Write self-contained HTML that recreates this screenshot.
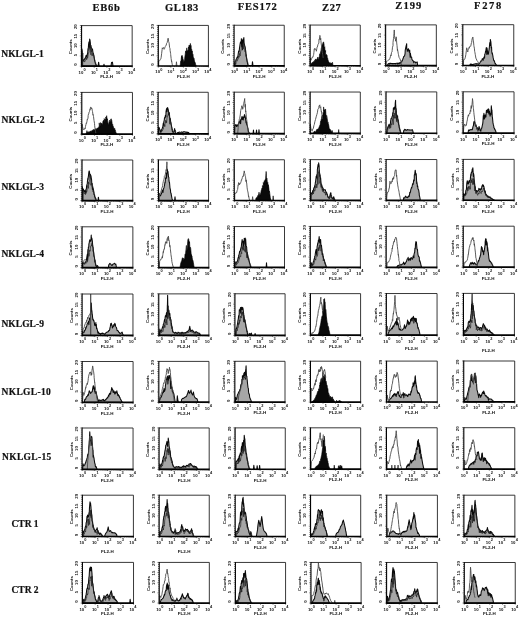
<!DOCTYPE html>
<html><head><meta charset="utf-8"><style>
html,body{margin:0;padding:0;background:#fff;}
svg{display:block;will-change:transform;}
.hd{font-family:"Liberation Serif",serif;font-weight:bold;font-size:10.5px;fill:#111;stroke:#111;stroke-width:0.2;}
.rl{font-family:"Liberation Serif",serif;font-weight:bold;font-size:9.5px;fill:#111;stroke:#111;stroke-width:0.2;}
.tk{font-family:"Liberation Sans",sans-serif;font-weight:bold;font-size:4.3px;fill:#111;}
.sp{font-family:"Liberation Sans",sans-serif;font-weight:bold;font-size:3.9px;fill:#111;}
.hg{fill:#a6a6a6;stroke:#0a0a0a;stroke-width:1.05;stroke-linejoin:round;}
.hk{fill:#0a0a0a;stroke:#000;stroke-width:0.6;stroke-linejoin:round;}
.hi{fill:none;stroke:#222;stroke-width:0.7;stroke-linejoin:round;}
.ho{fill:none;stroke:#4a4a4a;stroke-width:0.9;stroke-linejoin:round;}
</style></head><body>
<svg width="520" height="621" viewBox="0 0 520 621" xmlns="http://www.w3.org/2000/svg">
<rect width="520" height="621" fill="#fff"/>

<text class="hd" x="92.6" y="10.8" textLength="27.3" lengthAdjust="spacing">EB6b</text>
<text class="hd" x="165.1" y="10.5" textLength="33.2" lengthAdjust="spacing">GL183</text>
<text class="hd" x="237.8" y="10.1" textLength="38.9" lengthAdjust="spacing">FES172</text>
<text class="hd" x="322" y="10.8" textLength="18.8" lengthAdjust="spacing">Z27</text>
<text class="hd" x="395.3" y="8.6" textLength="26" lengthAdjust="spacing">Z199</text>
<text class="hd" x="474.1" y="8.6" textLength="27.2" lengthAdjust="spacing">F278</text>
<text class="rl" x="1.2" y="56.6" textLength="42.6" lengthAdjust="spacing">NKLGL-1</text>
<text class="rl" x="1.4" y="122.6" textLength="43" lengthAdjust="spacing">NKLGL-2</text>
<text class="rl" x="1.4" y="189.9" textLength="42.6" lengthAdjust="spacing">NKLGL-3</text>
<text class="rl" x="1.4" y="257.2" textLength="42.6" lengthAdjust="spacing">NKLGL-4</text>
<text class="rl" x="1.4" y="327.2" textLength="42.6" lengthAdjust="spacing">NKLGL-9</text>
<text class="rl" x="1.6" y="394.9" textLength="49.1" lengthAdjust="spacing">NKLGL-10</text>
<text class="rl" x="2" y="459.6" textLength="49.3" lengthAdjust="spacing">NKLGL-15</text>
<text class="rl" x="11.5" y="526.6" textLength="27.1" lengthAdjust="spacing">CTR 1</text>
<text class="rl" x="11.5" y="593" textLength="27.1" lengthAdjust="spacing">CTR 2</text>
<path class="hg" d="M82,66.1L82,49.01L82,66.1L82,49.68L82.25,51.17L82.37,59.64L82.5,60.28L83,59.45L83.5,60.48L83.85,60.28L84,60.19L84.5,59.13L85,58.3L85.08,57.97L85.5,58.1L86,55.55L86.06,56.18L86.5,56.96L86.92,54.88L87,57.07L87.5,53.39L87.54,54.44L88,48.51L88.15,50.5L88.5,45.33L88.77,43.13L89,41.8L89.5,47.6L89.63,39.14L90,40.01L90.37,43.01L90.5,47.88L91,45.54L91.23,47.52L91.5,47.78L92,49.47L92.22,49.84L92.5,49.08L93,52.74L93.08,52.77L93.5,53.92L93.94,56.1L94,56.36L94.5,60.26L94.92,61.07L95,61.88L95.5,63.96L95.91,64.47L96,64.63L96.5,65.63L96.77,66.1L96.77,66.1Z"/><path class="hg" d="M98,66.1L98,66.1L98,66.1L98.5,63L98.62,62.19L99,64.71L99.23,66.1L99.23,66.1Z"/><path class="hg" d="M103.54,66.1L103.54,66.1L103.54,66.1L104.03,64.17L104.04,64.62L104.52,66.1L104.52,66.1Z"/><path class="hg" d="M110.92,66.1L110.92,66.1L110.92,66.1L111.42,63.25L111.54,62.42L111.92,62.34L112.4,62.12L112.42,62.19L112.92,65.26L113.14,66.1L113.14,66.1Z"/><path class="hi" d="M82.6,52.77L82.6,52.77L82.6,66.1L82.6,53.98L82.85,53.03L82.97,61.65L83.1,61.24L83.6,61.25L84.1,61.46L84.45,61.44L84.6,62.08L85.1,60.9L85.6,60.18L85.68,60.02L86.1,59.02L86.6,58.17L86.66,59.61L87.1,57.23L87.52,57.56L87.6,58.16L88.1,55.24L88.14,53.82L88.6,53.48L88.75,52.27L89.1,52.31L89.37,47.86L89.6,48.57L90.1,49.45L90.23,44.74L90.6,52.18L90.97,54.93L91.1,49.11L91.6,51.88L91.83,49.78L92.1,56.05L92.6,53.64L92.82,53.52L93.1,53.22L93.6,55.42L93.68,55.14L94.1,56.84L94.54,59.06L94.6,59.06L95.1,61.71L95.52,62.22L95.6,62.38L96.1,64.38L96.51,64.82L96.6,65.3L97.1,65.77L97.37,66.1"/><path d="M81.57,25.6H132.17V66.1" fill="none" stroke="#222" stroke-width="0.9"/><path d="M81.57,25.2V66.1" fill="none" stroke="#000" stroke-width="1.1"/><path d="M81.07,66.1H132.67" fill="none" stroke="#000" stroke-width="1.7"/><path d="M79.87,66.1H81.57M80.37,64.07H81.57M80.37,62.05H81.57M80.37,60.02H81.57M80.37,58H81.57M79.87,55.97H81.57M80.37,53.95H81.57M80.37,51.92H81.57M80.37,49.9H81.57M80.37,47.88H81.57M79.87,45.85H81.57M80.37,43.82H81.57M80.37,41.8H81.57M80.37,39.77H81.57M80.37,37.75H81.57M79.87,35.73H81.57M80.37,33.7H81.57M80.37,31.67H81.57M80.37,29.65H81.57M80.37,27.62H81.57M79.87,25.6H81.57M81.57,66.1V67.7M85.38,66.1V67M87.61,66.1V67M89.19,66.1V67M90.42,66.1V67M91.42,66.1V67M92.26,66.1V67M93,66.1V67M93.65,66.1V67M94.22,66.1V67.7M98.03,66.1V67M100.26,66.1V67M101.84,66.1V67M103.07,66.1V67M104.07,66.1V67M104.91,66.1V67M105.65,66.1V67M106.3,66.1V67M106.87,66.1V67.7M110.68,66.1V67M112.91,66.1V67M114.49,66.1V67M115.72,66.1V67M116.72,66.1V67M117.56,66.1V67M118.3,66.1V67M118.95,66.1V67M119.52,66.1V67.7M123.33,66.1V67M125.56,66.1V67M127.14,66.1V67M128.37,66.1V67M129.37,66.1V67M130.21,66.1V67M130.95,66.1V67M131.6,66.1V67M132.17,66.1V67.7" stroke="#111" stroke-width="0.6" fill="none"/><text class="tk" transform="translate(77.17,64.65) rotate(-90)" text-anchor="middle" font-size="4.8">0</text><text class="tk" transform="translate(77.17,55.16) rotate(-90)" text-anchor="middle" font-size="4.8">5</text><text class="tk" transform="translate(77.17,45.67) rotate(-90)" text-anchor="middle" font-size="4.8">10</text><text class="tk" transform="translate(77.17,36.19) rotate(-90)" text-anchor="middle" font-size="4.8">15</text><text class="tk" transform="translate(77.17,26.7) rotate(-90)" text-anchor="middle" font-size="4.8">20</text><text class="tk" transform="translate(71.97,46.75) rotate(-90)" font-size="5" textLength="14.8" lengthAdjust="spacingAndGlyphs" x="-7.4">Counts</text><text class="tk" x="80.97" y="73.6" text-anchor="middle" font-size="5.3">10</text><text class="sp" x="83.47" y="70.8">0</text><text class="tk" x="93.34" y="73.6" text-anchor="middle" font-size="5.3">10</text><text class="sp" x="95.84" y="70.8">1</text><text class="tk" x="105.71" y="73.6" text-anchor="middle" font-size="5.3">10</text><text class="sp" x="108.21" y="70.8">2</text><text class="tk" x="118.08" y="73.6" text-anchor="middle" font-size="5.3">10</text><text class="sp" x="120.58" y="70.8">3</text><text class="tk" x="130.45" y="73.6" text-anchor="middle" font-size="5.3">10</text><text class="sp" x="132.95" y="70.8">4</text><text class="tk" x="100.17" y="78.4" font-size="4.6" textLength="12.8" lengthAdjust="spacingAndGlyphs">FL2-H</text>
<path class="hk" d="M180.15,65.98L180.15,65.98L180.15,65.98L180.65,61.48L180.77,62.2L181.15,59.47L181.63,55.74L181.65,58.65L182.15,55.36L182.25,57.11L182.65,56.95L182.98,58.88L183.15,59.15L183.65,60.81L183.85,62.77L184.15,60.92L184.65,59.25L184.71,57.9L185.15,54.87L185.65,50.93L185.69,52.47L186.15,51.3L186.65,49.22L186.68,47.9L187.15,50.43L187.54,50.53L187.65,51.82L188.15,50.05L188.4,46.94L188.65,48.34L189.15,45.11L189.38,46.7L189.65,45.28L190.15,45.39L190.37,43.4L190.65,44.95L191.15,45.42L191.23,48.73L191.65,48.97L192.09,52.34L192.15,50.93L192.65,54.03L193.08,54.51L193.15,56.19L193.65,58.39L194.06,58.08L194.15,58.99L194.65,62.04L194.92,61.86L195.15,62.44L195.65,64.25L195.78,65L196.15,65.68L196.28,65.98L196.28,65.98Z"/><path class="ho" d="M158.62,60.96L158.62,60.96L158.62,65.98L158.62,61.57L159.12,60.86L159.62,60.72L159.85,60.37L160.12,59.8L160.62,59.04L161.08,58.17L161.12,57.7L161.62,53.71L162.12,49.52L162.31,47.79L162.62,48.68L163.12,47.98L163.54,47.5L163.62,47.94L164.12,49.32L164.52,48.62L164.62,48.44L165.12,46.67L165.38,46.43L165.62,46.19L166.12,45.21L166.25,45.04L166.62,43.32L167.12,42.68L167.23,42.41L167.62,40.23L168.12,38.16L168.22,38.44L168.62,41.53L169.08,42.81L169.12,43.11L169.62,47.63L169.94,48.5L170.12,50.5L170.62,53.54L170.68,54.48L171.12,58.44L171.54,61.47L171.62,60.83L172.12,63.86L172.15,64.17L172.62,65.51L172.77,65.98"/><path class="ho" d="M176.09,65.98L176.09,65.98L176.09,65.98L176.46,61.78L176.59,63.08L176.95,65.98"/><path d="M158.31,25.42H208.41V65.98" fill="none" stroke="#222" stroke-width="0.9"/><path d="M158.31,25.02V65.98" fill="none" stroke="#000" stroke-width="1.1"/><path d="M157.81,65.98H208.91" fill="none" stroke="#000" stroke-width="1.7"/><path d="M156.61,65.98H158.31M157.11,63.95H158.31M157.11,61.92H158.31M157.11,59.9H158.31M157.11,57.87H158.31M156.61,55.84H158.31M157.11,53.81H158.31M157.11,51.78H158.31M157.11,49.76H158.31M157.11,47.73H158.31M156.61,45.7H158.31M157.11,43.67H158.31M157.11,41.64H158.31M157.11,39.62H158.31M157.11,37.59H158.31M156.61,35.56H158.31M157.11,33.53H158.31M157.11,31.5H158.31M157.11,29.48H158.31M157.11,27.45H158.31M156.61,25.42H158.31M158.31,65.98V67.58M162.08,65.98V66.88M164.28,65.98V66.88M165.85,65.98V66.88M167.06,65.98V66.88M168.05,65.98V66.88M168.89,65.98V66.88M169.62,65.98V66.88M170.26,65.98V66.88M170.83,65.98V67.58M174.6,65.98V66.88M176.81,65.98V66.88M178.37,65.98V66.88M179.59,65.98V66.88M180.58,65.98V66.88M181.42,65.98V66.88M182.14,65.98V66.88M182.78,65.98V66.88M183.36,65.98V67.58M187.13,65.98V66.88M189.33,65.98V66.88M190.9,65.98V66.88M192.11,65.98V66.88M193.1,65.98V66.88M193.94,65.98V66.88M194.67,65.98V66.88M195.31,65.98V66.88M195.88,65.98V67.58M199.65,65.98V66.88M201.86,65.98V66.88M203.42,65.98V66.88M204.64,65.98V66.88M205.63,65.98V66.88M206.47,65.98V66.88M207.19,65.98V66.88M207.83,65.98V66.88M208.41,65.98V67.58" stroke="#111" stroke-width="0.6" fill="none"/><text class="tk" transform="translate(153.91,64.53) rotate(-90)" text-anchor="middle" font-size="4.8">0</text><text class="tk" transform="translate(153.91,55.03) rotate(-90)" text-anchor="middle" font-size="4.8">5</text><text class="tk" transform="translate(153.91,45.52) rotate(-90)" text-anchor="middle" font-size="4.8">10</text><text class="tk" transform="translate(153.91,36.02) rotate(-90)" text-anchor="middle" font-size="4.8">15</text><text class="tk" transform="translate(153.91,26.52) rotate(-90)" text-anchor="middle" font-size="4.8">20</text><text class="tk" transform="translate(148.71,46.6) rotate(-90)" font-size="5" textLength="14.8" lengthAdjust="spacingAndGlyphs" x="-7.4">Counts</text><text class="tk" x="157.71" y="73.48" text-anchor="middle" font-size="5.3">10</text><text class="sp" x="160.21" y="70.68">0</text><text class="tk" x="169.95" y="73.48" text-anchor="middle" font-size="5.3">10</text><text class="sp" x="172.45" y="70.68">1</text><text class="tk" x="182.2" y="73.48" text-anchor="middle" font-size="5.3">10</text><text class="sp" x="184.7" y="70.68">2</text><text class="tk" x="194.44" y="73.48" text-anchor="middle" font-size="5.3">10</text><text class="sp" x="196.94" y="70.68">3</text><text class="tk" x="206.69" y="73.48" text-anchor="middle" font-size="5.3">10</text><text class="sp" x="209.19" y="70.68">4</text><text class="tk" x="176.91" y="78.28" font-size="4.6" textLength="12.8" lengthAdjust="spacingAndGlyphs">FL2-H</text>
<path class="hg" d="M234.62,65.86L234.62,65.86L234.62,65.86L234.86,62.19L235.12,61.48L235.62,60.93L235.85,60.42L236.12,59.13L236.62,58.98L236.83,57.92L237.12,57.1L237.62,57.67L237.69,57.3L238.12,54.48L238.55,51.45L238.62,50.97L239.12,51.95L239.54,47.45L239.62,47.62L240.12,43.84L240.52,41.98L240.62,42.38L241.12,43.28L241.38,38.65L241.62,46.56L242.12,40.13L242.62,44.53L242.62,49.66L243.12,39.02L243.62,41.89L243.85,37.46L244.12,43.3L244.46,44.32L244.62,45.6L245.08,46.56L245.12,46.61L245.62,50.74L245.69,51.33L246.12,55.75L246.31,56.91L246.62,58.33L247.12,61.95L247.17,61.61L247.62,63.78L248.12,65.71L248.15,65.86L248.15,65.86Z"/><path class="hg" d="M252.09,65.86L252.09,65.86L252.09,65.86L252.46,61.68L252.59,62.25L252.95,65.86L252.95,65.86Z"/><path class="hi" d="M235.22,65.86L235.22,65.86L235.22,65.86L235.46,62.56L235.72,64.34L236.22,61.41L236.45,60.98L236.72,60.57L237.22,61.15L237.43,59.79L237.72,59.03L238.22,59.15L238.29,57.88L238.72,56L239.15,57.3L239.22,55.5L239.72,53.25L240.14,55.9L240.22,54.34L240.72,51.31L241.12,49.97L241.22,48.95L241.72,45.73L241.98,45.36L242.22,45.32L242.72,44.54L243.22,43.3L243.22,48.98L243.72,45.44L244.22,43.74L244.45,46.02L244.72,47.41L245.06,51.8L245.22,49.11L245.68,50.69L245.72,51.77L246.22,56.57L246.29,54.62L246.72,58.38L246.91,59.04L247.22,60.14L247.72,62.34L247.77,62.44L248.22,64.83L248.72,65.73L248.75,65.86"/><path d="M234.09,25.24H284.24V65.86" fill="none" stroke="#222" stroke-width="0.9"/><path d="M234.09,24.84V65.86" fill="none" stroke="#000" stroke-width="1.1"/><path d="M233.59,65.86H284.74" fill="none" stroke="#000" stroke-width="1.7"/><path d="M232.39,65.86H234.09M232.89,63.83H234.09M232.89,61.8H234.09M232.89,59.77H234.09M232.89,57.74H234.09M232.39,55.7H234.09M232.89,53.67H234.09M232.89,51.64H234.09M232.89,49.61H234.09M232.89,47.58H234.09M232.39,45.55H234.09M232.89,43.52H234.09M232.89,41.49H234.09M232.89,39.46H234.09M232.89,37.43H234.09M232.39,35.4H234.09M232.89,33.36H234.09M232.89,31.33H234.09M232.89,29.3H234.09M232.89,27.27H234.09M232.39,25.24H234.09M234.09,65.86V67.46M237.86,65.86V66.76M240.07,65.86V66.76M241.64,65.86V66.76M242.85,65.86V66.76M243.85,65.86V66.76M244.68,65.86V66.76M245.41,65.86V66.76M246.05,65.86V66.76M246.63,65.86V67.46M250.4,65.86V66.76M252.61,65.86V66.76M254.18,65.86V66.76M255.39,65.86V66.76M256.38,65.86V66.76M257.22,65.86V66.76M257.95,65.86V66.76M258.59,65.86V66.76M259.16,65.86V67.46M262.94,65.86V66.76M265.15,65.86V66.76M266.71,65.86V66.76M267.93,65.86V66.76M268.92,65.86V66.76M269.76,65.86V66.76M270.49,65.86V66.76M271.13,65.86V66.76M271.7,65.86V67.46M275.48,65.86V66.76M277.68,65.86V66.76M279.25,65.86V66.76M280.47,65.86V66.76M281.46,65.86V66.76M282.3,65.86V66.76M283.02,65.86V66.76M283.67,65.86V66.76M284.24,65.86V67.46" stroke="#111" stroke-width="0.6" fill="none"/><text class="tk" transform="translate(229.69,64.41) rotate(-90)" text-anchor="middle" font-size="4.8">0</text><text class="tk" transform="translate(229.69,54.89) rotate(-90)" text-anchor="middle" font-size="4.8">5</text><text class="tk" transform="translate(229.69,45.38) rotate(-90)" text-anchor="middle" font-size="4.8">10</text><text class="tk" transform="translate(229.69,35.86) rotate(-90)" text-anchor="middle" font-size="4.8">15</text><text class="tk" transform="translate(229.69,26.34) rotate(-90)" text-anchor="middle" font-size="4.8">20</text><text class="tk" transform="translate(224.49,46.45) rotate(-90)" font-size="5" textLength="14.8" lengthAdjust="spacingAndGlyphs" x="-7.4">Counts</text><text class="tk" x="233.49" y="73.36" text-anchor="middle" font-size="5.3">10</text><text class="sp" x="235.99" y="70.56">0</text><text class="tk" x="245.75" y="73.36" text-anchor="middle" font-size="5.3">10</text><text class="sp" x="248.25" y="70.56">1</text><text class="tk" x="258" y="73.36" text-anchor="middle" font-size="5.3">10</text><text class="sp" x="260.5" y="70.56">2</text><text class="tk" x="270.26" y="73.36" text-anchor="middle" font-size="5.3">10</text><text class="sp" x="272.76" y="70.56">3</text><text class="tk" x="282.52" y="73.36" text-anchor="middle" font-size="5.3">10</text><text class="sp" x="285.02" y="70.56">4</text><text class="tk" x="252.69" y="78.16" font-size="4.6" textLength="12.8" lengthAdjust="spacingAndGlyphs">FL2-H</text>
<path class="hk" d="M310.62,65.74L310.62,65.74L310.62,65.74L311.12,63.7L311.23,63.38L311.62,63.09L312.12,62.94L312.62,62.27L313.08,61.9L313.12,62.56L313.62,61.51L314.12,61.71L314.31,60.85L314.62,60.33L315.12,60.44L315.54,58.93L315.62,60.06L316.12,59.68L316.62,59.15L316.77,59.15L317.12,58.54L317.62,58.4L317.75,57.04L318.12,58.32L318.62,60.58L318.62,59.55L319.12,57.08L319.23,57.58L319.62,54.06L320.12,54.39L320.22,53.23L320.62,52.02L321.08,49.99L321.12,49L321.62,46.91L321.94,45.86L322.12,45.2L322.62,43.75L322.68,43.67L323.12,42.19L323.54,42.05L323.62,41.95L324.12,44.61L324.15,48.42L324.62,47.17L324.77,46.68L325.12,52.1L325.62,50.42L325.63,54.19L326.12,54.67L326.37,54.2L326.62,54.64L327.12,55.4L327.23,58.12L327.62,57.98L328.09,60.63L328.12,60.37L328.62,61.94L329.08,61.97L329.12,62.46L329.62,62.96L330.12,62.48L330.31,62.65L330.62,63.39L331.12,62.98L331.54,63.79L331.62,63.24L332.12,62.68L332.52,62.23L332.62,62.91L333.02,65.74L333.02,65.74Z"/><path class="ho" d="M310.37,58.06L310.37,58.06L310.37,65.74L310.37,58.29L310.87,59.61L311.23,60.19L311.37,59.22L311.87,58.14L312.37,57.05L312.46,57.12L312.87,57.3L313.37,55.57L313.69,54.31L313.87,52.8L314.31,48.94L314.37,49.29L314.87,48.29L315.29,49.38L315.37,49.18L315.87,49.76L316.15,50.1L316.37,51.24L316.87,48.33L317.02,47.12L317.37,46.98L317.87,44.9L318,44.44L318.37,43.9L318.87,42.97L318.98,39.19L319.37,39.57L319.85,36.36L319.87,35.38L320.37,39.85L320.71,38.32L320.87,40.38L321.37,45.26L321.45,45.18L321.87,48.67L321.94,50.36L322.37,52.61L322.68,54.64L322.87,55.77L323.17,58.06"/><path d="M310.13,25.06H360.28V65.74" fill="none" stroke="#222" stroke-width="0.9"/><path d="M310.13,24.66V65.74" fill="none" stroke="#000" stroke-width="1.1"/><path d="M309.63,65.74H360.78" fill="none" stroke="#000" stroke-width="1.7"/><path d="M308.43,65.74H310.13M308.93,63.71H310.13M308.93,61.67H310.13M308.93,59.64H310.13M308.93,57.6H310.13M308.43,55.57H310.13M308.93,53.54H310.13M308.93,51.5H310.13M308.93,49.47H310.13M308.93,47.43H310.13M308.43,45.4H310.13M308.93,43.37H310.13M308.93,41.33H310.13M308.93,39.3H310.13M308.93,37.26H310.13M308.43,35.23H310.13M308.93,33.2H310.13M308.93,31.16H310.13M308.93,29.13H310.13M308.93,27.09H310.13M308.43,25.06H310.13M310.13,65.74V67.34M313.9,65.74V66.64M316.11,65.74V66.64M317.68,65.74V66.64M318.89,65.74V66.64M319.88,65.74V66.64M320.72,65.74V66.64M321.45,65.74V66.64M322.09,65.74V66.64M322.67,65.74V67.34M326.44,65.74V66.64M328.65,65.74V66.64M330.21,65.74V66.64M331.43,65.74V66.64M332.42,65.74V66.64M333.26,65.74V66.64M333.99,65.74V66.64M334.63,65.74V66.64M335.2,65.74V67.34M338.98,65.74V66.64M341.19,65.74V66.64M342.75,65.74V66.64M343.97,65.74V66.64M344.96,65.74V66.64M345.8,65.74V66.64M346.53,65.74V66.64M347.17,65.74V66.64M347.74,65.74V67.34M351.52,65.74V66.64M353.72,65.74V66.64M355.29,65.74V66.64M356.5,65.74V66.64M357.5,65.74V66.64M358.34,65.74V66.64M359.06,65.74V66.64M359.71,65.74V66.64M360.28,65.74V67.34" stroke="#111" stroke-width="0.6" fill="none"/><text class="tk" transform="translate(305.73,64.29) rotate(-90)" text-anchor="middle" font-size="4.8">0</text><text class="tk" transform="translate(305.73,54.76) rotate(-90)" text-anchor="middle" font-size="4.8">5</text><text class="tk" transform="translate(305.73,45.22) rotate(-90)" text-anchor="middle" font-size="4.8">10</text><text class="tk" transform="translate(305.73,35.69) rotate(-90)" text-anchor="middle" font-size="4.8">15</text><text class="tk" transform="translate(305.73,26.16) rotate(-90)" text-anchor="middle" font-size="4.8">20</text><text class="tk" transform="translate(300.53,46.3) rotate(-90)" font-size="5" textLength="14.8" lengthAdjust="spacingAndGlyphs" x="-7.4">Counts</text><text class="tk" x="309.53" y="73.24" text-anchor="middle" font-size="5.3">10</text><text class="sp" x="312.03" y="70.44">0</text><text class="tk" x="321.79" y="73.24" text-anchor="middle" font-size="5.3">10</text><text class="sp" x="324.29" y="70.44">1</text><text class="tk" x="334.04" y="73.24" text-anchor="middle" font-size="5.3">10</text><text class="sp" x="336.54" y="70.44">2</text><text class="tk" x="346.3" y="73.24" text-anchor="middle" font-size="5.3">10</text><text class="sp" x="348.8" y="70.44">3</text><text class="tk" x="358.56" y="73.24" text-anchor="middle" font-size="5.3">10</text><text class="sp" x="361.06" y="70.44">4</text><text class="tk" x="328.73" y="78.04" font-size="4.6" textLength="12.8" lengthAdjust="spacingAndGlyphs">FL2-H</text>
<path class="hg" d="M387.23,65.62L387.23,65.62L387.23,65.62L387.73,64.49L387.85,64.3L388.23,63.65L388.73,63.57L389.23,64.13L389.73,63.25L390.23,63.46L390.31,63.61L390.73,63.26L391.23,63.5L391.73,63.47L392.23,63.77L392.73,63.5L392.77,63.58L393.23,63.84L393.73,63.52L394.23,63.55L394.73,63.52L395.23,63.5L395.23,64L395.73,63.45L396.23,63.33L396.73,63.35L397.23,63.64L397.69,63.12L397.73,64L398.23,63.05L398.73,63.44L399.23,63.75L399.73,62.61L400.15,62.7L400.23,63.33L400.73,62.62L401.23,61.92L401.73,61.78L402,60.75L402.23,60.74L402.73,59.5L403.23,57.93L403.23,58.38L403.73,56.41L404.09,56.45L404.23,56.23L404.73,55.33L405.08,53.3L405.23,50.01L405.73,47.87L406.06,46.15L406.23,45.77L406.68,43.68L406.73,48.89L407.23,49.68L407.29,51.35L407.73,49.66L408.15,50.25L408.23,48.6L408.73,50.14L408.77,50.91L409.23,52.19L409.73,50.04L409.75,51.91L410.23,57.35L410.37,53.18L410.73,55.72L410.98,56.14L411.23,57.24L411.73,57.46L411.85,59.33L412.23,59.64L412.71,60.69L412.73,60.41L413.23,60.96L413.69,61.88L413.73,62.69L414.23,61.77L414.73,61.76L414.92,61.89L415.23,62.06L415.73,62.97L416.15,62.51L416.23,62.39L416.73,62.12L417.14,61.9L417.23,62.12L417.63,65.62L417.63,65.62Z"/><path class="ho" d="M386,65.62L386,65.62L386,65.62L386.37,61.55L386.5,61.18L387,61.44L387.5,60.78L387.85,60.63L388,60.45L388.5,60L389,59.81L389.5,59.45L389.69,58.83L390,58.11L390.5,56.29L390.92,54.9L391,55.76L391.5,52.57L392,51.97L392.15,50.56L392.5,47.2L393,45.72L393.02,42.4L393.5,38.37L393.75,36.29L394,33.44L394.25,29.94L394.5,35.36L394.74,37.75L395,38.94L395.48,39.26L395.5,41.21L396,37.7L396.22,36.83L396.5,40.14L396.71,42.99L397,45.36L397.45,50.63L397.5,49.28L398,51.99L398.31,53.78L398.5,54.66L399,57.16L399.17,57.6L399.5,58.15L399.91,58.78L400,58.86L400.5,60.4L400.77,60.02L401,62.09L401.38,65.62"/><path d="M385.63,24.88H436.33V65.62" fill="none" stroke="#222" stroke-width="0.9"/><path d="M385.63,24.48V65.62" fill="none" stroke="#000" stroke-width="1.1"/><path d="M385.13,65.62H436.83" fill="none" stroke="#000" stroke-width="1.7"/><path d="M383.93,65.62H385.63M384.43,63.58H385.63M384.43,61.55H385.63M384.43,59.51H385.63M384.43,57.47H385.63M383.93,55.44H385.63M384.43,53.4H385.63M384.43,51.36H385.63M384.43,49.32H385.63M384.43,47.29H385.63M383.93,45.25H385.63M384.43,43.21H385.63M384.43,41.18H385.63M384.43,39.14H385.63M384.43,37.1H385.63M383.93,35.07H385.63M384.43,33.03H385.63M384.43,30.99H385.63M384.43,28.95H385.63M384.43,26.92H385.63M383.93,24.88H385.63M385.63,65.62V67.22M389.45,65.62V66.52M391.68,65.62V66.52M393.26,65.62V66.52M394.49,65.62V66.52M395.5,65.62V66.52M396.35,65.62V66.52M397.08,65.62V66.52M397.73,65.62V66.52M398.31,65.62V67.22M402.12,65.62V66.52M404.36,65.62V66.52M405.94,65.62V66.52M407.17,65.62V66.52M408.17,65.62V66.52M409.02,65.62V66.52M409.76,65.62V66.52M410.4,65.62V66.52M410.98,65.62V67.22M414.8,65.62V66.52M417.03,65.62V66.52M418.61,65.62V66.52M419.84,65.62V66.52M420.85,65.62V66.52M421.7,65.62V66.52M422.43,65.62V66.52M423.08,65.62V66.52M423.66,65.62V67.22M427.47,65.62V66.52M429.71,65.62V66.52M431.29,65.62V66.52M432.52,65.62V66.52M433.52,65.62V66.52M434.37,65.62V66.52M435.11,65.62V66.52M435.75,65.62V66.52M436.33,65.62V67.22" stroke="#111" stroke-width="0.6" fill="none"/><text class="tk" transform="translate(381.23,64.17) rotate(-90)" text-anchor="middle" font-size="4.8">0</text><text class="tk" transform="translate(381.23,54.62) rotate(-90)" text-anchor="middle" font-size="4.8">5</text><text class="tk" transform="translate(381.23,45.08) rotate(-90)" text-anchor="middle" font-size="4.8">10</text><text class="tk" transform="translate(381.23,35.53) rotate(-90)" text-anchor="middle" font-size="4.8">15</text><text class="tk" transform="translate(381.23,25.98) rotate(-90)" text-anchor="middle" font-size="4.8">20</text><text class="tk" transform="translate(376.03,46.15) rotate(-90)" font-size="5" textLength="14.8" lengthAdjust="spacingAndGlyphs" x="-7.4">Counts</text><text class="tk" x="385.03" y="73.12" text-anchor="middle" font-size="5.3">10</text><text class="sp" x="387.53" y="70.32">0</text><text class="tk" x="397.43" y="73.12" text-anchor="middle" font-size="5.3">10</text><text class="sp" x="399.93" y="70.32">1</text><text class="tk" x="409.82" y="73.12" text-anchor="middle" font-size="5.3">10</text><text class="sp" x="412.32" y="70.32">2</text><text class="tk" x="422.22" y="73.12" text-anchor="middle" font-size="5.3">10</text><text class="sp" x="424.72" y="70.32">3</text><text class="tk" x="434.61" y="73.12" text-anchor="middle" font-size="5.3">10</text><text class="sp" x="437.11" y="70.32">4</text><text class="tk" x="404.23" y="77.92" font-size="4.6" textLength="12.8" lengthAdjust="spacingAndGlyphs">FL2-H</text>
<path class="hg" d="M469.77,65.5L469.77,65.5L469.77,65.5L470.27,64.15L470.38,63.93L470.77,64.95L471.27,63.98L471.77,64.62L472.27,64.6L472.77,64.4L473.27,64.18L473.46,64.38L473.77,64.17L474.27,64.03L474.77,63.94L475.27,63.85L475.77,63.79L476.27,64.13L476.54,63.82L476.77,63.61L477.27,63.8L477.77,64L478.27,64.17L478.38,64.53L478.77,63.96L479.27,63.57L479.62,63.3L479.77,63.08L480.27,62.02L480.77,61.15L480.85,60.9L481.27,61L481.77,60.98L482.08,59.25L482.27,58.83L482.77,58.73L483.27,60.2L483.31,58.66L483.77,57.63L484.27,56.63L484.54,58.17L484.77,54.19L485.27,53.13L485.52,51.39L485.77,51.02L486.27,47.52L486.38,48.65L486.77,54.43L487,47.92L487.27,50.03L487.62,51.91L487.77,54.01L488.27,54.3L488.48,53.67L488.77,51.28L489.22,48.71L489.27,47.98L489.77,42.6L489.83,44.56L490.27,45.49L490.32,39.43L490.77,41.27L490.94,42.54L491.27,48.03L491.55,47.06L491.77,51.64L492.17,53.88L492.27,52.84L492.77,55.34L493.15,57.7L493.27,58.25L493.77,60.53L494.14,60.94L494.27,60.65L494.77,62.39L495,63.5L495.27,63.31L495.77,64.28L495.86,64.46L496.27,64.95L496.77,65.43L496.85,65.5L496.85,65.5Z"/><path class="ho" d="M463.37,65.5L463.37,65.5L463.37,65.5L463.62,59.97L463.87,59.4L464.37,59.52L464.85,59L464.87,58.82L465.37,57.22L465.83,54.52L465.87,54.46L466.37,50.47L466.69,47.81L466.87,48.25L467.31,50.4L467.37,51.29L467.87,52.01L467.92,50.78L468.37,49.28L468.78,48.94L468.87,47.65L469.37,48.15L469.77,46.46L469.87,46.53L470.37,46.02L470.75,46.32L470.87,45.7L471.37,42.86L471.62,42.6L471.87,40.3L472.23,38.52L472.37,38.7L472.85,36.99L472.87,37.27L473.37,41.6L473.46,41.33L473.87,45.56L474.08,46.84L474.37,48.14L474.69,51.53L474.87,52.17L475.31,54.68L475.37,55.07L475.87,58.07L476.17,58.9L476.37,58.98L476.87,60.35L477.15,60.83L477.37,61.07L477.87,61.68L478.14,62.02L478.37,63.02L478.87,64.98L479,65.5"/><path d="M462.81,24.7H513.76V65.5" fill="none" stroke="#222" stroke-width="0.9"/><path d="M462.81,24.3V65.5" fill="none" stroke="#000" stroke-width="1.1"/><path d="M462.31,65.5H514.26" fill="none" stroke="#000" stroke-width="1.7"/><path d="M461.11,65.5H462.81M461.61,63.46H462.81M461.61,61.42H462.81M461.61,59.38H462.81M461.61,57.34H462.81M461.11,55.3H462.81M461.61,53.26H462.81M461.61,51.22H462.81M461.61,49.18H462.81M461.61,47.14H462.81M461.11,45.1H462.81M461.61,43.06H462.81M461.61,41.02H462.81M461.61,38.98H462.81M461.61,36.94H462.81M461.11,34.9H462.81M461.61,32.86H462.81M461.61,30.82H462.81M461.61,28.78H462.81M461.61,26.74H462.81M461.11,24.7H462.81M462.81,65.5V67.1M466.65,65.5V66.4M468.89,65.5V66.4M470.48,65.5V66.4M471.71,65.5V66.4M472.72,65.5V66.4M473.58,65.5V66.4M474.31,65.5V66.4M474.97,65.5V66.4M475.55,65.5V67.1M479.38,65.5V66.4M481.63,65.5V66.4M483.22,65.5V66.4M484.45,65.5V66.4M485.46,65.5V66.4M486.31,65.5V66.4M487.05,65.5V66.4M487.7,65.5V66.4M488.29,65.5V67.1M492.12,65.5V66.4M494.36,65.5V66.4M495.96,65.5V66.4M497.19,65.5V66.4M498.2,65.5V66.4M499.05,65.5V66.4M499.79,65.5V66.4M500.44,65.5V66.4M501.02,65.5V67.1M504.86,65.5V66.4M507.1,65.5V66.4M508.69,65.5V66.4M509.93,65.5V66.4M510.94,65.5V66.4M511.79,65.5V66.4M512.53,65.5V66.4M513.18,65.5V66.4M513.76,65.5V67.1" stroke="#111" stroke-width="0.6" fill="none"/><text class="tk" transform="translate(458.41,64.05) rotate(-90)" text-anchor="middle" font-size="4.8">0</text><text class="tk" transform="translate(458.41,54.49) rotate(-90)" text-anchor="middle" font-size="4.8">5</text><text class="tk" transform="translate(458.41,44.92) rotate(-90)" text-anchor="middle" font-size="4.8">10</text><text class="tk" transform="translate(458.41,35.36) rotate(-90)" text-anchor="middle" font-size="4.8">15</text><text class="tk" transform="translate(458.41,25.8) rotate(-90)" text-anchor="middle" font-size="4.8">20</text><text class="tk" transform="translate(453.21,46) rotate(-90)" font-size="5" textLength="14.8" lengthAdjust="spacingAndGlyphs" x="-7.4">Counts</text><text class="tk" x="462.21" y="73" text-anchor="middle" font-size="5.3">10</text><text class="sp" x="464.71" y="70.2">0</text><text class="tk" x="474.67" y="73" text-anchor="middle" font-size="5.3">10</text><text class="sp" x="477.17" y="70.2">1</text><text class="tk" x="487.13" y="73" text-anchor="middle" font-size="5.3">10</text><text class="sp" x="489.63" y="70.2">2</text><text class="tk" x="499.58" y="73" text-anchor="middle" font-size="5.3">10</text><text class="sp" x="502.08" y="70.2">3</text><text class="tk" x="512.04" y="73" text-anchor="middle" font-size="5.3">10</text><text class="sp" x="514.54" y="70.2">4</text><text class="tk" x="481.41" y="77.8" font-size="4.6" textLength="12.8" lengthAdjust="spacingAndGlyphs">FL2-H</text>
<path class="hk" d="M85.69,134.1L85.69,134.1L85.69,134.1L86.19,133.43L86.31,132.95L86.69,131.72L86.92,130.67L87.19,131.46L87.54,133.28L87.69,132.37L88.19,132.19L88.69,131.88L88.77,131.87L89.19,131.76L89.69,132.27L90,131.23L90.19,131.5L90.69,131.01L91.19,130.94L91.23,130.75L91.69,131.89L92.19,130.42L92.46,129.97L92.69,130.16L93.19,130.29L93.69,129.25L93.69,130.74L94.19,129.83L94.69,129.95L95.19,129.17L95.54,128.64L95.69,130.39L96.19,128.56L96.69,129.66L97.19,128.2L97.38,128.07L97.69,128.12L98.19,127.62L98.62,127.9L98.69,127.47L99.19,125.86L99.23,122.89L99.69,126.63L99.85,127.25L100.19,124.84L100.46,122.57L100.69,123.11L101.19,124.51L101.32,122.94L101.69,123.43L102.19,124.41L102.31,124.22L102.69,123.36L103.19,120.84L103.29,122.45L103.69,120.18L104.15,122.57L104.19,118.56L104.69,119.44L104.77,119.94L105.19,119.26L105.69,119.36L105.75,116.96L106.19,117.8L106.62,115.78L106.69,115.68L107.19,120.12L107.23,118.72L107.69,120.58L107.85,122.52L108.19,123.9L108.69,125.6L108.71,123.37L109.19,121.66L109.69,120.18L109.69,120.07L110.19,120.93L110.68,121.39L110.69,119.18L111.19,118.78L111.54,119.86L111.69,120.11L112.15,123.25L112.19,125.47L112.69,124.24L113.14,127.4L113.19,126.45L113.69,127.7L114,128.76L114.19,129.3L114.69,128.28L114.86,129.49L115.19,129.75L115.6,131.13L115.69,131.65L116.19,132.96L116.46,134.1L116.46,134.1Z"/><path class="ho" d="M82,124.12L82,124.12L82,134.1L82,124.21L82.5,126.44L82.86,127.98L83,128.33L83.5,129.21L83.85,129.94L84,129.67L84.5,128.9L85,128.15L85.08,128.79L85.5,126.31L86,124.33L86.31,122.94L86.5,123.34L87,121.19L87.29,119.08L87.5,119.49L88,118.07L88.15,115.54L88.5,114.01L89,113.12L89.02,112.07L89.5,111.44L90,109.5L90,110.02L90.5,107.28L91,107.13L91.23,108.92L91.5,107.89L92,108.76L92.22,110.22L92.5,111.42L93,115.09L93.08,114.57L93.5,116.44L93.94,120.09L94,120.47L94.5,123.31L94.68,125.8L95,128.34L95.17,129.44L95.5,131.24L95.91,133.72"/><path d="M81.8,92.4H132.46V134.1" fill="none" stroke="#222" stroke-width="0.9"/><path d="M81.8,92V134.1" fill="none" stroke="#000" stroke-width="1.1"/><path d="M81.3,134.1H132.96" fill="none" stroke="#000" stroke-width="1.7"/><path d="M80.1,134.1H81.8M80.6,132.01H81.8M80.6,129.93H81.8M80.6,127.84H81.8M80.6,125.76H81.8M80.1,123.67H81.8M80.6,121.59H81.8M80.6,119.5H81.8M80.6,117.42H81.8M80.6,115.34H81.8M80.1,113.25H81.8M80.6,111.16H81.8M80.6,109.08H81.8M80.6,107H81.8M80.6,104.91H81.8M80.1,102.83H81.8M80.6,100.74H81.8M80.6,98.66H81.8M80.6,96.57H81.8M80.6,94.49H81.8M80.1,92.4H81.8M81.8,134.1V135.7M85.62,134.1V135M87.85,134.1V135M89.43,134.1V135M90.66,134.1V135M91.66,134.1V135M92.51,134.1V135M93.24,134.1V135M93.89,134.1V135M94.47,134.1V135.7M98.28,134.1V135M100.51,134.1V135M102.09,134.1V135M103.32,134.1V135M104.32,134.1V135M105.17,134.1V135M105.91,134.1V135M106.55,134.1V135M107.13,134.1V135.7M110.95,134.1V135M113.18,134.1V135M114.76,134.1V135M115.99,134.1V135M116.99,134.1V135M117.84,134.1V135M118.57,134.1V135M119.22,134.1V135M119.8,134.1V135.7M123.61,134.1V135M125.84,134.1V135M127.42,134.1V135M128.65,134.1V135M129.65,134.1V135M130.5,134.1V135M131.24,134.1V135M131.88,134.1V135M132.46,134.1V135.7" stroke="#111" stroke-width="0.6" fill="none"/><text class="tk" transform="translate(77.4,132.65) rotate(-90)" text-anchor="middle" font-size="4.8">0</text><text class="tk" transform="translate(77.4,122.86) rotate(-90)" text-anchor="middle" font-size="4.8">5</text><text class="tk" transform="translate(77.4,113.08) rotate(-90)" text-anchor="middle" font-size="4.8">10</text><text class="tk" transform="translate(77.4,103.29) rotate(-90)" text-anchor="middle" font-size="4.8">15</text><text class="tk" transform="translate(77.4,93.5) rotate(-90)" text-anchor="middle" font-size="4.8">20</text><text class="tk" transform="translate(72.2,114.15) rotate(-90)" font-size="5" textLength="14.8" lengthAdjust="spacingAndGlyphs" x="-7.4">Counts</text><text class="tk" x="81.2" y="141.6" text-anchor="middle" font-size="5.3">10</text><text class="sp" x="83.7" y="138.8">0</text><text class="tk" x="93.59" y="141.6" text-anchor="middle" font-size="5.3">10</text><text class="sp" x="96.09" y="138.8">1</text><text class="tk" x="105.97" y="141.6" text-anchor="middle" font-size="5.3">10</text><text class="sp" x="108.47" y="138.8">2</text><text class="tk" x="118.36" y="141.6" text-anchor="middle" font-size="5.3">10</text><text class="sp" x="120.86" y="138.8">3</text><text class="tk" x="130.74" y="141.6" text-anchor="middle" font-size="5.3">10</text><text class="sp" x="133.24" y="138.8">4</text><text class="tk" x="100.4" y="146.4" font-size="4.6" textLength="12.8" lengthAdjust="spacingAndGlyphs">FL2-H</text>
<path class="hg" d="M158.38,133.89L158.38,133.89L158.38,133.89L158.63,127.14L158.88,127.41L159.38,128.07L159.62,129.24L159.88,129.55L160.38,131.25L160.6,132.19L160.88,131.48L161.38,130.43L161.83,129.16L161.88,129.43L162.38,127.94L162.69,127.24L162.88,126.13L163.31,122.99L163.38,125.64L163.88,121.68L164.29,120L164.38,118.7L164.88,116.98L165.15,117.83L165.38,115.29L165.88,116.8L166.02,111.57L166.38,109.53L166.88,108.22L167,111.76L167.38,107.58L167.88,108.09L167.98,109.33L168.38,109.88L168.6,114.74L168.88,112.15L169.22,112.62L169.38,113.21L169.83,119.12L169.88,117.86L170.38,118.78L170.45,119.72L170.88,123.28L170.94,123.45L171.38,125.32L171.68,126.85L171.88,127.89L172.29,130.43L172.38,131.34L172.88,132.18L172.91,132.25L173.38,132.33L173.77,131.73L173.88,131.28L174.38,130.19L174.63,128.53L174.88,130.53L175.12,131.18L175.38,132.47L175.62,133.89L175.62,133.89Z"/><path class="hg" d="M176.85,133.89L176.85,133.89L176.85,133.89L177.35,133.04L177.46,132.85L177.85,132.43L178.35,132.84L178.85,132.19L179.31,132.25L179.35,131.96L179.85,132.2L180.35,132.38L180.85,132.19L181.35,132.09L181.77,132.23L181.85,132.13L182.35,132.26L182.85,132.5L183.35,131.82L183.85,131.78L184.23,131.83L184.35,131.86L184.85,131.75L185.35,132.12L185.85,132.25L186.35,132.23L186.69,132L186.85,132.55L187.35,132.14L187.85,132.61L188.35,132.8L188.54,132.37L188.85,133.09L189.35,133.81L189.4,133.89L189.4,133.89Z"/><path class="hi" d="M158.98,133.89L158.98,133.89L158.98,133.89L159.23,128.68L159.48,128.84L159.98,129.74L160.22,130.26L160.48,130.47L160.98,131.59L161.2,132.39L161.48,131.95L161.98,130.87L162.43,130.14L162.48,130.51L162.98,129.33L163.29,129.08L163.48,127.44L163.91,126.39L163.98,126.64L164.48,124.43L164.89,126.53L164.98,123.84L165.48,122.01L165.75,120.15L165.98,123.15L166.48,121.35L166.62,122.54L166.98,118.37L167.48,115.89L167.6,116.08L167.98,115.22L168.48,111.83L168.58,113.09L168.98,115.27L169.2,114.1L169.48,118.43L169.82,124.19L169.98,119.2L170.43,122.18L170.48,121.8L170.98,122.46L171.05,124.26L171.48,125.39L171.54,126.79L171.98,128.29L172.28,130.08L172.48,129.18L172.89,131.27L172.98,131.61L173.48,132.61L173.51,132.64L173.98,132.33L174.37,132.16L174.48,131.88L174.98,130.81L175.23,129.96L175.48,130.85L175.72,131.71L175.98,132.82L176.22,133.89"/><path d="M158.14,92.28H208.24V133.89" fill="none" stroke="#222" stroke-width="0.9"/><path d="M158.14,91.88V133.89" fill="none" stroke="#000" stroke-width="1.1"/><path d="M157.64,133.89H208.74" fill="none" stroke="#000" stroke-width="1.7"/><path d="M156.44,133.89H158.14M156.94,131.81H158.14M156.94,129.73H158.14M156.94,127.65H158.14M156.94,125.57H158.14M156.44,123.49H158.14M156.94,121.41H158.14M156.94,119.33H158.14M156.94,117.25H158.14M156.94,115.17H158.14M156.44,113.09H158.14M156.94,111H158.14M156.94,108.92H158.14M156.94,106.84H158.14M156.94,104.76H158.14M156.44,102.68H158.14M156.94,100.6H158.14M156.94,98.52H158.14M156.94,96.44H158.14M156.94,94.36H158.14M156.44,92.28H158.14M158.14,133.89V135.49M161.91,133.89V134.79M164.11,133.89V134.79M165.68,133.89V134.79M166.89,133.89V134.79M167.88,133.89V134.79M168.72,133.89V134.79M169.45,133.89V134.79M170.09,133.89V134.79M170.66,133.89V135.49M174.43,133.89V134.79M176.64,133.89V134.79M178.2,133.89V134.79M179.42,133.89V134.79M180.41,133.89V134.79M181.25,133.89V134.79M181.97,133.89V134.79M182.61,133.89V134.79M183.19,133.89V135.49M186.96,133.89V134.79M189.16,133.89V134.79M190.73,133.89V134.79M191.94,133.89V134.79M192.93,133.89V134.79M193.77,133.89V134.79M194.5,133.89V134.79M195.14,133.89V134.79M195.71,133.89V135.49M199.48,133.89V134.79M201.69,133.89V134.79M203.25,133.89V134.79M204.47,133.89V134.79M205.46,133.89V134.79M206.3,133.89V134.79M207.02,133.89V134.79M207.66,133.89V134.79M208.24,133.89V135.49" stroke="#111" stroke-width="0.6" fill="none"/><text class="tk" transform="translate(153.74,132.44) rotate(-90)" text-anchor="middle" font-size="4.8">0</text><text class="tk" transform="translate(153.74,122.68) rotate(-90)" text-anchor="middle" font-size="4.8">5</text><text class="tk" transform="translate(153.74,112.91) rotate(-90)" text-anchor="middle" font-size="4.8">10</text><text class="tk" transform="translate(153.74,103.15) rotate(-90)" text-anchor="middle" font-size="4.8">15</text><text class="tk" transform="translate(153.74,93.38) rotate(-90)" text-anchor="middle" font-size="4.8">20</text><text class="tk" transform="translate(148.54,113.99) rotate(-90)" font-size="5" textLength="14.8" lengthAdjust="spacingAndGlyphs" x="-7.4">Counts</text><text class="tk" x="157.54" y="141.39" text-anchor="middle" font-size="5.3">10</text><text class="sp" x="160.04" y="138.59">0</text><text class="tk" x="169.78" y="141.39" text-anchor="middle" font-size="5.3">10</text><text class="sp" x="172.28" y="138.59">1</text><text class="tk" x="182.03" y="141.39" text-anchor="middle" font-size="5.3">10</text><text class="sp" x="184.53" y="138.59">2</text><text class="tk" x="194.27" y="141.39" text-anchor="middle" font-size="5.3">10</text><text class="sp" x="196.77" y="138.59">3</text><text class="tk" x="206.52" y="141.39" text-anchor="middle" font-size="5.3">10</text><text class="sp" x="209.02" y="138.59">4</text><text class="tk" x="176.74" y="146.19" font-size="4.6" textLength="12.8" lengthAdjust="spacingAndGlyphs">FL2-H</text>
<path class="hg" d="M234.62,133.68L234.62,133.68L234.62,133.68L234.86,125.78L235.12,126.14L235.62,124.76L235.85,124.51L236.12,124.84L236.62,126.51L237.08,125.09L237.12,126.42L237.62,125.17L238.12,124.65L238.31,124.04L238.62,123.39L239.12,121.97L239.29,121.61L239.62,121.36L240.12,123.36L240.15,120.08L240.62,123.64L241.02,119.02L241.12,119.74L241.62,118.69L241.75,117.22L242.12,116.37L242.37,118.89L242.62,119.58L243.12,117.46L243.23,120.01L243.62,116.71L243.97,117.45L244.12,116.39L244.46,114.49L244.62,117.32L245.08,115.82L245.12,116.24L245.45,117.85L245.62,119.43L246.06,122.98L246.12,120.78L246.62,122.72L246.68,124.39L247.12,125.21L247.29,125.69L247.62,127.39L248.12,129.07L248.15,129.87L248.62,132.18L248.77,131.9L249.12,132.76L249.38,133.68L249.38,133.68Z"/><path class="hg" d="M253.08,133.68L253.08,133.68L253.08,133.68L253.45,130.12L253.58,131.18L253.82,133.68L253.82,133.68Z"/><path class="hg" d="M256.15,133.68L256.15,133.68L256.15,133.68L256.52,130.02L256.65,131.29L256.89,133.68L256.89,133.68Z"/><path class="hg" d="M258.62,133.68L258.62,133.68L258.62,133.68L258.98,129.67L259.12,131.03L259.35,133.68L259.35,133.68Z"/><path class="ho" d="M237.69,133.68L237.69,133.68L237.69,133.68L238.19,127.36L238.31,126.93L238.69,123.22L239.19,120.29L239.29,119.32L239.69,118.42L240.15,115.63L240.19,115.74L240.69,110.57L240.77,110.27L241.19,108.72L241.69,107.56L241.75,105.78L242.19,108.18L242.62,106.94L242.69,109.27L243.19,106.19L243.48,104.2L243.69,103.38L244.19,101.47L244.22,101.58L244.69,98.51L244.71,100.12L245.19,107.31L245.32,104.3L245.69,111.81L245.69,110.84L246.19,115.04L246.31,116.96L246.69,119.68L246.92,121.35L247.19,123.29L247.54,126.46L247.69,127.67L248.15,131.02L248.19,131.79L248.69,133.37L248.77,133.68"/><path d="M234.18,92.16H284.33V133.68" fill="none" stroke="#222" stroke-width="0.9"/><path d="M234.18,91.76V133.68" fill="none" stroke="#000" stroke-width="1.1"/><path d="M233.68,133.68H284.83" fill="none" stroke="#000" stroke-width="1.7"/><path d="M232.48,133.68H234.18M232.98,131.6H234.18M232.98,129.53H234.18M232.98,127.45H234.18M232.98,125.38H234.18M232.48,123.3H234.18M232.98,121.22H234.18M232.98,119.15H234.18M232.98,117.07H234.18M232.98,115H234.18M232.48,112.92H234.18M232.98,110.84H234.18M232.98,108.77H234.18M232.98,106.69H234.18M232.98,104.62H234.18M232.48,102.54H234.18M232.98,100.46H234.18M232.98,98.39H234.18M232.98,96.31H234.18M232.98,94.24H234.18M232.48,92.16H234.18M234.18,133.68V135.28M237.95,133.68V134.58M240.16,133.68V134.58M241.73,133.68V134.58M242.94,133.68V134.58M243.93,133.68V134.58M244.77,133.68V134.58M245.5,133.68V134.58M246.14,133.68V134.58M246.72,133.68V135.28M250.49,133.68V134.58M252.7,133.68V134.58M254.26,133.68V134.58M255.48,133.68V134.58M256.47,133.68V134.58M257.31,133.68V134.58M258.04,133.68V134.58M258.68,133.68V134.58M259.25,133.68V135.28M263.03,133.68V134.58M265.23,133.68V134.58M266.8,133.68V134.58M268.02,133.68V134.58M269.01,133.68V134.58M269.85,133.68V134.58M270.58,133.68V134.58M271.22,133.68V134.58M271.79,133.68V135.28M275.56,133.68V134.58M277.77,133.68V134.58M279.34,133.68V134.58M280.55,133.68V134.58M281.55,133.68V134.58M282.39,133.68V134.58M283.11,133.68V134.58M283.75,133.68V134.58M284.33,133.68V135.28" stroke="#111" stroke-width="0.6" fill="none"/><text class="tk" transform="translate(229.78,132.23) rotate(-90)" text-anchor="middle" font-size="4.8">0</text><text class="tk" transform="translate(229.78,122.49) rotate(-90)" text-anchor="middle" font-size="4.8">5</text><text class="tk" transform="translate(229.78,112.75) rotate(-90)" text-anchor="middle" font-size="4.8">10</text><text class="tk" transform="translate(229.78,103) rotate(-90)" text-anchor="middle" font-size="4.8">15</text><text class="tk" transform="translate(229.78,93.26) rotate(-90)" text-anchor="middle" font-size="4.8">20</text><text class="tk" transform="translate(224.58,113.82) rotate(-90)" font-size="5" textLength="14.8" lengthAdjust="spacingAndGlyphs" x="-7.4">Counts</text><text class="tk" x="233.58" y="141.18" text-anchor="middle" font-size="5.3">10</text><text class="sp" x="236.08" y="138.38">0</text><text class="tk" x="245.84" y="141.18" text-anchor="middle" font-size="5.3">10</text><text class="sp" x="248.34" y="138.38">1</text><text class="tk" x="258.09" y="141.18" text-anchor="middle" font-size="5.3">10</text><text class="sp" x="260.59" y="138.38">2</text><text class="tk" x="270.35" y="141.18" text-anchor="middle" font-size="5.3">10</text><text class="sp" x="272.85" y="138.38">3</text><text class="tk" x="282.61" y="141.18" text-anchor="middle" font-size="5.3">10</text><text class="sp" x="285.11" y="138.38">4</text><text class="tk" x="252.78" y="145.98" font-size="4.6" textLength="12.8" lengthAdjust="spacingAndGlyphs">FL2-H</text>
<path class="hk" d="M313.08,133.47L313.08,133.47L313.08,133.47L313.58,132.5L314.08,131.65L314.31,131.03L314.58,131.34L315.08,131.38L315.54,131.74L315.58,131.69L316.08,131.21L316.52,129.68L316.58,130.23L317.08,129.37L317.38,129.4L317.58,129.05L318.08,128.87L318.58,128.55L318.62,128.4L319.08,127.07L319.23,126.8L319.58,125.79L320.08,124.84L320.22,124.25L320.58,121.08L321.08,120.39L321.08,119.84L321.58,118.35L321.69,116.59L322.08,116.57L322.31,116.42L322.58,114.87L322.92,118.21L323.08,112.42L323.54,114.09L323.58,106.93L324.08,111.14L324.15,109.99L324.58,111.95L324.77,109.51L325.08,113.02L325.38,108.97L325.58,109.38L326,115.11L326.08,118.87L326.58,117.71L326.62,115.29L327.08,117.59L327.23,118.69L327.58,120.91L327.85,123.24L328.08,122.38L328.46,125.28L328.58,124.59L329.08,127.16L329.08,128.57L329.58,128.84L330.06,129.1L330.08,129.16L330.58,129.89L330.92,130.51L331.08,130.88L331.54,131.93L331.58,132.23L332.08,130.99L332.15,130.4L332.58,132.47L332.77,133.47L332.77,133.47Z"/><path class="hk" d="M338.31,133.47L338.31,133.47L338.31,133.47L338.68,129.54L338.81,130.78L339.17,133.47L339.17,133.47Z"/><path class="ho" d="M310.37,123.91L310.37,123.91L310.37,133.47L310.37,124.51L310.87,128.17L311.23,129.17L311.37,129.33L311.87,130.57L312.09,131.21L312.37,130.23L312.87,128.91L313.08,128.41L313.37,128.38L313.87,125.6L314.31,124.57L314.37,124.09L314.87,121.7L315.37,119.92L315.54,119.42L315.87,118.02L316.37,116.19L316.77,114.87L316.87,114.45L317.37,112.8L317.87,109.4L318,108.91L318.37,108.54L318.87,108.34L318.98,105.74L319.37,105.87L319.85,104.87L319.87,107.62L320.37,107.36L320.71,106.74L320.87,108.87L321.37,111.85L321.45,111.29L321.87,114.7L321.94,116.07L322.37,117.53L322.68,118.81"/><path d="M310.17,92.04H360.32V133.47" fill="none" stroke="#222" stroke-width="0.9"/><path d="M310.17,91.64V133.47" fill="none" stroke="#000" stroke-width="1.1"/><path d="M309.67,133.47H360.82" fill="none" stroke="#000" stroke-width="1.7"/><path d="M308.47,133.47H310.17M308.97,131.4H310.17M308.97,129.33H310.17M308.97,127.26H310.17M308.97,125.18H310.17M308.47,123.11H310.17M308.97,121.04H310.17M308.97,118.97H310.17M308.97,116.9H310.17M308.97,114.83H310.17M308.47,112.75H310.17M308.97,110.68H310.17M308.97,108.61H310.17M308.97,106.54H310.17M308.97,104.47H310.17M308.47,102.4H310.17M308.97,100.33H310.17M308.97,98.25H310.17M308.97,96.18H310.17M308.97,94.11H310.17M308.47,92.04H310.17M310.17,133.47V135.07M313.95,133.47V134.37M316.15,133.47V134.37M317.72,133.47V134.37M318.93,133.47V134.37M319.93,133.47V134.37M320.77,133.47V134.37M321.49,133.47V134.37M322.13,133.47V134.37M322.71,133.47V135.07M326.48,133.47V134.37M328.69,133.47V134.37M330.26,133.47V134.37M331.47,133.47V134.37M332.46,133.47V134.37M333.3,133.47V134.37M334.03,133.47V134.37M334.67,133.47V134.37M335.25,133.47V135.07M339.02,133.47V134.37M341.23,133.47V134.37M342.79,133.47V134.37M344.01,133.47V134.37M345,133.47V134.37M345.84,133.47V134.37M346.57,133.47V134.37M347.21,133.47V134.37M347.78,133.47V135.07M351.56,133.47V134.37M353.77,133.47V134.37M355.33,133.47V134.37M356.55,133.47V134.37M357.54,133.47V134.37M358.38,133.47V134.37M359.11,133.47V134.37M359.75,133.47V134.37M360.32,133.47V135.07" stroke="#111" stroke-width="0.6" fill="none"/><text class="tk" transform="translate(305.77,132.02) rotate(-90)" text-anchor="middle" font-size="4.8">0</text><text class="tk" transform="translate(305.77,122.3) rotate(-90)" text-anchor="middle" font-size="4.8">5</text><text class="tk" transform="translate(305.77,112.58) rotate(-90)" text-anchor="middle" font-size="4.8">10</text><text class="tk" transform="translate(305.77,102.86) rotate(-90)" text-anchor="middle" font-size="4.8">15</text><text class="tk" transform="translate(305.77,93.14) rotate(-90)" text-anchor="middle" font-size="4.8">20</text><text class="tk" transform="translate(300.57,113.66) rotate(-90)" font-size="5" textLength="14.8" lengthAdjust="spacingAndGlyphs" x="-7.4">Counts</text><text class="tk" x="309.57" y="140.97" text-anchor="middle" font-size="5.3">10</text><text class="sp" x="312.07" y="138.17">0</text><text class="tk" x="321.83" y="140.97" text-anchor="middle" font-size="5.3">10</text><text class="sp" x="324.33" y="138.17">1</text><text class="tk" x="334.09" y="140.97" text-anchor="middle" font-size="5.3">10</text><text class="sp" x="336.59" y="138.17">2</text><text class="tk" x="346.34" y="140.97" text-anchor="middle" font-size="5.3">10</text><text class="sp" x="348.84" y="138.17">3</text><text class="tk" x="358.6" y="140.97" text-anchor="middle" font-size="5.3">10</text><text class="sp" x="361.1" y="138.17">4</text><text class="tk" x="328.77" y="145.77" font-size="4.6" textLength="12.8" lengthAdjust="spacingAndGlyphs">FL2-H</text>
<path class="hg" d="M386.62,133.26L386.62,133.26L386.62,133.26L387.12,129.37L387.23,129.68L387.62,127.64L388.09,126.56L388.12,126.21L388.62,125.56L389.08,124.23L389.12,126.2L389.62,125.61L390.06,126.86L390.12,125.79L390.55,122.06L390.62,121.14L391.12,118.45L391.29,118.25L391.62,118.28L392.12,116.79L392.15,116.61L392.62,115.06L392.77,112.5L393.12,114.06L393.38,107.98L393.62,108.05L394,107.67L394.12,109.16L394.62,106.98L394.62,109.13L395.12,107.17L395.23,103.24L395.6,100.2L395.62,103.42L395.97,109.22L396.12,108.57L396.46,119.25L396.62,114.54L397.08,115.7L397.12,117.16L397.62,116.02L397.69,118.23L398.12,119.41L398.31,121.81L398.62,124.64L398.92,125.23L399.12,127.26L399.54,128.54L399.62,128.92L400.12,131.18L400.15,131.05L400.62,132.73L400.77,133.26L400.77,133.26Z"/><path class="hg" d="M403.23,133.26L403.23,133.26L403.23,133.26L403.73,131.02L403.85,130.28L404.23,130.16L404.73,129.32L405.08,129.85L405.23,129.51L405.73,130.06L406.23,130.33L406.31,130.2L406.73,129.95L407.23,129.61L407.54,129.64L407.73,129.87L408.23,129.96L408.73,129.85L408.77,129.85L409.23,129.83L409.73,130.18L410,130.13L410.23,129.92L410.73,129.93L411.23,130.01L411.23,129.95L411.73,130.1L412.23,129.6L412.46,130.13L412.73,130.62L413.23,132.54L413.45,133.26L413.45,133.26Z"/><path class="hi" d="M387.22,133.26L387.22,133.26L387.22,133.26L387.72,130.36L387.83,129.54L388.22,128.3L388.69,127.28L388.72,126.57L389.22,127.97L389.68,128.59L389.72,126.38L390.22,128.08L390.66,127.68L390.72,127.86L391.15,123.68L391.22,124.55L391.72,125.05L391.89,122.9L392.22,121.27L392.72,119.8L392.75,118.59L393.22,124.7L393.37,118.2L393.72,114.97L393.98,118.49L394.22,113.81L394.6,113.12L394.72,117.76L395.22,116.97L395.22,118.35L395.72,108.6L395.83,108.79L396.2,114.8L396.22,110.96L396.57,121.65L396.72,115.62L397.06,120.17L397.22,118.6L397.68,121.41L397.72,121.92L398.22,122.79L398.29,120.17L398.72,122.18L398.91,124.1L399.22,125.12L399.52,126.92L399.72,128.41L400.14,130.63L400.22,129.78L400.72,131.74L400.75,132.16L401.22,132.92L401.37,133.26"/><path d="M386.06,91.92H436.76V133.26" fill="none" stroke="#222" stroke-width="0.9"/><path d="M386.06,91.52V133.26" fill="none" stroke="#000" stroke-width="1.1"/><path d="M385.56,133.26H437.26" fill="none" stroke="#000" stroke-width="1.7"/><path d="M384.36,133.26H386.06M384.86,131.19H386.06M384.86,129.13H386.06M384.86,127.06H386.06M384.86,124.99H386.06M384.36,122.92H386.06M384.86,120.86H386.06M384.86,118.79H386.06M384.86,116.72H386.06M384.86,114.66H386.06M384.36,112.59H386.06M384.86,110.52H386.06M384.86,108.46H386.06M384.86,106.39H386.06M384.86,104.32H386.06M384.36,102.25H386.06M384.86,100.19H386.06M384.86,98.12H386.06M384.86,96.05H386.06M384.86,93.99H386.06M384.36,91.92H386.06M386.06,133.26V134.86M389.88,133.26V134.16M392.11,133.26V134.16M393.69,133.26V134.16M394.92,133.26V134.16M395.92,133.26V134.16M396.77,133.26V134.16M397.51,133.26V134.16M398.16,133.26V134.16M398.74,133.26V134.86M402.55,133.26V134.16M404.78,133.26V134.16M406.37,133.26V134.16M407.6,133.26V134.16M408.6,133.26V134.16M409.45,133.26V134.16M410.18,133.26V134.16M410.83,133.26V134.16M411.41,133.26V134.86M415.23,133.26V134.16M417.46,133.26V134.16M419.04,133.26V134.16M420.27,133.26V134.16M421.27,133.26V134.16M422.12,133.26V134.16M422.86,133.26V134.16M423.51,133.26V134.16M424.09,133.26V134.86M427.9,133.26V134.16M430.13,133.26V134.16M431.72,133.26V134.16M432.95,133.26V134.16M433.95,133.26V134.16M434.8,133.26V134.16M435.53,133.26V134.16M436.18,133.26V134.16M436.76,133.26V134.86" stroke="#111" stroke-width="0.6" fill="none"/><text class="tk" transform="translate(381.66,131.81) rotate(-90)" text-anchor="middle" font-size="4.8">0</text><text class="tk" transform="translate(381.66,122.11) rotate(-90)" text-anchor="middle" font-size="4.8">5</text><text class="tk" transform="translate(381.66,112.41) rotate(-90)" text-anchor="middle" font-size="4.8">10</text><text class="tk" transform="translate(381.66,102.72) rotate(-90)" text-anchor="middle" font-size="4.8">15</text><text class="tk" transform="translate(381.66,93.02) rotate(-90)" text-anchor="middle" font-size="4.8">20</text><text class="tk" transform="translate(376.46,113.49) rotate(-90)" font-size="5" textLength="14.8" lengthAdjust="spacingAndGlyphs" x="-7.4">Counts</text><text class="tk" x="385.46" y="140.76" text-anchor="middle" font-size="5.3">10</text><text class="sp" x="387.96" y="137.96">0</text><text class="tk" x="397.86" y="140.76" text-anchor="middle" font-size="5.3">10</text><text class="sp" x="400.36" y="137.96">1</text><text class="tk" x="410.25" y="140.76" text-anchor="middle" font-size="5.3">10</text><text class="sp" x="412.75" y="137.96">2</text><text class="tk" x="422.65" y="140.76" text-anchor="middle" font-size="5.3">10</text><text class="sp" x="425.15" y="137.96">3</text><text class="tk" x="435.04" y="140.76" text-anchor="middle" font-size="5.3">10</text><text class="sp" x="437.54" y="137.96">4</text><text class="tk" x="404.66" y="145.56" font-size="4.6" textLength="12.8" lengthAdjust="spacingAndGlyphs">FL2-H</text>
<path class="hg" d="M467.92,133.05L467.92,133.05L467.92,133.05L468.29,131.57L468.42,130.58L468.92,129.91L469.15,130.01L469.42,130.47L469.92,129.93L470.42,129.72L470.92,129.62L471,129.69L471.42,129.76L471.92,129.24L472.23,129.7L472.42,129.3L472.92,126.81L473.22,125.88L473.42,125.69L473.71,122.89L473.92,121.72L474.42,121.38L474.45,121.71L474.92,123.24L475.06,123.71L475.42,126.17L475.92,124.78L475.92,124.75L476.42,126.33L476.91,129.05L476.92,127.22L477.42,128.06L477.77,128.88L477.92,130.25L478.38,130.17L478.42,130.02L478.92,126.79L479,126.58L479.42,127.54L479.62,127.64L479.92,129.98L480.23,130.81L480.42,130.75L480.85,131.15L480.92,130.1L481.42,128.3L481.83,128.01L481.92,127.35L482.42,124.95L482.69,123.82L482.92,121.86L483.31,115.48L483.42,118.02L483.92,113.37L483.92,119.09L484.42,118.89L484.54,114.99L484.92,118.03L485.15,116.46L485.42,114.95L485.92,116.95L486.02,114.95L486.42,110.33L486.75,112.57L486.92,111.52L487.42,109.69L487.62,111.14L487.92,112.36L488.23,108.74L488.42,112.7L488.85,109.38L488.92,113.94L489.42,112.62L489.46,110.94L489.92,114.84L490.08,116.12L490.42,114.55L490.69,113.29L490.92,114.61L491.31,105.66L491.42,107.66L491.92,111.1L491.92,110.15L492.29,117.1L492.42,117.34L492.91,122.16L492.92,122.64L493.42,124.89L493.77,126.11L493.92,128L494.42,127.98L494.63,129.38L494.92,129.06L495.42,130.79L495.62,130.76L495.92,131.88L496.23,133.05L496.23,133.05Z"/><path class="ho" d="M463.37,133.05L463.37,133.05L463.37,133.05L463.86,125.83L463.87,126.05L464.37,124.91L464.85,123.99L464.87,124.29L465.37,125.8L465.83,126.01L465.87,125.9L466.37,125.44L466.69,123.07L466.87,121.85L467.37,119.89L467.55,118.1L467.87,117.01L468.37,114.9L468.54,116.13L468.87,114.73L469.37,113.75L469.77,113.1L469.87,113.66L470.37,110.24L470.75,111.41L470.87,108.89L471.25,105.59L471.37,108.42L471.87,105.56L471.98,104.81L472.37,100.8L472.48,98.57L472.87,101.75L472.97,104.77L473.37,107.42L473.46,108.65L473.87,112.71L474.08,114.85L474.37,117.09L474.69,119.85L474.87,121.23L475.31,123.2L475.37,123.42L475.87,125.68L475.92,126.29L476.37,126.95L476.87,128.11L476.91,128.28L477.37,129.92L477.77,131.06L477.87,131.44L478.37,132.99L478.38,133.05"/><path d="M463.08,91.8H514.03V133.05" fill="none" stroke="#222" stroke-width="0.9"/><path d="M463.08,91.4V133.05" fill="none" stroke="#000" stroke-width="1.1"/><path d="M462.58,133.05H514.53" fill="none" stroke="#000" stroke-width="1.7"/><path d="M461.38,133.05H463.08M461.88,130.99H463.08M461.88,128.93H463.08M461.88,126.86H463.08M461.88,124.8H463.08M461.38,122.74H463.08M461.88,120.68H463.08M461.88,118.61H463.08M461.88,116.55H463.08M461.88,114.49H463.08M461.38,112.43H463.08M461.88,110.36H463.08M461.88,108.3H463.08M461.88,106.24H463.08M461.88,104.17H463.08M461.38,102.11H463.08M461.88,100.05H463.08M461.88,97.99H463.08M461.88,95.92H463.08M461.88,93.86H463.08M461.38,91.8H463.08M463.08,133.05V134.65M466.92,133.05V133.95M469.16,133.05V133.95M470.75,133.05V133.95M471.98,133.05V133.95M472.99,133.05V133.95M473.85,133.05V133.95M474.58,133.05V133.95M475.24,133.05V133.95M475.82,133.05V134.65M479.65,133.05V133.95M481.9,133.05V133.95M483.49,133.05V133.95M484.72,133.05V133.95M485.73,133.05V133.95M486.58,133.05V133.95M487.32,133.05V133.95M487.97,133.05V133.95M488.56,133.05V134.65M492.39,133.05V133.95M494.63,133.05V133.95M496.23,133.05V133.95M497.46,133.05V133.95M498.47,133.05V133.95M499.32,133.05V133.95M500.06,133.05V133.95M500.71,133.05V133.95M501.29,133.05V134.65M505.13,133.05V133.95M507.37,133.05V133.95M508.96,133.05V133.95M510.2,133.05V133.95M511.21,133.05V133.95M512.06,133.05V133.95M512.8,133.05V133.95M513.45,133.05V133.95M514.03,133.05V134.65" stroke="#111" stroke-width="0.6" fill="none"/><text class="tk" transform="translate(458.68,131.6) rotate(-90)" text-anchor="middle" font-size="4.8">0</text><text class="tk" transform="translate(458.68,121.93) rotate(-90)" text-anchor="middle" font-size="4.8">5</text><text class="tk" transform="translate(458.68,112.25) rotate(-90)" text-anchor="middle" font-size="4.8">10</text><text class="tk" transform="translate(458.68,102.58) rotate(-90)" text-anchor="middle" font-size="4.8">15</text><text class="tk" transform="translate(458.68,92.9) rotate(-90)" text-anchor="middle" font-size="4.8">20</text><text class="tk" transform="translate(453.48,113.33) rotate(-90)" font-size="5" textLength="14.8" lengthAdjust="spacingAndGlyphs" x="-7.4">Counts</text><text class="tk" x="462.48" y="140.55" text-anchor="middle" font-size="5.3">10</text><text class="sp" x="464.98" y="137.75">0</text><text class="tk" x="474.94" y="140.55" text-anchor="middle" font-size="5.3">10</text><text class="sp" x="477.44" y="137.75">1</text><text class="tk" x="487.4" y="140.55" text-anchor="middle" font-size="5.3">10</text><text class="sp" x="489.9" y="137.75">2</text><text class="tk" x="499.85" y="140.55" text-anchor="middle" font-size="5.3">10</text><text class="sp" x="502.35" y="137.75">3</text><text class="tk" x="512.31" y="140.55" text-anchor="middle" font-size="5.3">10</text><text class="sp" x="514.81" y="137.75">4</text><text class="tk" x="481.68" y="145.35" font-size="4.6" textLength="12.8" lengthAdjust="spacingAndGlyphs">FL2-H</text>
<path class="hg" d="M82.37,200.7L82.37,186.8L82.37,200.7L82.37,187.19L82.87,189.86L83.23,190.43L83.37,188.98L83.87,191.36L84.09,190.34L84.37,191.52L84.87,190.71L85.08,191.39L85.37,192.91L85.87,190L85.94,189.22L86.37,188.98L86.55,186.28L86.87,184.94L87.29,183.58L87.37,181.94L87.87,178.13L87.91,179.63L88.37,176.39L88.52,175.3L88.87,172.06L89.14,170.93L89.37,171.21L89.75,174.33L89.87,176.61L90.37,175.86L90.37,174.29L90.87,176.02L90.98,175.74L91.37,178.98L91.6,179.71L91.87,184.95L92.22,183.46L92.37,189.09L92.83,189.64L92.87,187.54L93.37,189.36L93.45,189.52L93.87,193.25L94.06,194.56L94.37,194.79L94.68,196.84L94.87,196.84L95.37,198.05L95.54,198.19L95.87,199.69L96.15,200.7L96.15,200.7Z"/><path class="hg" d="M98,200.7L98,200.7L98,200.7L98.37,197.17L98.5,197.78L98.86,200.7L98.86,200.7Z"/><path class="hi" d="M82.97,189.86L82.97,189.86L82.97,200.7L82.97,192.22L83.47,191.36L83.83,193.33L83.97,193.23L84.47,193.58L84.69,193.9L84.97,192.26L85.47,194.6L85.68,193.22L85.97,193.58L86.47,190.68L86.54,192.45L86.97,191.1L87.15,188.87L87.47,187.3L87.89,185.28L87.97,186.4L88.47,188.39L88.51,181.99L88.97,184.37L89.12,181.02L89.47,180.82L89.74,179.72L89.97,176.95L90.35,178.38L90.47,175.73L90.97,185.39L90.97,183.76L91.47,183.26L91.58,182.83L91.97,183.71L92.2,187.09L92.47,186.34L92.82,185.96L92.97,191.75L93.43,190.19L93.47,189.89L93.97,192.56L94.05,192.41L94.47,195.12L94.66,194.85L94.97,196.19L95.28,198.91L95.47,197.71L95.97,198.61L96.14,198.98L96.47,200.4L96.75,200.7"/><path d="M82.03,160H132.75V200.7" fill="none" stroke="#222" stroke-width="0.9"/><path d="M82.03,159.6V200.7" fill="none" stroke="#000" stroke-width="1.1"/><path d="M81.53,200.7H133.25" fill="none" stroke="#000" stroke-width="1.7"/><path d="M80.33,200.7H82.03M80.83,198.66H82.03M80.83,196.63H82.03M80.83,194.59H82.03M80.83,192.56H82.03M80.33,190.52H82.03M80.83,188.49H82.03M80.83,186.45H82.03M80.83,184.42H82.03M80.83,182.38H82.03M80.33,180.35H82.03M80.83,178.31H82.03M80.83,176.28H82.03M80.83,174.25H82.03M80.83,172.21H82.03M80.33,170.18H82.03M80.83,168.14H82.03M80.83,166.1H82.03M80.83,164.07H82.03M80.83,162.03H82.03M80.33,160H82.03M82.03,200.7V202.3M85.85,200.7V201.6M88.08,200.7V201.6M89.67,200.7V201.6M90.9,200.7V201.6M91.9,200.7V201.6M92.75,200.7V201.6M93.49,200.7V201.6M94.13,200.7V201.6M94.71,200.7V202.3M98.53,200.7V201.6M100.76,200.7V201.6M102.35,200.7V201.6M103.58,200.7V201.6M104.58,200.7V201.6M105.43,200.7V201.6M106.17,200.7V201.6M106.81,200.7V201.6M107.39,200.7V202.3M111.21,200.7V201.6M113.44,200.7V201.6M115.03,200.7V201.6M116.26,200.7V201.6M117.26,200.7V201.6M118.11,200.7V201.6M118.85,200.7V201.6M119.49,200.7V201.6M120.07,200.7V202.3M123.89,200.7V201.6M126.12,200.7V201.6M127.71,200.7V201.6M128.94,200.7V201.6M129.94,200.7V201.6M130.79,200.7V201.6M131.53,200.7V201.6M132.17,200.7V201.6M132.75,200.7V202.3" stroke="#111" stroke-width="0.6" fill="none"/><text class="tk" transform="translate(77.63,199.25) rotate(-90)" text-anchor="middle" font-size="4.8">0</text><text class="tk" transform="translate(77.63,189.71) rotate(-90)" text-anchor="middle" font-size="4.8">5</text><text class="tk" transform="translate(77.63,180.18) rotate(-90)" text-anchor="middle" font-size="4.8">10</text><text class="tk" transform="translate(77.63,170.64) rotate(-90)" text-anchor="middle" font-size="4.8">15</text><text class="tk" transform="translate(77.63,161.1) rotate(-90)" text-anchor="middle" font-size="4.8">20</text><text class="tk" transform="translate(72.43,181.25) rotate(-90)" font-size="5" textLength="14.8" lengthAdjust="spacingAndGlyphs" x="-7.4">Counts</text><text class="tk" x="81.43" y="208.2" text-anchor="middle" font-size="5.3">10</text><text class="sp" x="83.93" y="205.4">0</text><text class="tk" x="93.83" y="208.2" text-anchor="middle" font-size="5.3">10</text><text class="sp" x="96.33" y="205.4">1</text><text class="tk" x="106.23" y="208.2" text-anchor="middle" font-size="5.3">10</text><text class="sp" x="108.73" y="205.4">2</text><text class="tk" x="118.63" y="208.2" text-anchor="middle" font-size="5.3">10</text><text class="sp" x="121.13" y="205.4">3</text><text class="tk" x="131.03" y="208.2" text-anchor="middle" font-size="5.3">10</text><text class="sp" x="133.53" y="205.4">4</text><text class="tk" x="100.63" y="213" font-size="4.6" textLength="12.8" lengthAdjust="spacingAndGlyphs">FL2-H</text>
<path class="hg" d="M159,200.61L159,200.61L159,200.61L159.37,194.41L159.5,193.88L160,196.05L160.23,195.75L160.5,195.68L161,194.62L161.09,194.23L161.5,193.53L161.83,192.29L162,191.69L162.5,190.06L162.69,190.61L163,192.39L163.5,188.55L163.55,188.77L164,187.63L164.29,186.22L164.5,185.37L165,181.77L165.15,182.95L165.5,178.58L165.77,177.78L166,177.78L166.38,173.24L166.5,178.14L167,171.49L167,172.96L167.5,169.51L167.62,173.03L168,171.6L168.23,174.68L168.5,176.83L168.85,177.29L169,180.98L169.46,182.99L169.5,182.38L170,188.25L170.08,188.38L170.5,190.18L170.69,192.92L171,192.91L171.31,194.83L171.5,195.96L171.92,198.17L172,198.45L172.5,200.46L172.54,200.61L172.54,200.61Z"/><path class="hg" d="M174.63,200.61L174.63,200.61L174.63,200.61L175,196.76L175.13,198.04L175.37,200.61L175.37,200.61Z"/><path class="ho" d="M159.37,200.61L159.37,200.61L159.37,200.61L159.62,193.18L159.87,194.2L160.37,192.51L160.85,192.04L160.87,191.99L161.37,189.96L161.83,188.18L161.87,188.02L162.37,186.99L162.69,185.27L162.87,183.63L163.37,181.33L163.55,180.9L163.87,179.62L164.29,177.95L164.37,176.33L164.87,175.68L165.15,174.76L165.37,174.22L165.77,171.62L165.87,170.77L166.37,169.17L166.38,170.91L166.63,165.25L166.87,164.11L166.88,161.83L167.12,167.19L167.37,168.84L167.62,168.99"/><path d="M158.45,159.88H208.55V200.61" fill="none" stroke="#222" stroke-width="0.9"/><path d="M158.45,159.48V200.61" fill="none" stroke="#000" stroke-width="1.1"/><path d="M157.95,200.61H209.05" fill="none" stroke="#000" stroke-width="1.7"/><path d="M156.75,200.61H158.45M157.25,198.57H158.45M157.25,196.54H158.45M157.25,194.5H158.45M157.25,192.46H158.45M156.75,190.43H158.45M157.25,188.39H158.45M157.25,186.35H158.45M157.25,184.32H158.45M157.25,182.28H158.45M156.75,180.25H158.45M157.25,178.21H158.45M157.25,176.17H158.45M157.25,174.14H158.45M157.25,172.1H158.45M156.75,170.06H158.45M157.25,168.03H158.45M157.25,165.99H158.45M157.25,163.95H158.45M157.25,161.92H158.45M156.75,159.88H158.45M158.45,200.61V202.21M162.22,200.61V201.51M164.43,200.61V201.51M165.99,200.61V201.51M167.21,200.61V201.51M168.2,200.61V201.51M169.04,200.61V201.51M169.76,200.61V201.51M170.4,200.61V201.51M170.98,200.61V202.21M174.75,200.61V201.51M176.95,200.61V201.51M178.52,200.61V201.51M179.73,200.61V201.51M180.72,200.61V201.51M181.56,200.61V201.51M182.29,200.61V201.51M182.93,200.61V201.51M183.5,200.61V202.21M187.27,200.61V201.51M189.48,200.61V201.51M191.04,200.61V201.51M192.26,200.61V201.51M193.25,200.61V201.51M194.09,200.61V201.51M194.81,200.61V201.51M195.45,200.61V201.51M196.03,200.61V202.21M199.8,200.61V201.51M202,200.61V201.51M203.57,200.61V201.51M204.78,200.61V201.51M205.77,200.61V201.51M206.61,200.61V201.51M207.34,200.61V201.51M207.98,200.61V201.51M208.55,200.61V202.21" stroke="#111" stroke-width="0.6" fill="none"/><text class="tk" transform="translate(154.05,199.16) rotate(-90)" text-anchor="middle" font-size="4.8">0</text><text class="tk" transform="translate(154.05,189.62) rotate(-90)" text-anchor="middle" font-size="4.8">5</text><text class="tk" transform="translate(154.05,180.07) rotate(-90)" text-anchor="middle" font-size="4.8">10</text><text class="tk" transform="translate(154.05,170.53) rotate(-90)" text-anchor="middle" font-size="4.8">15</text><text class="tk" transform="translate(154.05,160.98) rotate(-90)" text-anchor="middle" font-size="4.8">20</text><text class="tk" transform="translate(148.85,181.15) rotate(-90)" font-size="5" textLength="14.8" lengthAdjust="spacingAndGlyphs" x="-7.4">Counts</text><text class="tk" x="157.85" y="208.11" text-anchor="middle" font-size="5.3">10</text><text class="sp" x="160.35" y="205.31">0</text><text class="tk" x="170.1" y="208.11" text-anchor="middle" font-size="5.3">10</text><text class="sp" x="172.6" y="205.31">1</text><text class="tk" x="182.34" y="208.11" text-anchor="middle" font-size="5.3">10</text><text class="sp" x="184.84" y="205.31">2</text><text class="tk" x="194.59" y="208.11" text-anchor="middle" font-size="5.3">10</text><text class="sp" x="197.09" y="205.31">3</text><text class="tk" x="206.83" y="208.11" text-anchor="middle" font-size="5.3">10</text><text class="sp" x="209.33" y="205.31">4</text><text class="tk" x="177.05" y="212.91" font-size="4.6" textLength="12.8" lengthAdjust="spacingAndGlyphs">FL2-H</text>
<path class="hk" d="M255.31,200.52L255.31,200.52L255.31,200.52L255.81,199.13L255.92,198.34L256.31,197.65L256.81,197.44L257.15,197.15L257.31,196.73L257.81,195.43L258.31,195.22L258.38,195.13L258.81,193.49L259,192.16L259.31,193.74L259.62,194.47L259.81,196.07L260.31,194.11L260.48,193.5L260.81,192.71L261.31,190.13L261.46,190.45L261.81,188.29L262.31,187.66L262.45,185.57L262.81,186.4L263.31,184.89L263.31,182.42L263.81,184.71L264.17,181.29L264.31,180.75L264.81,181.99L264.91,179.87L265.31,179.54L265.52,180.84L265.81,175.69L266.14,171.45L266.31,173.28L266.63,183.81L266.81,178.01L267.31,182.62L267.37,183.57L267.81,182.37L268.23,188.75L268.31,184.64L268.81,187.71L268.85,188L269.31,192.47L269.46,191.17L269.81,193.51L270.08,195.83L270.31,197.5L270.69,199.48L270.81,199.34L271.31,200.52L271.31,200.52L271.31,200.52Z"/><path class="hk" d="M272.78,200.52L272.78,200.52L272.78,200.52L273.15,195.85L273.28,197.31L273.52,200.52L273.52,200.52Z"/><path class="ho" d="M234.63,192.92L234.63,192.92L234.63,200.52L234.63,193.21L235.13,193.14L235.62,193.22L235.63,193.48L236.13,192.38L236.6,192.67L236.63,192.61L237.13,190.52L237.46,189.72L237.63,189.33L238.08,185.38L238.13,185.72L238.63,182.64L238.69,183.22L239.13,183.3L239.31,184.92L239.63,183.53L240.13,184.08L240.29,183.42L240.63,182.83L241.13,181.36L241.15,180.41L241.63,180.45L241.77,178.95L242.13,178.81L242.38,177.46L242.63,176.48L243,176.72L243.13,175.75L243.62,176.17L243.63,173.81L244.13,172.08L244.23,170.88L244.63,173.36L244.85,173.7L245.13,175.55L245.46,176.43L245.63,177.85L246.08,181.67L246.13,179.89L246.63,183.29L246.69,183.18L247.13,187.87L247.31,189.13L247.63,190.83L247.92,191.92L248.13,193.04L248.54,196.61L248.63,195.92L249.13,198.48L249.4,199.55L249.63,199.55L250.13,200.51L250.14,200.52"/><path class="ho" d="M252.23,200.52L252.23,200.52L252.23,200.52L252.6,196.67L252.73,197.69L253.09,200.52"/><path d="M234.27,159.76H284.42V200.52" fill="none" stroke="#222" stroke-width="0.9"/><path d="M234.27,159.36V200.52" fill="none" stroke="#000" stroke-width="1.1"/><path d="M233.77,200.52H284.92" fill="none" stroke="#000" stroke-width="1.7"/><path d="M232.57,200.52H234.27M233.07,198.48H234.27M233.07,196.44H234.27M233.07,194.41H234.27M233.07,192.37H234.27M232.57,190.33H234.27M233.07,188.29H234.27M233.07,186.25H234.27M233.07,184.22H234.27M233.07,182.18H234.27M232.57,180.14H234.27M233.07,178.1H234.27M233.07,176.06H234.27M233.07,174.03H234.27M233.07,171.99H234.27M232.57,169.95H234.27M233.07,167.91H234.27M233.07,165.87H234.27M233.07,163.84H234.27M233.07,161.8H234.27M232.57,159.76H234.27M234.27,200.52V202.12M238.05,200.52V201.42M240.26,200.52V201.42M241.82,200.52V201.42M243.04,200.52V201.42M244.03,200.52V201.42M244.87,200.52V201.42M245.6,200.52V201.42M246.24,200.52V201.42M246.81,200.52V202.12M250.59,200.52V201.42M252.79,200.52V201.42M254.36,200.52V201.42M255.57,200.52V201.42M256.57,200.52V201.42M257.41,200.52V201.42M258.13,200.52V201.42M258.77,200.52V201.42M259.35,200.52V202.12M263.12,200.52V201.42M265.33,200.52V201.42M266.9,200.52V201.42M268.11,200.52V201.42M269.1,200.52V201.42M269.94,200.52V201.42M270.67,200.52V201.42M271.31,200.52V201.42M271.89,200.52V202.12M275.66,200.52V201.42M277.87,200.52V201.42M279.43,200.52V201.42M280.65,200.52V201.42M281.64,200.52V201.42M282.48,200.52V201.42M283.21,200.52V201.42M283.85,200.52V201.42M284.42,200.52V202.12" stroke="#111" stroke-width="0.6" fill="none"/><text class="tk" transform="translate(229.87,199.07) rotate(-90)" text-anchor="middle" font-size="4.8">0</text><text class="tk" transform="translate(229.87,189.52) rotate(-90)" text-anchor="middle" font-size="4.8">5</text><text class="tk" transform="translate(229.87,179.96) rotate(-90)" text-anchor="middle" font-size="4.8">10</text><text class="tk" transform="translate(229.87,170.41) rotate(-90)" text-anchor="middle" font-size="4.8">15</text><text class="tk" transform="translate(229.87,160.86) rotate(-90)" text-anchor="middle" font-size="4.8">20</text><text class="tk" transform="translate(224.67,181.04) rotate(-90)" font-size="5" textLength="14.8" lengthAdjust="spacingAndGlyphs" x="-7.4">Counts</text><text class="tk" x="233.67" y="208.02" text-anchor="middle" font-size="5.3">10</text><text class="sp" x="236.17" y="205.22">0</text><text class="tk" x="245.93" y="208.02" text-anchor="middle" font-size="5.3">10</text><text class="sp" x="248.43" y="205.22">1</text><text class="tk" x="258.19" y="208.02" text-anchor="middle" font-size="5.3">10</text><text class="sp" x="260.69" y="205.22">2</text><text class="tk" x="270.45" y="208.02" text-anchor="middle" font-size="5.3">10</text><text class="sp" x="272.95" y="205.22">3</text><text class="tk" x="282.7" y="208.02" text-anchor="middle" font-size="5.3">10</text><text class="sp" x="285.2" y="205.22">4</text><text class="tk" x="252.87" y="212.82" font-size="4.6" textLength="12.8" lengthAdjust="spacingAndGlyphs">FL2-H</text>
<path class="hg" d="M310.62,200.43L310.62,200.43L310.62,200.43L310.86,192.57L311.12,192.91L311.62,193.47L311.85,193.26L312.12,193.8L312.62,191.18L312.83,190.42L313.12,192.21L313.62,188.5L313.69,189.27L314.12,187.25L314.31,187.8L314.62,186.22L315.12,184.74L315.29,182.96L315.62,181.36L316.12,177.1L316.15,176.4L316.62,177.13L316.77,174.51L317.12,178.27L317.38,169.43L317.62,167.95L318,165.05L318.12,164.42L318.62,166.61L318.62,162.88L319.12,165.9L319.23,169.25L319.62,175.18L319.85,176.01L320.12,174.7L320.46,179.57L320.62,177.81L321.08,183.84L321.12,183.91L321.62,186.74L321.69,184.66L322.12,187.25L322.31,187.04L322.62,186.99L322.92,189.39L323.12,188.17L323.54,190.56L323.62,190.11L324.12,189.95L324.4,189.67L324.62,189.67L325.12,189.77L325.38,189.93L325.62,191.24L326.12,191.8L326.37,193.22L326.62,192.42L327.12,194.41L327.23,194.19L327.62,195.88L327.85,197.23L328.12,197.01L328.62,197.93L328.83,197.7L329.12,197.26L329.62,197.3L329.69,196.69L330.12,194.61L330.31,194.02L330.62,192.81L330.92,192.78L331.12,195.53L331.29,197.11L331.62,197.24L332.12,197.88L332.15,198.44L332.62,197.91L333.02,198.04L333.12,199.01L333.62,197.02L333.75,196.79L334.12,198.25L334.25,199.13L334.62,200.43L334.62,200.43L334.62,200.43Z"/><path class="hi" d="M311.22,200.43L311.22,200.43L311.22,200.43L311.46,194.27L311.72,194.58L312.22,194.59L312.45,194.58L312.72,194.08L313.22,192.96L313.43,193.89L313.72,192.04L314.22,191.02L314.29,191.1L314.72,189.81L314.91,190.66L315.22,188.9L315.72,186.29L315.89,187.23L316.22,184.5L316.72,184L316.75,188.03L317.22,184.19L317.37,180.36L317.72,176.71L317.98,184.43L318.22,175.12L318.6,172.24L318.72,172.75L319.22,170.49L319.22,176.56L319.72,172.92L319.83,183.41L320.22,180.24L320.45,180.4L320.72,183.42L321.06,187.43L321.22,183.77L321.68,185.78L321.72,187.99L322.22,190.05L322.29,190.38L322.72,189.09L322.91,191.83L323.22,189.8L323.52,190.75L323.72,191.53L324.14,192.77L324.22,192.23L324.72,192.88L325,192.28L325.22,193.74L325.72,195.25L325.98,192.23L326.22,193.07L326.72,193.68L326.97,194.89L327.22,194.27L327.72,196.41L327.83,195.97L328.22,196.77L328.45,197.58L328.72,197.72L329.22,198.02L329.43,198.96L329.72,197.96L330.22,197.6L330.29,197.58L330.72,196.12L330.91,195.56L331.22,195.69L331.52,195.07L331.72,196.79L331.89,197.94L332.22,198.33L332.72,199.08L332.75,198.81L333.22,198.73L333.62,199.33L333.72,198.33L334.22,198.55L334.35,198.35L334.72,198.68L334.85,199.27L335.22,200.43L335.22,200.43"/><path d="M310.34,159.64H360.49V200.43" fill="none" stroke="#222" stroke-width="0.9"/><path d="M310.34,159.24V200.43" fill="none" stroke="#000" stroke-width="1.1"/><path d="M309.84,200.43H360.99" fill="none" stroke="#000" stroke-width="1.7"/><path d="M308.64,200.43H310.34M309.14,198.39H310.34M309.14,196.35H310.34M309.14,194.31H310.34M309.14,192.27H310.34M308.64,190.23H310.34M309.14,188.19H310.34M309.14,186.15H310.34M309.14,184.11H310.34M309.14,182.07H310.34M308.64,180.03H310.34M309.14,178H310.34M309.14,175.96H310.34M309.14,173.92H310.34M309.14,171.88H310.34M308.64,169.84H310.34M309.14,167.8H310.34M309.14,165.76H310.34M309.14,163.72H310.34M309.14,161.68H310.34M308.64,159.64H310.34M310.34,200.43V202.03M314.11,200.43V201.33M316.32,200.43V201.33M317.88,200.43V201.33M319.1,200.43V201.33M320.09,200.43V201.33M320.93,200.43V201.33M321.66,200.43V201.33M322.3,200.43V201.33M322.87,200.43V202.03M326.65,200.43V201.33M328.86,200.43V201.33M330.42,200.43V201.33M331.64,200.43V201.33M332.63,200.43V201.33M333.47,200.43V201.33M334.2,200.43V201.33M334.84,200.43V201.33M335.41,200.43V202.03M339.19,200.43V201.33M341.39,200.43V201.33M342.96,200.43V201.33M344.17,200.43V201.33M345.17,200.43V201.33M346.01,200.43V201.33M346.73,200.43V201.33M347.37,200.43V201.33M347.95,200.43V202.03M351.72,200.43V201.33M353.93,200.43V201.33M355.5,200.43V201.33M356.71,200.43V201.33M357.7,200.43V201.33M358.54,200.43V201.33M359.27,200.43V201.33M359.91,200.43V201.33M360.49,200.43V202.03" stroke="#111" stroke-width="0.6" fill="none"/><text class="tk" transform="translate(305.94,198.98) rotate(-90)" text-anchor="middle" font-size="4.8">0</text><text class="tk" transform="translate(305.94,189.42) rotate(-90)" text-anchor="middle" font-size="4.8">5</text><text class="tk" transform="translate(305.94,179.86) rotate(-90)" text-anchor="middle" font-size="4.8">10</text><text class="tk" transform="translate(305.94,170.3) rotate(-90)" text-anchor="middle" font-size="4.8">15</text><text class="tk" transform="translate(305.94,160.74) rotate(-90)" text-anchor="middle" font-size="4.8">20</text><text class="tk" transform="translate(300.74,180.94) rotate(-90)" font-size="5" textLength="14.8" lengthAdjust="spacingAndGlyphs" x="-7.4">Counts</text><text class="tk" x="309.74" y="207.93" text-anchor="middle" font-size="5.3">10</text><text class="sp" x="312.24" y="205.13">0</text><text class="tk" x="321.99" y="207.93" text-anchor="middle" font-size="5.3">10</text><text class="sp" x="324.49" y="205.13">1</text><text class="tk" x="334.25" y="207.93" text-anchor="middle" font-size="5.3">10</text><text class="sp" x="336.75" y="205.13">2</text><text class="tk" x="346.51" y="207.93" text-anchor="middle" font-size="5.3">10</text><text class="sp" x="349.01" y="205.13">3</text><text class="tk" x="358.77" y="207.93" text-anchor="middle" font-size="5.3">10</text><text class="sp" x="361.27" y="205.13">4</text><text class="tk" x="328.94" y="212.73" font-size="4.6" textLength="12.8" lengthAdjust="spacingAndGlyphs">FL2-H</text>
<path class="hg" d="M403.23,200.34L403.23,200.34L403.23,200.34L403.73,197.79L403.85,197.7L404.23,197.87L404.46,197.91L404.73,198.06L405.23,196.65L405.69,196.21L405.73,196.16L406.23,197.04L406.73,197.32L406.92,197.53L407.23,197.1L407.73,197.64L408.15,196.64L408.23,196.51L408.73,196.81L409.02,195.36L409.23,196.44L409.73,193.11L409.75,192.27L410.23,192.6L410.62,191.04L410.73,189.92L411.23,188.36L411.48,187.47L411.73,188L412.23,185.76L412.46,184.68L412.73,183.62L413.23,184.29L413.45,181.89L413.73,179.72L414.23,180.68L414.31,174.84L414.73,174.5L414.92,172.35L415.23,170.18L415.54,172.65L415.73,174.12L416.15,175.9L416.23,173.66L416.73,183.42L416.77,181.56L417.23,184.25L417.38,186.82L417.73,186.02L418,189.04L418.23,189.18L418.62,189.96L418.73,190.37L419.23,193.73L419.23,195.11L419.73,196.78L419.85,197.48L420.23,199.57L420.46,200.34L420.46,200.34Z"/><path class="ho" d="M386.62,200.34L386.62,200.34L386.62,200.34L386.86,195.97L387.12,193.98L387.6,192.22L387.62,192.48L388.12,192.13L388.46,190.97L388.62,190.85L389.12,188.11L389.32,188.18L389.62,185.06L389.94,181.25L390.12,181.98L390.55,182.71L390.62,183.66L391.12,183.35L391.29,183.44L391.62,182.3L392.12,180.84L392.15,181.71L392.62,178.39L392.77,179.88L393.12,178.88L393.38,177.51L393.62,178.87L394,176.42L394.12,176.05L394.62,175.4L394.62,174.54L395.12,170.79L395.23,170.92L395.62,169.8L395.85,169.67L396.12,169.9L396.46,176.49L396.62,175.05L397.08,179.64L397.12,180.79L397.62,184.17L397.69,185.07L398.12,187.21L398.31,188.48L398.62,189.78L398.92,191.14L399.12,192.35L399.54,195.31L399.62,195.2L400.12,197.57L400.15,198.16L400.62,199.72L400.77,200.34"/><path d="M386.12,159.52H436.82V200.34" fill="none" stroke="#222" stroke-width="0.9"/><path d="M386.12,159.12V200.34" fill="none" stroke="#000" stroke-width="1.1"/><path d="M385.62,200.34H437.32" fill="none" stroke="#000" stroke-width="1.7"/><path d="M384.42,200.34H386.12M384.92,198.3H386.12M384.92,196.26H386.12M384.92,194.22H386.12M384.92,192.18H386.12M384.42,190.13H386.12M384.92,188.09H386.12M384.92,186.05H386.12M384.92,184.01H386.12M384.92,181.97H386.12M384.42,179.93H386.12M384.92,177.89H386.12M384.92,175.85H386.12M384.92,173.81H386.12M384.92,171.77H386.12M384.42,169.72H386.12M384.92,167.68H386.12M384.92,165.64H386.12M384.92,163.6H386.12M384.92,161.56H386.12M384.42,159.52H386.12M386.12,200.34V201.94M389.93,200.34V201.24M392.17,200.34V201.24M393.75,200.34V201.24M394.98,200.34V201.24M395.98,200.34V201.24M396.83,200.34V201.24M397.56,200.34V201.24M398.21,200.34V201.24M398.79,200.34V201.94M402.61,200.34V201.24M404.84,200.34V201.24M406.42,200.34V201.24M407.65,200.34V201.24M408.66,200.34V201.24M409.5,200.34V201.24M410.24,200.34V201.24M410.89,200.34V201.24M411.47,200.34V201.94M415.28,200.34V201.24M417.52,200.34V201.24M419.1,200.34V201.24M420.33,200.34V201.24M421.33,200.34V201.24M422.18,200.34V201.24M422.91,200.34V201.24M423.56,200.34V201.24M424.14,200.34V201.94M427.96,200.34V201.24M430.19,200.34V201.24M431.77,200.34V201.24M433,200.34V201.24M434.01,200.34V201.24M434.85,200.34V201.24M435.59,200.34V201.24M436.24,200.34V201.24M436.82,200.34V201.94" stroke="#111" stroke-width="0.6" fill="none"/><text class="tk" transform="translate(381.72,198.89) rotate(-90)" text-anchor="middle" font-size="4.8">0</text><text class="tk" transform="translate(381.72,189.32) rotate(-90)" text-anchor="middle" font-size="4.8">5</text><text class="tk" transform="translate(381.72,179.75) rotate(-90)" text-anchor="middle" font-size="4.8">10</text><text class="tk" transform="translate(381.72,170.19) rotate(-90)" text-anchor="middle" font-size="4.8">15</text><text class="tk" transform="translate(381.72,160.62) rotate(-90)" text-anchor="middle" font-size="4.8">20</text><text class="tk" transform="translate(376.52,180.83) rotate(-90)" font-size="5" textLength="14.8" lengthAdjust="spacingAndGlyphs" x="-7.4">Counts</text><text class="tk" x="385.52" y="207.84" text-anchor="middle" font-size="5.3">10</text><text class="sp" x="388.02" y="205.04">0</text><text class="tk" x="397.91" y="207.84" text-anchor="middle" font-size="5.3">10</text><text class="sp" x="400.41" y="205.04">1</text><text class="tk" x="410.31" y="207.84" text-anchor="middle" font-size="5.3">10</text><text class="sp" x="412.81" y="205.04">2</text><text class="tk" x="422.7" y="207.84" text-anchor="middle" font-size="5.3">10</text><text class="sp" x="425.2" y="205.04">3</text><text class="tk" x="435.1" y="207.84" text-anchor="middle" font-size="5.3">10</text><text class="sp" x="437.6" y="205.04">4</text><text class="tk" x="404.72" y="212.64" font-size="4.6" textLength="12.8" lengthAdjust="spacingAndGlyphs">FL2-H</text>
<path class="hg" d="M463.37,200.25L463.37,200.25L463.37,200.25L463.62,193.63L463.87,193.69L464.37,195.22L464.6,195.45L464.87,194.21L465.37,194.73L465.83,190.66L465.87,190.41L466.37,189.59L466.69,184.98L466.87,182.8L467.31,180.7L467.37,183.42L467.87,181.65L467.92,184L468.37,183.7L468.54,183.68L468.87,181.78L469.15,180.52L469.37,182.22L469.77,181.22L469.87,181.91L470.37,179.04L470.38,178.33L470.87,173.81L471,175.8L471.37,172.32L471.62,172.17L471.87,172.23L472.23,169.07L472.37,171.65L472.85,169.21L472.87,167.78L473.37,176.37L473.46,173.23L473.87,175.06L474.08,178.05L474.37,182.54L474.69,184.37L474.87,190.54L475.31,186.78L475.37,189.77L475.87,190.35L475.92,192.29L476.37,190.92L476.54,190.56L476.87,191.5L477.15,192.05L477.37,191.51L477.77,190.81L477.87,190.71L478.37,190.47L478.63,189.64L478.87,188.36L479.37,189.59L479.62,188.97L479.87,189.94L480.37,190.1L480.6,189.98L480.87,188.53L481.37,188.73L481.46,189.25L481.87,186.33L482.32,185.36L482.37,185.23L482.87,184.65L483.06,186.57L483.37,185.17L483.87,186.84L483.92,186.43L484.37,189.95L484.54,191.38L484.87,190.88L485.15,190.86L485.37,191.73L485.77,194.09L485.87,195.28L486.37,194.58L486.38,194.91L486.87,195.18L487.25,196.69L487.37,196.15L487.87,195.98L488.23,196.3L488.37,196.72L488.87,197.06L489.22,197.48L489.37,197.1L489.87,196.74L490.08,196.86L490.37,198.02L490.87,198.03L490.94,198.44L491.37,198.28L491.87,198.62L491.92,198.63L492.37,198.97L492.87,199.67L493.15,199.71L493.37,199.64L493.87,200L494.14,200.25L494.14,200.25Z"/><path class="hi" d="M463.97,200.25L463.97,200.25L463.97,200.25L464.22,194.66L464.47,195.92L464.97,196.07L465.2,195.91L465.47,195.85L465.97,194.58L466.43,194.24L466.47,194.23L466.97,192.52L467.29,191.19L467.47,187.68L467.91,190.91L467.97,187.13L468.47,187.93L468.52,186.39L468.97,189.44L469.14,187.49L469.47,186.37L469.75,186.87L469.97,189.34L470.37,189.2L470.47,183.67L470.97,182.03L470.98,183.03L471.47,179.89L471.6,182.13L471.97,178.36L472.22,178.65L472.47,179.05L472.83,184.66L472.97,181.29L473.45,184.34L473.47,178.57L473.97,180.67L474.06,183.17L474.47,180.68L474.68,184.72L474.97,186.01L475.29,188.92L475.47,189.6L475.91,189.97L475.97,193.83L476.47,191.76L476.52,191.77L476.97,193.5L477.14,193.76L477.47,195.18L477.75,195.29L477.97,194.52L478.37,193.06L478.47,193.18L478.97,194.06L479.23,191.18L479.47,192.05L479.97,191.49L480.22,192.29L480.47,192.64L480.97,193.44L481.2,193.56L481.47,191.14L481.97,190.98L482.06,190.97L482.47,191.67L482.92,190.32L482.97,190.14L483.47,188.32L483.66,189.2L483.97,187.98L484.47,189.12L484.52,190.96L484.97,193.36L485.14,192.48L485.47,193.66L485.75,194.93L485.97,193.99L486.37,195.55L486.47,195.36L486.97,195.62L486.98,195.74L487.47,197.13L487.85,197.4L487.97,196.64L488.47,197.11L488.83,197.85L488.97,197.24L489.47,197.53L489.82,197.81L489.97,197.52L490.47,197.72L490.68,197.55L490.97,197.95L491.47,198.77L491.54,198.7L491.97,198.76L492.47,198.97L492.52,199.02L492.97,199.83L493.47,199.5L493.75,199.53L493.97,199.66L494.47,200.05L494.74,200.25"/><path d="M463.17,159.4H514.12V200.25" fill="none" stroke="#222" stroke-width="0.9"/><path d="M463.17,159V200.25" fill="none" stroke="#000" stroke-width="1.1"/><path d="M462.67,200.25H514.62" fill="none" stroke="#000" stroke-width="1.7"/><path d="M461.47,200.25H463.17M461.97,198.21H463.17M461.97,196.16H463.17M461.97,194.12H463.17M461.97,192.08H463.17M461.47,190.04H463.17M461.97,188H463.17M461.97,185.95H463.17M461.97,183.91H463.17M461.97,181.87H463.17M461.47,179.82H463.17M461.97,177.78H463.17M461.97,175.74H463.17M461.97,173.7H463.17M461.97,171.66H463.17M461.47,169.61H463.17M461.97,167.57H463.17M461.97,165.53H463.17M461.97,163.49H463.17M461.97,161.44H463.17M461.47,159.4H463.17M463.17,200.25V201.85M467,200.25V201.15M469.24,200.25V201.15M470.84,200.25V201.15M472.07,200.25V201.15M473.08,200.25V201.15M473.93,200.25V201.15M474.67,200.25V201.15M475.32,200.25V201.15M475.9,200.25V201.85M479.74,200.25V201.15M481.98,200.25V201.15M483.57,200.25V201.15M484.81,200.25V201.15M485.82,200.25V201.15M486.67,200.25V201.15M487.41,200.25V201.15M488.06,200.25V201.15M488.64,200.25V201.85M492.48,200.25V201.15M494.72,200.25V201.15M496.31,200.25V201.15M497.54,200.25V201.15M498.55,200.25V201.15M499.41,200.25V201.15M500.14,200.25V201.15M500.8,200.25V201.15M501.38,200.25V201.85M505.21,200.25V201.15M507.46,200.25V201.15M509.05,200.25V201.15M510.28,200.25V201.15M511.29,200.25V201.15M512.14,200.25V201.15M512.88,200.25V201.15M513.53,200.25V201.15M514.12,200.25V201.85" stroke="#111" stroke-width="0.6" fill="none"/><text class="tk" transform="translate(458.77,198.8) rotate(-90)" text-anchor="middle" font-size="4.8">0</text><text class="tk" transform="translate(458.77,189.23) rotate(-90)" text-anchor="middle" font-size="4.8">5</text><text class="tk" transform="translate(458.77,179.65) rotate(-90)" text-anchor="middle" font-size="4.8">10</text><text class="tk" transform="translate(458.77,170.07) rotate(-90)" text-anchor="middle" font-size="4.8">15</text><text class="tk" transform="translate(458.77,160.5) rotate(-90)" text-anchor="middle" font-size="4.8">20</text><text class="tk" transform="translate(453.57,180.72) rotate(-90)" font-size="5" textLength="14.8" lengthAdjust="spacingAndGlyphs" x="-7.4">Counts</text><text class="tk" x="462.57" y="207.75" text-anchor="middle" font-size="5.3">10</text><text class="sp" x="465.07" y="204.95">0</text><text class="tk" x="475.02" y="207.75" text-anchor="middle" font-size="5.3">10</text><text class="sp" x="477.52" y="204.95">1</text><text class="tk" x="487.48" y="207.75" text-anchor="middle" font-size="5.3">10</text><text class="sp" x="489.98" y="204.95">2</text><text class="tk" x="499.94" y="207.75" text-anchor="middle" font-size="5.3">10</text><text class="sp" x="502.44" y="204.95">3</text><text class="tk" x="512.4" y="207.75" text-anchor="middle" font-size="5.3">10</text><text class="sp" x="514.9" y="204.95">4</text><text class="tk" x="481.77" y="212.55" font-size="4.6" textLength="12.8" lengthAdjust="spacingAndGlyphs">FL2-H</text>
<path class="hg" d="M82.37,267.65L82.37,267.65L82.37,267.65L82.62,262.73L82.87,262.58L83.37,262.84L83.85,263.32L83.87,263.19L84.37,263.21L84.87,262.87L85.08,262.41L85.37,262.54L85.87,261.39L86.31,261.2L86.37,260.09L86.87,257.06L86.92,256.57L87.37,254.03L87.54,259.9L87.87,249.62L88.15,252.97L88.37,246.97L88.77,247.14L88.87,244.17L89.37,242.23L89.38,241.38L89.87,239.74L90,240.98L90.37,240.42L90.62,241.35L90.87,241.08L91.23,235.09L91.37,239.38L91.85,238.58L91.87,237.96L92.37,241.4L92.46,242.83L92.87,247L93.08,247.02L93.37,250.59L93.69,253.26L93.87,255.76L94.31,256.98L94.37,257.37L94.87,261.15L94.92,261.13L95.37,263.28L95.54,264.37L95.87,265.43L96.15,266.01L96.37,266.22L96.77,266.69L96.87,266.94L97.37,266.06L97.38,265.41L97.87,267.19L98,267.65L98,267.65Z"/><path class="hg" d="M108.46,267.65L108.46,267.65L108.46,267.65L108.71,264.81L108.96,264.8L109.46,263.88L109.69,263.63L109.96,263.35L110.46,263.84L110.92,264.23L110.96,264.32L111.46,265.35L111.96,265.29L112.15,265.41L112.46,264.78L112.96,264.21L113.14,263.99L113.46,263.93L113.96,263.62L114.46,263.25L114.62,263.69L114.96,263.82L115.46,264.36L115.85,264.04L115.96,264.72L116.46,267.65L116.46,267.65L116.46,267.65Z"/><path class="hi" d="M82.97,267.65L82.97,267.65L82.97,267.65L83.22,262.97L83.47,263.31L83.97,263.8L84.45,264.25L84.47,264.3L84.97,263.82L85.47,263.77L85.68,263.52L85.97,263.51L86.47,263.05L86.91,262.26L86.97,261.89L87.47,259.9L87.52,261.59L87.97,257.81L88.14,257.64L88.47,255.03L88.75,253.16L88.97,256.31L89.37,252.45L89.47,250.56L89.97,249.96L89.98,251.35L90.47,248.28L90.6,246.18L90.97,246.09L91.22,246.08L91.47,244.63L91.83,245.79L91.97,242.77L92.45,246.51L92.47,244.46L92.97,248.5L93.06,251.36L93.47,250.25L93.68,252.04L93.97,253.69L94.29,256.93L94.47,257.17L94.91,262.35L94.97,259.78L95.47,261.96L95.52,262.24L95.97,266.24L96.14,264.92L96.47,266.07L96.75,266.41L96.97,266.64L97.37,266.97L97.47,266.78L97.97,265.92L97.98,266.17L98.47,267.28L98.6,267.65"/><path class="ho" d="M83.6,262.21L83.6,262.21L84.09,260.31L85.08,259.3L86.06,260.31L85.69,262.21"/><path d="M82.08,226.8H132.86V267.65" fill="none" stroke="#222" stroke-width="0.9"/><path d="M82.08,226.4V267.65" fill="none" stroke="#000" stroke-width="1.1"/><path d="M81.58,267.65H133.36" fill="none" stroke="#000" stroke-width="1.7"/><path d="M80.38,267.65H82.08M80.88,265.61H82.08M80.88,263.56H82.08M80.88,261.52H82.08M80.88,259.48H82.08M80.38,257.44H82.08M80.88,255.39H82.08M80.88,253.35H82.08M80.88,251.31H82.08M80.88,249.27H82.08M80.38,247.22H82.08M80.88,245.18H82.08M80.88,243.14H82.08M80.88,241.1H82.08M80.88,239.06H82.08M80.38,237.01H82.08M80.88,234.97H82.08M80.88,232.93H82.08M80.88,230.88H82.08M80.88,228.84H82.08M80.38,226.8H82.08M82.08,267.65V269.25M85.9,267.65V268.55M88.14,267.65V268.55M89.72,267.65V268.55M90.95,267.65V268.55M91.96,267.65V268.55M92.81,267.65V268.55M93.54,267.65V268.55M94.19,267.65V268.55M94.77,267.65V269.25M98.6,267.65V268.55M100.83,267.65V268.55M102.42,267.65V268.55M103.65,267.65V268.55M104.65,267.65V268.55M105.5,267.65V268.55M106.24,267.65V268.55M106.89,267.65V268.55M107.47,267.65V269.25M111.29,267.65V268.55M113.53,267.65V268.55M115.11,267.65V268.55M116.34,267.65V268.55M117.35,267.65V268.55M118.2,267.65V268.55M118.93,267.65V268.55M119.58,267.65V268.55M120.16,267.65V269.25M123.99,267.65V268.55M126.22,267.65V268.55M127.81,267.65V268.55M129.04,267.65V268.55M130.04,267.65V268.55M130.89,267.65V268.55M131.63,267.65V268.55M132.28,267.65V268.55M132.86,267.65V269.25" stroke="#111" stroke-width="0.6" fill="none"/><text class="tk" transform="translate(77.68,266.2) rotate(-90)" text-anchor="middle" font-size="4.8">0</text><text class="tk" transform="translate(77.68,256.62) rotate(-90)" text-anchor="middle" font-size="4.8">5</text><text class="tk" transform="translate(77.68,247.05) rotate(-90)" text-anchor="middle" font-size="4.8">10</text><text class="tk" transform="translate(77.68,237.47) rotate(-90)" text-anchor="middle" font-size="4.8">15</text><text class="tk" transform="translate(77.68,227.9) rotate(-90)" text-anchor="middle" font-size="4.8">20</text><text class="tk" transform="translate(72.48,248.12) rotate(-90)" font-size="5" textLength="14.8" lengthAdjust="spacingAndGlyphs" x="-7.4">Counts</text><text class="tk" x="81.48" y="275.15" text-anchor="middle" font-size="5.3">10</text><text class="sp" x="83.98" y="272.35">0</text><text class="tk" x="93.89" y="275.15" text-anchor="middle" font-size="5.3">10</text><text class="sp" x="96.39" y="272.35">1</text><text class="tk" x="106.31" y="275.15" text-anchor="middle" font-size="5.3">10</text><text class="sp" x="108.81" y="272.35">2</text><text class="tk" x="118.72" y="275.15" text-anchor="middle" font-size="5.3">10</text><text class="sp" x="121.22" y="272.35">3</text><text class="tk" x="131.14" y="275.15" text-anchor="middle" font-size="5.3">10</text><text class="sp" x="133.64" y="272.35">4</text><text class="tk" x="100.68" y="279.95" font-size="4.6" textLength="12.8" lengthAdjust="spacingAndGlyphs">FL2-H</text>
<path class="hk" d="M179.92,267.56L179.92,267.56L179.92,267.56L180.42,265.02L180.54,264.2L180.92,262.56L181.15,262.18L181.42,261.13L181.77,260.48L181.92,259.68L182.38,257.86L182.42,257.97L182.92,257.88L183.25,258.02L183.42,258.2L183.92,259.89L183.98,261.73L184.42,258.81L184.48,260.69L184.92,255.49L185.22,253.9L185.42,255.87L185.83,250.37L185.92,250.26L186.42,245.43L186.45,249.58L186.92,250.88L187.06,249.87L187.42,245.74L187.68,241.46L187.92,239.47L188.29,238.69L188.42,238.59L188.91,239.88L188.92,240.93L189.42,243.41L189.52,241.59L189.92,247.83L190.14,247.21L190.42,247.47L190.63,247.76L190.92,250.39L191.37,256.67L191.42,254.6L191.92,256.99L191.98,256.46L192.42,259.05L192.6,259.81L192.92,260.35L193.22,261.49L193.42,262.77L193.83,265.35L193.92,265.92L194.32,267.56L194.32,267.56Z"/><path class="ho" d="M159.37,267.56L159.37,267.56L159.37,267.56L159.62,261.49L159.87,260.94L160.37,259.83L160.6,259.25L160.87,259.07L161.37,259.23L161.46,258.99L161.87,258.24L162.32,256.45L162.37,258.02L162.87,254.47L163.31,251.44L163.37,252.51L163.87,249.45L164.29,248.8L164.37,249.27L164.87,244.77L165.15,245.17L165.37,242.75L165.87,241.64L166.02,243.32L166.37,241.88L166.87,243.26L167,238.8L167.37,238.45L167.87,237.33L167.98,240.63L168.37,236.12L168.6,237.85L168.87,240.5L169.22,240.5L169.37,241.33L169.71,246.65L169.87,245.38L170.37,248.56L170.45,249.85L170.87,253.53L170.94,254.5L171.37,257.16L171.68,259.32L171.87,261.56L172.17,262.93L172.37,263.76L172.87,265.94L172.91,265.88L173.37,267.19L173.52,267.56"/><path d="M158.7,226.68H208.8V267.56" fill="none" stroke="#222" stroke-width="0.9"/><path d="M158.7,226.28V267.56" fill="none" stroke="#000" stroke-width="1.1"/><path d="M158.2,267.56H209.3" fill="none" stroke="#000" stroke-width="1.7"/><path d="M157,267.56H158.7M157.5,265.52H158.7M157.5,263.47H158.7M157.5,261.43H158.7M157.5,259.38H158.7M157,257.34H158.7M157.5,255.3H158.7M157.5,253.25H158.7M157.5,251.21H158.7M157.5,249.16H158.7M157,247.12H158.7M157.5,245.08H158.7M157.5,243.03H158.7M157.5,240.99H158.7M157.5,238.94H158.7M157,236.9H158.7M157.5,234.86H158.7M157.5,232.81H158.7M157.5,230.77H158.7M157.5,228.72H158.7M157,226.68H158.7M158.7,267.56V269.16M162.47,267.56V268.46M164.68,267.56V268.46M166.24,267.56V268.46M167.46,267.56V268.46M168.45,267.56V268.46M169.29,267.56V268.46M170.01,267.56V268.46M170.66,267.56V268.46M171.23,267.56V269.16M175,267.56V268.46M177.2,267.56V268.46M178.77,267.56V268.46M179.98,267.56V268.46M180.97,267.56V268.46M181.81,267.56V268.46M182.54,267.56V268.46M183.18,267.56V268.46M183.75,267.56V269.16M187.52,267.56V268.46M189.73,267.56V268.46M191.29,267.56V268.46M192.51,267.56V268.46M193.5,267.56V268.46M194.34,267.56V268.46M195.06,267.56V268.46M195.71,267.56V268.46M196.28,267.56V269.16M200.05,267.56V268.46M202.25,267.56V268.46M203.82,267.56V268.46M205.03,267.56V268.46M206.02,267.56V268.46M206.86,267.56V268.46M207.59,267.56V268.46M208.23,267.56V268.46M208.8,267.56V269.16" stroke="#111" stroke-width="0.6" fill="none"/><text class="tk" transform="translate(154.3,266.11) rotate(-90)" text-anchor="middle" font-size="4.8">0</text><text class="tk" transform="translate(154.3,256.53) rotate(-90)" text-anchor="middle" font-size="4.8">5</text><text class="tk" transform="translate(154.3,246.95) rotate(-90)" text-anchor="middle" font-size="4.8">10</text><text class="tk" transform="translate(154.3,237.36) rotate(-90)" text-anchor="middle" font-size="4.8">15</text><text class="tk" transform="translate(154.3,227.78) rotate(-90)" text-anchor="middle" font-size="4.8">20</text><text class="tk" transform="translate(149.1,248.02) rotate(-90)" font-size="5" textLength="14.8" lengthAdjust="spacingAndGlyphs" x="-7.4">Counts</text><text class="tk" x="158.1" y="275.06" text-anchor="middle" font-size="5.3">10</text><text class="sp" x="160.6" y="272.26">0</text><text class="tk" x="170.35" y="275.06" text-anchor="middle" font-size="5.3">10</text><text class="sp" x="172.85" y="272.26">1</text><text class="tk" x="182.59" y="275.06" text-anchor="middle" font-size="5.3">10</text><text class="sp" x="185.09" y="272.26">2</text><text class="tk" x="194.84" y="275.06" text-anchor="middle" font-size="5.3">10</text><text class="sp" x="197.34" y="272.26">3</text><text class="tk" x="207.08" y="275.06" text-anchor="middle" font-size="5.3">10</text><text class="sp" x="209.58" y="272.26">4</text><text class="tk" x="177.3" y="279.86" font-size="4.6" textLength="12.8" lengthAdjust="spacingAndGlyphs">FL2-H</text>
<path class="hg" d="M234.63,267.47L234.63,267.47L234.63,267.47L235,261.49L235.13,262.34L235.63,263.21L235.86,263.5L236.13,263.06L236.63,262.87L236.85,261.58L237.13,261.74L237.63,260.34L237.83,259.35L238.13,257.64L238.63,257.8L238.69,255.33L239.13,254.54L239.31,253.31L239.63,251.28L240.13,251.48L240.29,250.95L240.63,249.15L241.13,247.07L241.15,248.27L241.63,243.25L241.77,242.48L242.13,239.59L242.38,240.68L242.63,241.3L243,243.17L243.13,246.83L243.62,245.15L243.63,241.04L244.13,244.27L244.23,238.4L244.63,238.83L244.85,240.3L245.13,238.08L245.46,246.07L245.63,238.89L246.08,245.14L246.13,245.43L246.63,247.06L246.69,247.28L247.13,257.37L247.31,253.3L247.63,254.72L247.92,256.29L248.13,257.28L248.54,259.5L248.63,258.12L249.13,260.81L249.15,261.04L249.63,262.92L249.77,263.69L250.13,264.86L250.38,266.39L250.63,266.46L251,267.47L251,267.47Z"/><path class="hg" d="M266.14,267.47L266.14,267.47L266.14,267.47L266.51,262.78L266.64,264.7L266.88,267.47L266.88,267.47Z"/><path class="hi" d="M235.23,267.47L235.23,267.47L235.23,267.47L235.6,262.92L235.73,263.36L236.23,264.14L236.46,265.2L236.73,264.11L237.23,263.18L237.45,263.29L237.73,262.95L238.23,262.75L238.43,261.81L238.73,261.1L239.23,258.64L239.29,259.05L239.73,256.88L239.91,255.65L240.23,256.4L240.73,256.8L240.89,253.26L241.23,252.31L241.73,253.81L241.75,250.68L242.23,247.89L242.37,248.7L242.73,246.88L242.98,250.41L243.23,245.96L243.6,249.51L243.73,248.63L244.22,250.05L244.23,250.96L244.73,251.33L244.83,245.6L245.23,245.86L245.45,252.34L245.73,246.2L246.06,247.6L246.23,247.66L246.68,249.96L246.73,252.78L247.23,257.99L247.29,251.92L247.73,255.43L247.91,256.1L248.23,259.7L248.52,258.31L248.73,260.25L249.14,261.45L249.23,262.25L249.73,262.91L249.75,263L250.23,263.93L250.37,264.33L250.73,265.42L250.98,266.49L251.23,266.92L251.6,267.47"/><path d="M234.36,226.56H284.51V267.47" fill="none" stroke="#222" stroke-width="0.9"/><path d="M234.36,226.16V267.47" fill="none" stroke="#000" stroke-width="1.1"/><path d="M233.86,267.47H285.01" fill="none" stroke="#000" stroke-width="1.7"/><path d="M232.66,267.47H234.36M233.16,265.42H234.36M233.16,263.38H234.36M233.16,261.33H234.36M233.16,259.29H234.36M232.66,257.24H234.36M233.16,255.2H234.36M233.16,253.15H234.36M233.16,251.11H234.36M233.16,249.06H234.36M232.66,247.01H234.36M233.16,244.97H234.36M233.16,242.92H234.36M233.16,240.88H234.36M233.16,238.83H234.36M232.66,236.79H234.36M233.16,234.74H234.36M233.16,232.7H234.36M233.16,230.65H234.36M233.16,228.61H234.36M232.66,226.56H234.36M234.36,267.47V269.07M238.14,267.47V268.37M240.34,267.47V268.37M241.91,267.47V268.37M243.12,267.47V268.37M244.12,267.47V268.37M244.96,267.47V268.37M245.68,267.47V268.37M246.33,267.47V268.37M246.9,267.47V269.07M250.67,267.47V268.37M252.88,267.47V268.37M254.45,267.47V268.37M255.66,267.47V268.37M256.66,267.47V268.37M257.49,267.47V268.37M258.22,267.47V268.37M258.86,267.47V268.37M259.44,267.47V269.07M263.21,267.47V268.37M265.42,267.47V268.37M266.98,267.47V268.37M268.2,267.47V268.37M269.19,267.47V268.37M270.03,267.47V268.37M270.76,267.47V268.37M271.4,267.47V268.37M271.97,267.47V269.07M275.75,267.47V268.37M277.96,267.47V268.37M279.52,267.47V268.37M280.74,267.47V268.37M281.73,267.47V268.37M282.57,267.47V268.37M283.3,267.47V268.37M283.94,267.47V268.37M284.51,267.47V269.07" stroke="#111" stroke-width="0.6" fill="none"/><text class="tk" transform="translate(229.96,266.02) rotate(-90)" text-anchor="middle" font-size="4.8">0</text><text class="tk" transform="translate(229.96,256.43) rotate(-90)" text-anchor="middle" font-size="4.8">5</text><text class="tk" transform="translate(229.96,246.84) rotate(-90)" text-anchor="middle" font-size="4.8">10</text><text class="tk" transform="translate(229.96,237.25) rotate(-90)" text-anchor="middle" font-size="4.8">15</text><text class="tk" transform="translate(229.96,227.66) rotate(-90)" text-anchor="middle" font-size="4.8">20</text><text class="tk" transform="translate(224.76,247.91) rotate(-90)" font-size="5" textLength="14.8" lengthAdjust="spacingAndGlyphs" x="-7.4">Counts</text><text class="tk" x="233.76" y="274.97" text-anchor="middle" font-size="5.3">10</text><text class="sp" x="236.26" y="272.17">0</text><text class="tk" x="246.02" y="274.97" text-anchor="middle" font-size="5.3">10</text><text class="sp" x="248.52" y="272.17">1</text><text class="tk" x="258.28" y="274.97" text-anchor="middle" font-size="5.3">10</text><text class="sp" x="260.78" y="272.17">2</text><text class="tk" x="270.53" y="274.97" text-anchor="middle" font-size="5.3">10</text><text class="sp" x="273.03" y="272.17">3</text><text class="tk" x="282.79" y="274.97" text-anchor="middle" font-size="5.3">10</text><text class="sp" x="285.29" y="272.17">4</text><text class="tk" x="252.96" y="279.77" font-size="4.6" textLength="12.8" lengthAdjust="spacingAndGlyphs">FL2-H</text>
<path class="hg" d="M310.63,267.38L310.63,267.38L310.63,267.38L311,262.56L311.13,262.65L311.63,264.09L311.86,265.24L312.13,264.34L312.63,264.23L312.85,263.69L313.13,262.32L313.63,260.92L313.83,260.29L314.13,258.79L314.63,258.68L314.69,256.35L315.13,255.42L315.31,253.7L315.63,251.7L316.13,249.46L316.29,249.93L316.63,254.45L317.13,246.51L317.15,246.27L317.63,244.5L317.77,242.81L318.13,243.08L318.38,240.03L318.63,241.41L319,238.22L319.13,236.51L319.62,240.81L319.63,242.6L320.13,243.21L320.23,239.53L320.63,239.74L320.85,243.82L321.13,245.4L321.46,245.33L321.63,247.4L322.08,252.99L322.13,254.46L322.63,254.79L322.69,253.58L323.13,257.06L323.31,256.18L323.63,259.91L323.92,259.31L324.13,259.74L324.54,260.82L324.63,261.65L325.13,263.54L325.15,264.07L325.63,264.83L325.77,265.46L326.13,266.43L326.63,267.38L326.63,267.38L326.63,267.38Z"/><path class="hi" d="M311.23,267.38L311.23,267.38L311.23,267.38L311.6,264.31L311.73,264.5L312.23,264.84L312.46,265.91L312.73,265.79L313.23,264.48L313.45,264.46L313.73,264.53L314.23,262.78L314.43,262.27L314.73,260.34L315.23,259L315.29,259.11L315.73,260.13L315.91,258.48L316.23,255.51L316.73,254L316.89,255.29L317.23,256.43L317.73,254.09L317.75,250.99L318.23,248.34L318.37,250.86L318.73,247.4L318.98,250.54L319.23,245.06L319.6,245.13L319.73,248.35L320.22,245.28L320.23,243.59L320.73,246.87L320.83,251.11L321.23,250.47L321.45,248.27L321.73,248.55L322.06,250.42L322.23,252L322.68,253.82L322.73,254.06L323.23,258.25L323.29,261.01L323.73,258.7L323.91,260.01L324.23,260.38L324.52,260.65L324.73,262.61L325.14,263.48L325.23,262.63L325.73,264.18L325.75,264.71L326.23,265.44L326.37,265.8L326.73,266.79L327.23,267.38L327.23,267.38"/><path d="M310.26,226.44H360.41V267.38" fill="none" stroke="#222" stroke-width="0.9"/><path d="M310.26,226.04V267.38" fill="none" stroke="#000" stroke-width="1.1"/><path d="M309.76,267.38H360.91" fill="none" stroke="#000" stroke-width="1.7"/><path d="M308.56,267.38H310.26M309.06,265.33H310.26M309.06,263.29H310.26M309.06,261.24H310.26M309.06,259.19H310.26M308.56,257.14H310.26M309.06,255.1H310.26M309.06,253.05H310.26M309.06,251H310.26M309.06,248.96H310.26M308.56,246.91H310.26M309.06,244.86H310.26M309.06,242.82H310.26M309.06,240.77H310.26M309.06,238.72H310.26M308.56,236.68H310.26M309.06,234.63H310.26M309.06,232.58H310.26M309.06,230.53H310.26M309.06,228.49H310.26M308.56,226.44H310.26M310.26,267.38V268.98M314.04,267.38V268.28M316.24,267.38V268.28M317.81,267.38V268.28M319.03,267.38V268.28M320.02,267.38V268.28M320.86,267.38V268.28M321.59,267.38V268.28M322.23,267.38V268.28M322.8,267.38V268.98M326.57,267.38V268.28M328.78,267.38V268.28M330.35,267.38V268.28M331.56,267.38V268.28M332.56,267.38V268.28M333.4,267.38V268.28M334.12,267.38V268.28M334.76,267.38V268.28M335.34,267.38V268.98M339.11,267.38V268.28M341.32,267.38V268.28M342.89,267.38V268.28M344.1,267.38V268.28M345.09,267.38V268.28M345.93,267.38V268.28M346.66,267.38V268.28M347.3,267.38V268.28M347.88,267.38V268.98M351.65,267.38V268.28M353.86,267.38V268.28M355.42,267.38V268.28M356.64,267.38V268.28M357.63,267.38V268.28M358.47,267.38V268.28M359.2,267.38V268.28M359.84,267.38V268.28M360.41,267.38V268.98" stroke="#111" stroke-width="0.6" fill="none"/><text class="tk" transform="translate(305.86,265.93) rotate(-90)" text-anchor="middle" font-size="4.8">0</text><text class="tk" transform="translate(305.86,256.33) rotate(-90)" text-anchor="middle" font-size="4.8">5</text><text class="tk" transform="translate(305.86,246.74) rotate(-90)" text-anchor="middle" font-size="4.8">10</text><text class="tk" transform="translate(305.86,237.14) rotate(-90)" text-anchor="middle" font-size="4.8">15</text><text class="tk" transform="translate(305.86,227.54) rotate(-90)" text-anchor="middle" font-size="4.8">20</text><text class="tk" transform="translate(300.66,247.81) rotate(-90)" font-size="5" textLength="14.8" lengthAdjust="spacingAndGlyphs" x="-7.4">Counts</text><text class="tk" x="309.66" y="274.88" text-anchor="middle" font-size="5.3">10</text><text class="sp" x="312.16" y="272.08">0</text><text class="tk" x="321.92" y="274.88" text-anchor="middle" font-size="5.3">10</text><text class="sp" x="324.42" y="272.08">1</text><text class="tk" x="334.18" y="274.88" text-anchor="middle" font-size="5.3">10</text><text class="sp" x="336.68" y="272.08">2</text><text class="tk" x="346.44" y="274.88" text-anchor="middle" font-size="5.3">10</text><text class="sp" x="348.94" y="272.08">3</text><text class="tk" x="358.69" y="274.88" text-anchor="middle" font-size="5.3">10</text><text class="sp" x="361.19" y="272.08">4</text><text class="tk" x="328.86" y="279.68" font-size="4.6" textLength="12.8" lengthAdjust="spacingAndGlyphs">FL2-H</text>
<path class="hg" d="M396.46,267.29L396.46,267.29L396.46,267.29L396.96,266.73L397.46,265.9L397.69,265.97L397.96,265.59L398.46,265.36L398.96,265.31L399.46,265.13L399.54,265.05L399.96,264.84L400.46,264.76L400.96,264.7L401.38,264.77L401.46,264.92L401.96,264.22L402.46,263.97L402.62,264L402.96,263.84L403.46,262.57L403.6,262.03L403.96,263.31L404.46,264.54L404.46,263.76L404.96,263.17L405.32,263.75L405.46,262.86L405.96,262.2L406.31,261.61L406.46,261.41L406.96,259.78L407.29,258.95L407.46,258.84L407.96,258.61L408.15,257.39L408.46,259.54L408.77,260.63L408.96,260.29L409.46,258.89L409.75,259.02L409.96,258.64L410.46,260.15L410.62,257.92L410.96,258.09L411.23,257.51L411.46,258.26L411.96,258.46L412.22,259.52L412.46,258.01L412.96,257.92L413.08,256.1L413.46,256.04L413.94,257.74L413.96,254.66L414.46,252.71L414.68,252.11L414.96,247.92L415.29,248.7L415.46,244.54L415.91,241.63L415.96,241.99L416.46,242.04L416.52,243.55L416.96,248.58L417.14,249.31L417.46,249.31L417.63,251.4L417.96,254.56L418.37,255.89L418.46,256.5L418.96,256.81L419.23,257.31L419.46,261.02L419.85,261.37L419.96,260.87L420.46,263.03L420.46,262.51L420.96,265.1L421.08,265.8L421.46,266.7L421.69,267.29L421.69,267.29Z"/><path class="ho" d="M386.86,267.29L386.86,267.29L386.86,267.29L387.23,262.54L387.36,262.52L387.86,262.16L388.36,261.88L388.46,262.23L388.86,261.45L389.36,260.44L389.69,259.87L389.86,259.54L390.36,257.32L390.55,256.1L390.86,254.73L391.29,253.37L391.36,252.5L391.86,251.76L392.15,248.3L392.36,248.98L392.77,245.3L392.86,245.53L393.36,244.29L393.38,242.91L393.86,241.46L394,241.52L394.36,242.13L394.62,239.28L394.86,239.59L395.23,238.65L395.36,238.46L395.85,237.07L395.86,237.79L396.36,238.08L396.46,238.22L396.86,241.69L397.08,243.72L397.36,246.35L397.69,249.33L397.86,250.39L398.31,255.21L398.36,254.53L398.86,258.62L398.92,260.54L399.36,261.71L399.54,262.49L399.86,264.45L400.15,264.83L400.36,266.52L400.77,267.29"/><path d="M386.18,226.32H436.88V267.29" fill="none" stroke="#222" stroke-width="0.9"/><path d="M386.18,225.92V267.29" fill="none" stroke="#000" stroke-width="1.1"/><path d="M385.68,267.29H437.38" fill="none" stroke="#000" stroke-width="1.7"/><path d="M384.48,267.29H386.18M384.98,265.24H386.18M384.98,263.19H386.18M384.98,261.14H386.18M384.98,259.1H386.18M384.48,257.05H386.18M384.98,255H386.18M384.98,252.95H386.18M384.98,250.9H386.18M384.98,248.85H386.18M384.48,246.8H386.18M384.98,244.76H386.18M384.98,242.71H386.18M384.98,240.66H386.18M384.98,238.61H386.18M384.48,236.56H386.18M384.98,234.51H386.18M384.98,232.47H386.18M384.98,230.42H386.18M384.98,228.37H386.18M384.48,226.32H386.18M386.18,267.29V268.89M389.99,267.29V268.19M392.22,267.29V268.19M393.81,267.29V268.19M395.04,267.29V268.19M396.04,267.29V268.19M396.89,267.29V268.19M397.62,267.29V268.19M398.27,267.29V268.19M398.85,267.29V268.89M402.67,267.29V268.19M404.9,267.29V268.19M406.48,267.29V268.19M407.71,267.29V268.19M408.71,267.29V268.19M409.56,267.29V268.19M410.3,267.29V268.19M410.95,267.29V268.19M411.53,267.29V268.89M415.34,267.29V268.19M417.57,267.29V268.19M419.16,267.29V268.19M420.39,267.29V268.19M421.39,267.29V268.19M422.24,267.29V268.19M422.97,267.29V268.19M423.62,267.29V268.19M424.2,267.29V268.89M428.02,267.29V268.19M430.25,267.29V268.19M431.83,267.29V268.19M433.06,267.29V268.19M434.06,267.29V268.19M434.91,267.29V268.19M435.65,267.29V268.19M436.3,267.29V268.19M436.88,267.29V268.89" stroke="#111" stroke-width="0.6" fill="none"/><text class="tk" transform="translate(381.78,265.84) rotate(-90)" text-anchor="middle" font-size="4.8">0</text><text class="tk" transform="translate(381.78,256.23) rotate(-90)" text-anchor="middle" font-size="4.8">5</text><text class="tk" transform="translate(381.78,246.63) rotate(-90)" text-anchor="middle" font-size="4.8">10</text><text class="tk" transform="translate(381.78,237.02) rotate(-90)" text-anchor="middle" font-size="4.8">15</text><text class="tk" transform="translate(381.78,227.42) rotate(-90)" text-anchor="middle" font-size="4.8">20</text><text class="tk" transform="translate(376.58,247.7) rotate(-90)" font-size="5" textLength="14.8" lengthAdjust="spacingAndGlyphs" x="-7.4">Counts</text><text class="tk" x="385.58" y="274.79" text-anchor="middle" font-size="5.3">10</text><text class="sp" x="388.08" y="271.99">0</text><text class="tk" x="397.97" y="274.79" text-anchor="middle" font-size="5.3">10</text><text class="sp" x="400.47" y="271.99">1</text><text class="tk" x="410.37" y="274.79" text-anchor="middle" font-size="5.3">10</text><text class="sp" x="412.87" y="271.99">2</text><text class="tk" x="422.76" y="274.79" text-anchor="middle" font-size="5.3">10</text><text class="sp" x="425.26" y="271.99">3</text><text class="tk" x="435.16" y="274.79" text-anchor="middle" font-size="5.3">10</text><text class="sp" x="437.66" y="271.99">4</text><text class="tk" x="404.78" y="279.59" font-size="4.6" textLength="12.8" lengthAdjust="spacingAndGlyphs">FL2-H</text>
<path class="hg" d="M469.15,267.2L469.15,267.2L469.15,267.2L469.65,265.23L469.77,264.7L470.15,264.25L470.65,262.71L470.75,263.07L471.15,262.91L471.62,263.68L471.65,264.09L472.15,262.57L472.23,262.18L472.65,263.62L473.15,263.46L473.46,263.48L473.65,264.24L474.15,262.52L474.45,262.78L474.65,262.95L475.15,263.18L475.31,263.87L475.65,264.11L476.15,265.01L476.17,264.78L476.65,264.68L476.91,264.77L477.15,264.26L477.65,262.86L477.77,263.1L478.15,261.32L478.63,260.3L478.65,261.21L479.15,259.74L479.62,257.91L479.65,257.84L480.15,256.47L480.23,255.79L480.65,254.79L480.85,252.49L481.15,249.78L481.46,246.47L481.65,248.74L482.08,247.58L482.15,247.8L482.65,251.75L482.69,250.35L483.15,251L483.31,251.73L483.65,254.73L483.92,251.2L484.15,251.61L484.54,248.45L484.65,248.08L485.15,244L485.15,241.97L485.65,238.68L485.77,244.64L486.15,239.05L486.38,244.86L486.65,241.31L487,242.87L487.15,242.75L487.62,250.89L487.65,247.3L488.15,252.25L488.23,252.17L488.65,255.76L488.85,258.1L489.15,259.34L489.46,261.11L489.65,260.74L490.08,261.16L490.15,261.49L490.65,261.53L490.94,262.65L491.15,262.89L491.65,263.41L491.68,262.84L492.15,264.71L492.54,264.7L492.65,265.07L493.15,266.6L493.15,266.76L493.65,267.01L493.77,267.2L493.77,267.2Z"/><path class="ho" d="M463.86,267.2L463.86,267.2L463.86,267.2L464.23,262.76L464.36,262.65L464.86,263.16L465.36,261.74L465.46,261.92L465.86,261.95L466.36,261.32L466.69,260.91L466.86,260.5L467.36,259.87L467.55,258.64L467.86,257.1L468.29,254.29L468.36,254.58L468.86,250.06L469.15,248.67L469.36,247.29L469.77,246.04L469.86,245.23L470.36,244.06L470.75,243.7L470.86,242.48L471.36,240.14L471.62,240.24L471.86,239.76L472.36,238.13L472.48,239.37L472.86,237.38L473.22,238.1L473.36,239.84L473.71,241L473.86,240.34L474.32,245.3L474.36,243.82L474.86,247.6L474.94,248.76L475.36,252.12L475.55,254.09L475.86,257.99L476.17,258.58L476.36,260.08L476.78,262.11L476.86,262.51L477.36,265.04L477.4,265.13L477.86,267.09L477.89,267.2"/><path d="M463.25,226.2H514.2V267.2" fill="none" stroke="#222" stroke-width="0.9"/><path d="M463.25,225.8V267.2" fill="none" stroke="#000" stroke-width="1.1"/><path d="M462.75,267.2H514.7" fill="none" stroke="#000" stroke-width="1.7"/><path d="M461.55,267.2H463.25M462.05,265.15H463.25M462.05,263.1H463.25M462.05,261.05H463.25M462.05,259H463.25M461.55,256.95H463.25M462.05,254.9H463.25M462.05,252.85H463.25M462.05,250.8H463.25M462.05,248.75H463.25M461.55,246.7H463.25M462.05,244.65H463.25M462.05,242.6H463.25M462.05,240.55H463.25M462.05,238.5H463.25M461.55,236.45H463.25M462.05,234.4H463.25M462.05,232.35H463.25M462.05,230.3H463.25M462.05,228.25H463.25M461.55,226.2H463.25M463.25,267.2V268.8M467.09,267.2V268.1M469.33,267.2V268.1M470.92,267.2V268.1M472.16,267.2V268.1M473.16,267.2V268.1M474.02,267.2V268.1M474.76,267.2V268.1M475.41,267.2V268.1M475.99,267.2V268.8M479.82,267.2V268.1M482.07,267.2V268.1M483.66,267.2V268.1M484.89,267.2V268.1M485.9,267.2V268.1M486.75,267.2V268.1M487.49,267.2V268.1M488.14,267.2V268.1M488.73,267.2V268.8M492.56,267.2V268.1M494.8,267.2V268.1M496.4,267.2V268.1M497.63,267.2V268.1M498.64,267.2V268.1M499.49,267.2V268.1M500.23,267.2V268.1M500.88,267.2V268.1M501.46,267.2V268.8M505.3,267.2V268.1M507.54,267.2V268.1M509.13,267.2V268.1M510.37,267.2V268.1M511.38,267.2V268.1M512.23,267.2V268.1M512.97,267.2V268.1M513.62,267.2V268.1M514.2,267.2V268.8" stroke="#111" stroke-width="0.6" fill="none"/><text class="tk" transform="translate(458.85,265.75) rotate(-90)" text-anchor="middle" font-size="4.8">0</text><text class="tk" transform="translate(458.85,256.14) rotate(-90)" text-anchor="middle" font-size="4.8">5</text><text class="tk" transform="translate(458.85,246.52) rotate(-90)" text-anchor="middle" font-size="4.8">10</text><text class="tk" transform="translate(458.85,236.91) rotate(-90)" text-anchor="middle" font-size="4.8">15</text><text class="tk" transform="translate(458.85,227.3) rotate(-90)" text-anchor="middle" font-size="4.8">20</text><text class="tk" transform="translate(453.65,247.6) rotate(-90)" font-size="5" textLength="14.8" lengthAdjust="spacingAndGlyphs" x="-7.4">Counts</text><text class="tk" x="462.65" y="274.7" text-anchor="middle" font-size="5.3">10</text><text class="sp" x="465.15" y="271.9">0</text><text class="tk" x="475.11" y="274.7" text-anchor="middle" font-size="5.3">10</text><text class="sp" x="477.61" y="271.9">1</text><text class="tk" x="487.57" y="274.7" text-anchor="middle" font-size="5.3">10</text><text class="sp" x="490.07" y="271.9">2</text><text class="tk" x="500.02" y="274.7" text-anchor="middle" font-size="5.3">10</text><text class="sp" x="502.52" y="271.9">3</text><text class="tk" x="512.48" y="274.7" text-anchor="middle" font-size="5.3">10</text><text class="sp" x="514.98" y="271.9">4</text><text class="tk" x="481.85" y="279.5" font-size="4.6" textLength="12.8" lengthAdjust="spacingAndGlyphs">FL2-H</text>
<path class="hg" d="M82.37,335.45L82.37,335.45L82.37,335.45L82.62,331.41L82.87,331.88L83.37,332.59L83.6,332.64L83.87,332.47L84.37,331.45L84.46,330.83L84.87,329.94L85.32,330.05L85.37,329.71L85.87,327.08L86.06,328.17L86.37,326.75L86.87,325.66L86.92,324.95L87.37,323.42L87.54,323.39L87.87,322.61L88.15,322.9L88.37,321.16L88.77,323.56L88.87,324.61L89.37,318.11L89.38,318.83L89.87,319.23L90,319.74L90.37,318.27L90.37,313.37L90.62,314.78L90.87,306.24L90.98,302.88L91.35,303.31L91.37,304.2L91.72,311.17L91.87,310.54L92.22,314.46L92.37,315.16L92.83,319.68L92.87,318.57L93.37,320.56L93.45,319.85L93.87,320.45L93.94,321.47L94.37,322.91L94.68,325.33L94.87,324.52L95.29,325.45L95.37,325.84L95.87,322.57L95.91,325.51L96.37,324.45L96.52,328.68L96.87,328L97.14,329.13L97.37,329.97L97.87,333.18L98,331.47L98.37,332.17L98.62,332.95L98.87,333.52L99.37,333.25L99.85,333.4L99.87,333.34L100.37,334.61L100.87,333.6L101.08,333.81L101.37,333.52L101.87,333.17L102.31,333.5L102.37,333.05L102.87,333.3L103.37,333.58L103.54,333.69L103.87,333.75L104.37,333.84L104.77,334.46L104.87,334.38L105.37,333.4L105.87,332.88L106,332.65L106.37,332.7L106.87,332.19L107.23,332L107.37,332.08L107.87,331.85L108.37,331.68L108.46,330.81L108.87,330.62L109.37,330.6L109.69,329.57L109.87,328.44L110.37,326.13L110.68,324.06L110.87,323.47L111.37,323.22L111.54,324.5L111.87,325.49L112.15,325.39L112.37,328.03L112.87,326.98L113.14,326.43L113.37,326.51L113.87,324.48L114,326.08L114.37,325.08L114.86,323.18L114.87,323.54L115.37,324.52L115.6,326.13L115.87,326.81L116.37,327.52L116.46,327.54L116.87,329.47L117.08,330.35L117.37,330.7L117.87,330.62L118.06,330.9L118.37,331.2L118.87,332.36L118.92,332.09L119.37,332.51L119.78,333.31L119.87,333.41L120.37,333.28L120.77,333.35L120.87,333.3L121.37,332.81L121.87,332.52L122,332.12L122.37,332.78L122.62,333.75L122.87,334.16L123.23,335.45L123.23,335.45Z"/><path class="ho" d="M82.86,335.45L82.86,335.45L82.86,335.45L83.11,329.6L83.36,329.06L83.86,328.12L84.09,328L84.36,326.61L84.86,324.53L85.08,324.52L85.36,323.38L85.86,322.26L85.94,321.99L86.36,322.34L86.8,319.94L86.86,320.66L87.36,319.17L87.78,317.32L87.86,318.63L88.36,316.86L88.77,316.2L88.86,315.46L89.36,314.71L89.63,314.79L89.86,314.71L90.36,313.93L90.37,312.81"/><path class="ho" d="M90.49,335.45L90.49,335.45L90.49,335.45L90.68,294.05L90.86,335.45"/><path d="M82.12,294H132.96V335.45" fill="none" stroke="#222" stroke-width="0.9"/><path d="M82.12,293.6V335.45" fill="none" stroke="#000" stroke-width="1.1"/><path d="M81.62,335.45H133.46" fill="none" stroke="#000" stroke-width="1.7"/><path d="M80.42,335.45H82.12M80.92,333.38H82.12M80.92,331.31H82.12M80.92,329.23H82.12M80.92,327.16H82.12M80.42,325.09H82.12M80.92,323.01H82.12M80.92,320.94H82.12M80.92,318.87H82.12M80.92,316.8H82.12M80.42,314.73H82.12M80.92,312.65H82.12M80.92,310.58H82.12M80.92,308.51H82.12M80.92,306.44H82.12M80.42,304.36H82.12M80.92,302.29H82.12M80.92,300.22H82.12M80.92,298.14H82.12M80.92,296.07H82.12M80.42,294H82.12M82.12,335.45V337.05M85.95,335.45V336.35M88.19,335.45V336.35M89.78,335.45V336.35M91.01,335.45V336.35M92.02,335.45V336.35M92.87,335.45V336.35M93.6,335.45V336.35M94.25,335.45V336.35M94.83,335.45V337.05M98.66,335.45V336.35M100.9,335.45V336.35M102.49,335.45V336.35M103.72,335.45V336.35M104.73,335.45V336.35M105.58,335.45V336.35M106.31,335.45V336.35M106.96,335.45V336.35M107.54,335.45V337.05M111.37,335.45V336.35M113.61,335.45V336.35M115.2,335.45V336.35M116.43,335.45V336.35M117.44,335.45V336.35M118.29,335.45V336.35M119.02,335.45V336.35M119.67,335.45V336.35M120.25,335.45V337.05M124.08,335.45V336.35M126.32,335.45V336.35M127.91,335.45V336.35M129.14,335.45V336.35M130.15,335.45V336.35M131,335.45V336.35M131.73,335.45V336.35M132.38,335.45V336.35M132.96,335.45V337.05" stroke="#111" stroke-width="0.6" fill="none"/><text class="tk" transform="translate(77.72,334) rotate(-90)" text-anchor="middle" font-size="4.8">0</text><text class="tk" transform="translate(77.72,324.27) rotate(-90)" text-anchor="middle" font-size="4.8">5</text><text class="tk" transform="translate(77.72,314.55) rotate(-90)" text-anchor="middle" font-size="4.8">10</text><text class="tk" transform="translate(77.72,304.83) rotate(-90)" text-anchor="middle" font-size="4.8">15</text><text class="tk" transform="translate(77.72,295.1) rotate(-90)" text-anchor="middle" font-size="4.8">20</text><text class="tk" transform="translate(72.52,315.62) rotate(-90)" font-size="5" textLength="14.8" lengthAdjust="spacingAndGlyphs" x="-7.4">Counts</text><text class="tk" x="81.52" y="342.95" text-anchor="middle" font-size="5.3">10</text><text class="sp" x="84.02" y="340.15">0</text><text class="tk" x="93.95" y="342.95" text-anchor="middle" font-size="5.3">10</text><text class="sp" x="96.45" y="340.15">1</text><text class="tk" x="106.38" y="342.95" text-anchor="middle" font-size="5.3">10</text><text class="sp" x="108.88" y="340.15">2</text><text class="tk" x="118.81" y="342.95" text-anchor="middle" font-size="5.3">10</text><text class="sp" x="121.31" y="340.15">3</text><text class="tk" x="131.24" y="342.95" text-anchor="middle" font-size="5.3">10</text><text class="sp" x="133.74" y="340.15">4</text><text class="tk" x="100.72" y="347.75" font-size="4.6" textLength="12.8" lengthAdjust="spacingAndGlyphs">FL2-H</text>
<path class="hg" d="M159.37,335.37L159.37,335.37L159.37,335.37L159.86,329.03L159.87,329.19L160.37,330.9L160.85,331.86L160.87,331.56L161.37,330.43L161.83,329.38L161.87,329.13L162.37,327.79L162.69,326.46L162.87,327.38L163.31,324.68L163.37,324.09L163.87,323.55L163.92,322.79L164.37,320.34L164.54,319.42L164.87,321.16L165.15,317.39L165.37,315.79L165.77,316.82L165.87,315.11L166.37,316.31L166.38,313.33L166.87,312.27L167,317.98L167.37,304.81L167.37,307.2L167.62,295.38L167.86,308.71L167.87,309.61L168.23,311.12L168.37,313.32L168.85,313.63L168.87,309.95L169.37,314.33L169.46,315.11L169.87,313.59L170.08,317.27L170.37,317.31L170.69,319.76L170.87,319.38L171.31,325.9L171.37,323.15L171.87,326.75L171.92,326.63L172.37,329.49L172.54,331.07L172.87,332.08L173.15,331.98L173.37,332.07L173.87,332.49L174.37,333.04L174.38,332.98L174.87,332.75L175.37,332.61L175.62,332.28L175.87,332.63L176.37,332.84L176.85,333.46L176.87,333.52L177.37,333.49L177.87,332.38L178.08,332.21L178.37,332.32L178.87,332.66L179.31,332.8L179.37,332.81L179.87,333.08L180.37,332.95L180.54,333L180.87,332.7L181.37,333.41L181.77,332.55L181.87,332.34L182.37,332.37L182.87,332.79L183,333.33L183.37,332.74L183.87,333.08L184.23,332.99L184.37,332.79L184.87,332.67L185.37,332.62L185.46,333.05L185.87,332.68L186.37,332.12L186.69,332.26L186.87,331.82L187.37,331.65L187.87,331.03L187.92,331.71L188.37,330.31L188.87,330.1L189.15,329.9L189.37,328.11L189.77,326.31L189.87,326.86L190.37,331L190.38,329.78L190.87,331.43L191,331.04L191.37,330.56L191.87,330.72L192.23,329.99L192.37,330.6L192.87,331.11L193.37,331.53L193.46,331.08L193.87,331.83L194.37,332.13L194.69,332.29L194.87,332.48L195.37,333L195.87,331.58L195.92,331.55L196.37,331.84L196.87,332.18L197.37,332.54L197.77,332.73L197.87,332.87L198.37,332.92L198.87,333.09L199.37,333.34L199.62,333.53L199.87,334.19L200.23,335.37L200.23,335.37Z"/><path class="hi" d="M159.97,335.37L159.97,335.37L159.97,335.37L160.46,331.49L160.47,331.31L160.97,332.17L161.45,331.97L161.47,332.44L161.97,332.12L162.43,330.56L162.47,330.68L162.97,331.47L163.29,330.18L163.47,327.86L163.91,326.6L163.97,327.75L164.47,324.71L164.52,325.73L164.97,327.43L165.14,325.14L165.47,321.62L165.75,322.54L165.97,323.1L166.37,319.26L166.47,319.86L166.97,325.01L166.98,320.92L167.47,316.94L167.6,318.56L167.97,311.8L167.97,316.89L168.22,305.76L168.46,311.91L168.47,313.36L168.83,318.49L168.97,318.25L169.45,316.83L169.47,316.56L169.97,320.63L170.06,317.42L170.47,318.59L170.68,319.74L170.97,320.11L171.29,323.67L171.47,325.8L171.91,328.84L171.97,326.47L172.47,328.58L172.52,328.74L172.97,331.41L173.14,331.61L173.47,331.95L173.75,332.55L173.97,332.6L174.47,333.6L174.97,333.47L174.98,333.78L175.47,333.29L175.97,333.01L176.22,333.15L176.47,333.03L176.97,333.48L177.45,334.06L177.47,333.64L177.97,333.41L178.47,333.04L178.68,332.9L178.97,333.17L179.47,334.31L179.91,333.24L179.97,334.07L180.47,333.48L180.97,334.46L181.14,333.94L181.47,334.22L181.97,333.4L182.37,333.72L182.47,332.93L182.97,333.36L183.47,334.23L183.6,333.38L183.97,333.36L184.47,333.42L184.83,333.53L184.97,333.53L185.47,333.12L185.97,333.16L186.06,332.97L186.47,333.24L186.97,332.63L187.29,332.45L187.47,332.78L187.97,332.7L188.47,332.53L188.52,332.81L188.97,332.19L189.47,330.84L189.75,330.86L189.97,331.19L190.37,331.56L190.47,328.69L190.97,330.83L190.98,331.62L191.47,332.14L191.6,332.07L191.97,332.37L192.47,332.06L192.83,332.48L192.97,331.57L193.47,332.19L193.97,332.09L194.06,333.72L194.47,332.75L194.97,332.76L195.29,333.16L195.47,332.84L195.97,332.87L196.47,332.74L196.52,332.88L196.97,333.01L197.47,334.21L197.97,333.59L198.37,333.52L198.47,333.43L198.97,334.16L199.47,333.6L199.97,333.84L200.22,333.92L200.47,334.66L200.83,335.37"/><path d="M158.77,293.88H208.87V335.37" fill="none" stroke="#222" stroke-width="0.9"/><path d="M158.77,293.48V335.37" fill="none" stroke="#000" stroke-width="1.1"/><path d="M158.27,335.37H209.37" fill="none" stroke="#000" stroke-width="1.7"/><path d="M157.07,335.37H158.77M157.57,333.3H158.77M157.57,331.22H158.77M157.57,329.15H158.77M157.57,327.07H158.77M157.07,325H158.77M157.57,322.92H158.77M157.57,320.85H158.77M157.57,318.77H158.77M157.57,316.7H158.77M157.07,314.62H158.77M157.57,312.55H158.77M157.57,310.48H158.77M157.57,308.4H158.77M157.57,306.33H158.77M157.07,304.25H158.77M157.57,302.18H158.77M157.57,300.1H158.77M157.57,298.03H158.77M157.57,295.95H158.77M157.07,293.88H158.77M158.77,335.37V336.97M162.54,335.37V336.27M164.75,335.37V336.27M166.31,335.37V336.27M167.53,335.37V336.27M168.52,335.37V336.27M169.36,335.37V336.27M170.08,335.37V336.27M170.72,335.37V336.27M171.3,335.37V336.97M175.07,335.37V336.27M177.27,335.37V336.27M178.84,335.37V336.27M180.05,335.37V336.27M181.04,335.37V336.27M181.88,335.37V336.27M182.61,335.37V336.27M183.25,335.37V336.27M183.82,335.37V336.97M187.59,335.37V336.27M189.8,335.37V336.27M191.36,335.37V336.27M192.58,335.37V336.27M193.57,335.37V336.27M194.41,335.37V336.27M195.13,335.37V336.27M195.77,335.37V336.27M196.35,335.37V336.97M200.12,335.37V336.27M202.32,335.37V336.27M203.89,335.37V336.27M205.1,335.37V336.27M206.09,335.37V336.27M206.93,335.37V336.27M207.66,335.37V336.27M208.3,335.37V336.27M208.87,335.37V336.97" stroke="#111" stroke-width="0.6" fill="none"/><text class="tk" transform="translate(154.37,333.92) rotate(-90)" text-anchor="middle" font-size="4.8">0</text><text class="tk" transform="translate(154.37,324.19) rotate(-90)" text-anchor="middle" font-size="4.8">5</text><text class="tk" transform="translate(154.37,314.45) rotate(-90)" text-anchor="middle" font-size="4.8">10</text><text class="tk" transform="translate(154.37,304.72) rotate(-90)" text-anchor="middle" font-size="4.8">15</text><text class="tk" transform="translate(154.37,294.98) rotate(-90)" text-anchor="middle" font-size="4.8">20</text><text class="tk" transform="translate(149.17,315.52) rotate(-90)" font-size="5" textLength="14.8" lengthAdjust="spacingAndGlyphs" x="-7.4">Counts</text><text class="tk" x="158.17" y="342.87" text-anchor="middle" font-size="5.3">10</text><text class="sp" x="160.67" y="340.07">0</text><text class="tk" x="170.42" y="342.87" text-anchor="middle" font-size="5.3">10</text><text class="sp" x="172.92" y="340.07">1</text><text class="tk" x="182.66" y="342.87" text-anchor="middle" font-size="5.3">10</text><text class="sp" x="185.16" y="340.07">2</text><text class="tk" x="194.91" y="342.87" text-anchor="middle" font-size="5.3">10</text><text class="sp" x="197.41" y="340.07">3</text><text class="tk" x="207.15" y="342.87" text-anchor="middle" font-size="5.3">10</text><text class="sp" x="209.65" y="340.07">4</text><text class="tk" x="177.37" y="347.67" font-size="4.6" textLength="12.8" lengthAdjust="spacingAndGlyphs">FL2-H</text>
<path class="hg" d="M235.62,335.29L235.62,335.29L235.62,335.29L235.86,329.74L236.12,328.78L236.6,327.8L236.62,328.61L237.12,325.74L237.46,323.98L237.62,323.3L238.08,319.47L238.12,320.54L238.62,315.49L238.69,318.27L239.12,314.92L239.31,309.88L239.62,310.29L239.92,310.79L240.12,309.37L240.54,307.54L240.62,312.74L241.12,313.33L241.15,307.16L241.62,307.83L241.77,307.66L242.12,309.71L242.38,308L242.62,307.38L243,308.52L243.12,309.3L243.62,313.7L243.62,313L244.12,320.24L244.23,317.46L244.62,321.83L244.85,319.54L245.12,320.46L245.46,323.85L245.62,323.95L246.08,327.21L246.12,326.87L246.62,329.53L246.69,329.87L247.12,331.82L247.31,333.26L247.62,334.01L247.92,335.29L247.92,335.29Z"/><path class="hg" d="M248.91,335.29L248.91,335.29L248.91,335.29L249.4,333.41L249.41,333.83L249.91,333.96L250.38,334.46L250.41,334.01L250.91,333.56L251.37,333.42L251.41,333.11L251.86,335.29L251.86,335.29Z"/><path class="hg" d="M254.69,335.29L254.69,335.29L254.69,335.29L255.06,333.57L255.19,333.73L255.55,335.29L255.55,335.29Z"/><path class="hi" d="M236.22,335.29L236.22,335.29L236.22,335.29L236.46,330.34L236.72,330.32L237.2,329.5L237.22,330.77L237.72,327.57L238.06,326.89L238.22,327.36L238.68,323.06L238.72,324.79L239.22,321.8L239.29,323.49L239.72,319.82L239.91,321.47L240.22,318.38L240.52,316.09L240.72,316.3L241.14,317L241.22,318.1L241.72,312.73L241.75,312.76L242.22,315.43L242.37,311.95L242.72,313.77L242.98,311.83L243.22,316.41L243.6,322.12L243.72,314.97L244.22,316.88L244.22,317.29L244.72,320.14L244.83,321.47L245.22,322.88L245.45,322.47L245.72,323.87L246.06,327.26L246.22,327.22L246.68,328.49L246.72,329.9L247.22,331.83L247.29,331.14L247.72,332.88L247.91,333.33L248.22,334.26L248.52,335.29"/><path d="M234.94,293.76H285.09V335.29" fill="none" stroke="#222" stroke-width="0.9"/><path d="M234.94,293.36V335.29" fill="none" stroke="#000" stroke-width="1.1"/><path d="M234.44,335.29H285.59" fill="none" stroke="#000" stroke-width="1.7"/><path d="M233.24,335.29H234.94M233.74,333.21H234.94M233.74,331.14H234.94M233.74,329.06H234.94M233.74,326.98H234.94M233.24,324.91H234.94M233.74,322.83H234.94M233.74,320.75H234.94M233.74,318.68H234.94M233.74,316.6H234.94M233.24,314.52H234.94M233.74,312.45H234.94M233.74,310.37H234.94M233.74,308.3H234.94M233.74,306.22H234.94M233.24,304.14H234.94M233.74,302.07H234.94M233.74,299.99H234.94M233.74,297.91H234.94M233.74,295.84H234.94M233.24,293.76H234.94M234.94,335.29V336.89M238.72,335.29V336.19M240.92,335.29V336.19M242.49,335.29V336.19M243.71,335.29V336.19M244.7,335.29V336.19M245.54,335.29V336.19M246.26,335.29V336.19M246.91,335.29V336.19M247.48,335.29V336.89M251.25,335.29V336.19M253.46,335.29V336.19M255.03,335.29V336.19M256.24,335.29V336.19M257.24,335.29V336.19M258.07,335.29V336.19M258.8,335.29V336.19M259.44,335.29V336.19M260.02,335.29V336.89M263.79,335.29V336.19M266,335.29V336.19M267.57,335.29V336.19M268.78,335.29V336.19M269.77,335.29V336.19M270.61,335.29V336.19M271.34,335.29V336.19M271.98,335.29V336.19M272.55,335.29V336.89M276.33,335.29V336.19M278.54,335.29V336.19M280.1,335.29V336.19M281.32,335.29V336.19M282.31,335.29V336.19M283.15,335.29V336.19M283.88,335.29V336.19M284.52,335.29V336.19M285.09,335.29V336.89" stroke="#111" stroke-width="0.6" fill="none"/><text class="tk" transform="translate(230.54,333.84) rotate(-90)" text-anchor="middle" font-size="4.8">0</text><text class="tk" transform="translate(230.54,324.09) rotate(-90)" text-anchor="middle" font-size="4.8">5</text><text class="tk" transform="translate(230.54,314.35) rotate(-90)" text-anchor="middle" font-size="4.8">10</text><text class="tk" transform="translate(230.54,304.61) rotate(-90)" text-anchor="middle" font-size="4.8">15</text><text class="tk" transform="translate(230.54,294.86) rotate(-90)" text-anchor="middle" font-size="4.8">20</text><text class="tk" transform="translate(225.34,315.42) rotate(-90)" font-size="5" textLength="14.8" lengthAdjust="spacingAndGlyphs" x="-7.4">Counts</text><text class="tk" x="234.34" y="342.79" text-anchor="middle" font-size="5.3">10</text><text class="sp" x="236.84" y="339.99">0</text><text class="tk" x="246.6" y="342.79" text-anchor="middle" font-size="5.3">10</text><text class="sp" x="249.1" y="339.99">1</text><text class="tk" x="258.86" y="342.79" text-anchor="middle" font-size="5.3">10</text><text class="sp" x="261.36" y="339.99">2</text><text class="tk" x="271.11" y="342.79" text-anchor="middle" font-size="5.3">10</text><text class="sp" x="273.61" y="339.99">3</text><text class="tk" x="283.37" y="342.79" text-anchor="middle" font-size="5.3">10</text><text class="sp" x="285.87" y="339.99">4</text><text class="tk" x="253.54" y="347.59" font-size="4.6" textLength="12.8" lengthAdjust="spacingAndGlyphs">FL2-H</text>
<path class="hk" d="M317.77,335.21L317.77,335.21L317.77,335.21L318.27,334.37L318.38,333.89L318.77,332.79L319,332.19L319.27,330.67L319.62,328.23L319.77,327.83L320.23,325.8L320.27,326.16L320.77,323.01L320.85,322.62L321.27,319.53L321.46,319.92L321.77,316.84L322.08,316.99L322.27,315.74L322.69,317.62L322.77,310.39L323.27,313.53L323.31,305.52L323.77,305.63L323.92,299.07L324.27,304.2L324.54,298.52L324.77,301.89L325.15,301.94L325.27,304.59L325.77,319.19L325.77,309.38L326.27,315.88L326.38,316.86L326.77,319.43L327,321.29L327.27,322.9L327.62,323.33L327.77,326.18L328.23,326.23L328.27,326.27L328.77,328.23L328.85,329.86L329.27,330.88L329.46,331.9L329.77,333.32L330.08,335.21L330.08,335.21Z"/><path class="ho" d="M311,335.21L311,335.21L311,335.21L311.37,333.66L311.5,333.41L312,333.13L312.23,332.62L312.5,333.44L313,332.4L313.46,332.68L313.5,332.16L314,331.5L314.5,331.25L314.69,330.77L315,329.95L315.31,328.64L315.5,327.67L315.92,326.09L316,326.26L316.5,323.19L316.54,322.51L317,319.23L317.15,318.37L317.5,316.22L317.77,316.07L318,313.69L318.38,310.44L318.5,310.46L319,308.5L319,308L319.5,306.09L319.62,305.66L320,303.73L320.23,301.98L320.5,299.34L320.85,297.17L321,303.94L321.46,303.04L321.5,302.44L322,306.12L322.08,307.15L322.5,310.07L322.69,308.87L323,306.99L323.31,304.06"/><path d="M310.43,293.64H360.58V335.21" fill="none" stroke="#222" stroke-width="0.9"/><path d="M310.43,293.24V335.21" fill="none" stroke="#000" stroke-width="1.1"/><path d="M309.93,335.21H361.08" fill="none" stroke="#000" stroke-width="1.7"/><path d="M308.73,335.21H310.43M309.23,333.13H310.43M309.23,331.05H310.43M309.23,328.97H310.43M309.23,326.9H310.43M308.73,324.82H310.43M309.23,322.74H310.43M309.23,320.66H310.43M309.23,318.58H310.43M309.23,316.5H310.43M308.73,314.43H310.43M309.23,312.35H310.43M309.23,310.27H310.43M309.23,308.19H310.43M309.23,306.11H310.43M308.73,304.03H310.43M309.23,301.95H310.43M309.23,299.88H310.43M309.23,297.8H310.43M309.23,295.72H310.43M308.73,293.64H310.43M310.43,335.21V336.81M314.2,335.21V336.11M316.41,335.21V336.11M317.98,335.21V336.11M319.19,335.21V336.11M320.18,335.21V336.11M321.02,335.21V336.11M321.75,335.21V336.11M322.39,335.21V336.11M322.97,335.21V336.81M326.74,335.21V336.11M328.95,335.21V336.11M330.51,335.21V336.11M331.73,335.21V336.11M332.72,335.21V336.11M333.56,335.21V336.11M334.29,335.21V336.11M334.93,335.21V336.11M335.5,335.21V336.81M339.28,335.21V336.11M341.49,335.21V336.11M343.05,335.21V336.11M344.27,335.21V336.11M345.26,335.21V336.11M346.1,335.21V336.11M346.83,335.21V336.11M347.47,335.21V336.11M348.04,335.21V336.81M351.81,335.21V336.11M354.02,335.21V336.11M355.59,335.21V336.11M356.8,335.21V336.11M357.8,335.21V336.11M358.64,335.21V336.11M359.36,335.21V336.11M360,335.21V336.11M360.58,335.21V336.81" stroke="#111" stroke-width="0.6" fill="none"/><text class="tk" transform="translate(306.03,333.76) rotate(-90)" text-anchor="middle" font-size="4.8">0</text><text class="tk" transform="translate(306.03,324.01) rotate(-90)" text-anchor="middle" font-size="4.8">5</text><text class="tk" transform="translate(306.03,314.25) rotate(-90)" text-anchor="middle" font-size="4.8">10</text><text class="tk" transform="translate(306.03,304.5) rotate(-90)" text-anchor="middle" font-size="4.8">15</text><text class="tk" transform="translate(306.03,294.74) rotate(-90)" text-anchor="middle" font-size="4.8">20</text><text class="tk" transform="translate(300.83,315.32) rotate(-90)" font-size="5" textLength="14.8" lengthAdjust="spacingAndGlyphs" x="-7.4">Counts</text><text class="tk" x="309.83" y="342.71" text-anchor="middle" font-size="5.3">10</text><text class="sp" x="312.33" y="339.91">0</text><text class="tk" x="322.09" y="342.71" text-anchor="middle" font-size="5.3">10</text><text class="sp" x="324.59" y="339.91">1</text><text class="tk" x="334.34" y="342.71" text-anchor="middle" font-size="5.3">10</text><text class="sp" x="336.84" y="339.91">2</text><text class="tk" x="346.6" y="342.71" text-anchor="middle" font-size="5.3">10</text><text class="sp" x="349.1" y="339.91">3</text><text class="tk" x="358.86" y="342.71" text-anchor="middle" font-size="5.3">10</text><text class="sp" x="361.36" y="339.91">4</text><text class="tk" x="329.03" y="347.51" font-size="4.6" textLength="12.8" lengthAdjust="spacingAndGlyphs">FL2-H</text>
<path class="hg" d="M387.85,335.13L387.85,335.13L387.85,335.13L388.35,332.98L388.46,332.81L388.85,332.07L389.35,330.48L389.69,330.53L389.85,330.09L390.35,330.05L390.85,330.05L390.92,329.49L391.35,328.33L391.85,328.67L392.15,327.64L392.35,328.8L392.85,326.24L393.35,325.75L393.38,327.05L393.85,326.24L394.35,324.5L394.62,323.73L394.85,323.77L395.35,322.36L395.85,322.47L395.85,321.31L396.35,325.02L396.71,318.54L396.85,318.73L397.35,324.8L397.45,322.01L397.85,322.86L398.31,324.07L398.35,325.59L398.85,326.58L399.17,329.47L399.35,328.65L399.85,328.89L400.15,330.25L400.35,329.25L400.85,329.97L401.35,329.97L401.38,329.93L401.85,330.3L402.35,329.85L402.62,329.15L402.85,329.31L403.35,328.89L403.85,328.55L403.85,328.12L404.35,325.56L404.46,324.75L404.85,325.97L405.08,327.9L405.35,328.35L405.85,326.83L406.06,326.66L406.35,326.42L406.85,324.73L406.92,324.18L407.35,321.83L407.54,319.92L407.85,323.27L408.15,321.27L408.35,321.87L408.77,324.66L408.85,323.24L409.35,322.68L409.75,324.02L409.85,323.16L410.35,321.79L410.62,319.2L410.85,321.03L411.35,318.51L411.48,318.43L411.85,318.15L412.22,320.98L412.35,317.84L412.85,318.66L413.08,317.81L413.35,316.32L413.69,318.12L413.85,323.06L414.31,318.8L414.35,318.97L414.85,319.88L414.92,318.14L415.35,320.52L415.54,321.71L415.85,318.56L416.35,318.79L416.4,321.87L416.85,323.37L417.14,323.14L417.35,324.33L417.85,328.15L418,328.31L418.35,327.79L418.62,328.97L418.85,329.57L419.35,331.65L419.6,332.52L419.85,334.13L420.09,335.13L420.09,335.13Z"/><path class="ho" d="M386.86,335.13L386.86,335.13L386.86,335.13L387.23,325.99L387.36,326.73L387.86,330.38L388.09,331.1L388.36,330.74L388.86,330.11L389.08,330.36L389.36,329.08L389.86,327.65L390.31,326.2L390.36,326.6L390.86,324.63L391.29,323.43L391.36,323.3L391.86,322.13L392.15,321.6L392.36,319.59L392.77,320.44L392.86,317.17L393.36,313.27L393.38,314.13L393.86,310.57L394,309.63L394.36,305.28L394.62,301.46L394.86,297.06L394.98,295.39L395.36,304.22L395.48,306.22L395.86,308.98L396.22,313.29L396.36,312.37L396.71,315.34L396.86,315.22L397.36,316.94L397.45,317.97L397.86,319.86L397.94,320.12L398.36,317.47L398.68,317.38L398.86,317.67L399.17,317.29L399.36,319.37L399.86,322.03L399.91,324.05L400.36,326.15L400.4,325.92L400.86,327.92L401.14,329.09"/><path d="M386.36,293.52H437.06V335.13" fill="none" stroke="#222" stroke-width="0.9"/><path d="M386.36,293.12V335.13" fill="none" stroke="#000" stroke-width="1.1"/><path d="M385.86,335.13H437.56" fill="none" stroke="#000" stroke-width="1.7"/><path d="M384.66,335.13H386.36M385.16,333.05H386.36M385.16,330.97H386.36M385.16,328.89H386.36M385.16,326.81H386.36M384.66,324.73H386.36M385.16,322.65H386.36M385.16,320.57H386.36M385.16,318.49H386.36M385.16,316.41H386.36M384.66,314.32H386.36M385.16,312.24H386.36M385.16,310.16H386.36M385.16,308.08H386.36M385.16,306H386.36M384.66,303.92H386.36M385.16,301.84H386.36M385.16,299.76H386.36M385.16,297.68H386.36M385.16,295.6H386.36M384.66,293.52H386.36M386.36,335.13V336.73M390.17,335.13V336.03M392.4,335.13V336.03M393.99,335.13V336.03M395.22,335.13V336.03M396.22,335.13V336.03M397.07,335.13V336.03M397.8,335.13V336.03M398.45,335.13V336.03M399.03,335.13V336.73M402.85,335.13V336.03M405.08,335.13V336.03M406.66,335.13V336.03M407.89,335.13V336.03M408.89,335.13V336.03M409.74,335.13V336.03M410.48,335.13V336.03M411.13,335.13V336.03M411.71,335.13V336.73M415.52,335.13V336.03M417.75,335.13V336.03M419.34,335.13V336.03M420.57,335.13V336.03M421.57,335.13V336.03M422.42,335.13V336.03M423.15,335.13V336.03M423.8,335.13V336.03M424.38,335.13V336.73M428.2,335.13V336.03M430.43,335.13V336.03M432.01,335.13V336.03M433.24,335.13V336.03M434.24,335.13V336.03M435.09,335.13V336.03M435.83,335.13V336.03M436.48,335.13V336.03M437.06,335.13V336.73" stroke="#111" stroke-width="0.6" fill="none"/><text class="tk" transform="translate(381.96,333.68) rotate(-90)" text-anchor="middle" font-size="4.8">0</text><text class="tk" transform="translate(381.96,323.92) rotate(-90)" text-anchor="middle" font-size="4.8">5</text><text class="tk" transform="translate(381.96,314.15) rotate(-90)" text-anchor="middle" font-size="4.8">10</text><text class="tk" transform="translate(381.96,304.38) rotate(-90)" text-anchor="middle" font-size="4.8">15</text><text class="tk" transform="translate(381.96,294.62) rotate(-90)" text-anchor="middle" font-size="4.8">20</text><text class="tk" transform="translate(376.76,315.22) rotate(-90)" font-size="5" textLength="14.8" lengthAdjust="spacingAndGlyphs" x="-7.4">Counts</text><text class="tk" x="385.76" y="342.63" text-anchor="middle" font-size="5.3">10</text><text class="sp" x="388.26" y="339.83">0</text><text class="tk" x="398.15" y="342.63" text-anchor="middle" font-size="5.3">10</text><text class="sp" x="400.65" y="339.83">1</text><text class="tk" x="410.55" y="342.63" text-anchor="middle" font-size="5.3">10</text><text class="sp" x="413.05" y="339.83">2</text><text class="tk" x="422.94" y="342.63" text-anchor="middle" font-size="5.3">10</text><text class="sp" x="425.44" y="339.83">3</text><text class="tk" x="435.34" y="342.63" text-anchor="middle" font-size="5.3">10</text><text class="sp" x="437.84" y="339.83">4</text><text class="tk" x="404.96" y="349.83" font-size="4.6" textLength="12.8" lengthAdjust="spacingAndGlyphs">FL2-H</text>
<path class="hg" d="M463.63,335.05L463.63,335.05L463.63,335.05L464,331.09L464.13,330.36L464.63,331L464.86,331.28L465.13,331.24L465.63,330.36L465.85,329.96L466.13,331.04L466.63,328.73L466.83,328.73L467.13,327.57L467.63,327.7L467.69,326.9L468.13,325.26L468.31,322.26L468.63,321.96L468.92,321.25L469.13,321.79L469.54,322.29L469.63,322.41L470.13,320.6L470.15,319.7L470.63,321.11L470.77,315.99L471.13,314.23L471.38,310.64L471.63,304.1L471.75,309.22L472.12,293.8L472.13,299.92L472.62,309.21L472.63,305.39L473.13,306.99L473.23,305.42L473.63,310.75L473.85,310.91L474.13,313.85L474.46,316.51L474.63,317.5L475.08,320.45L475.13,322.62L475.63,323.53L475.69,325.11L476.13,326.06L476.31,325.83L476.63,325.48L476.92,326.01L477.13,327.07L477.63,327.44L477.91,327.1L478.13,327.8L478.63,327.3L478.77,327.08L479.13,327.96L479.63,329.89L479.63,329.21L480.13,327.84L480.62,327.59L480.63,327.56L481.13,327.9L481.6,329.01L481.63,329.23L482.13,327.45L482.46,327.07L482.63,325.88L483.13,324.31L483.32,323.65L483.63,324.26L484.06,325.31L484.13,326.52L484.63,325.65L484.92,327.15L485.13,326.69L485.54,328.61L485.63,327.43L486.13,329.67L486.15,329.44L486.63,329.03L486.77,329.1L487.13,328.98L487.63,330.45L487.75,330.69L488.13,330.69L488.62,331.12L488.63,330.47L489.13,330.3L489.48,329.97L489.63,330.08L490.13,332.14L490.46,331.67L490.63,332.34L491.13,332.52L491.45,332.34L491.63,332.39L492.13,333.31L492.31,333.1L492.63,333.85L493.13,333.92L493.54,334.55L493.63,334.64L494.13,335.03L494.15,335.05L494.15,335.05Z"/><path class="hi" d="M464.23,335.05L464.23,335.05L464.23,335.05L464.6,332.56L464.73,331.21L465.23,332.52L465.46,332.18L465.73,331.96L466.23,331.81L466.45,331.33L466.73,331.24L467.23,331.09L467.43,330.81L467.73,329.73L468.23,328.29L468.29,329.08L468.73,325.98L468.91,326.71L469.23,327L469.52,324.65L469.73,326.51L470.14,326.58L470.23,328.27L470.73,327.08L470.75,322.93L471.23,321.08L471.37,321.8L471.73,320.14L471.98,322.88L472.23,310.9L472.35,318.77L472.72,305.06L472.73,302.94L473.22,310.94L473.23,312.01L473.73,311.23L473.83,315.62L474.23,315.08L474.45,317.01L474.73,318.38L475.06,319.67L475.23,319.78L475.68,324.99L475.73,323.62L476.23,325.03L476.29,329.82L476.73,327.24L476.91,327.79L477.23,328.81L477.52,330.83L477.73,329.63L478.23,329.15L478.51,329.83L478.73,329.1L479.23,328.96L479.37,329.96L479.73,329.28L480.23,329.95L480.23,330.46L480.73,330.68L481.22,329.81L481.23,328.97L481.73,331.07L482.2,330.74L482.23,330.2L482.73,329.58L483.06,328.81L483.23,327.86L483.73,326.68L483.92,326.78L484.23,326.93L484.66,328.26L484.73,327.45L485.23,330.21L485.52,329.64L485.73,328.85L486.14,329.81L486.23,329.26L486.73,331.14L486.75,331.72L487.23,330.33L487.37,330.59L487.73,331.15L488.23,330.74L488.35,331.42L488.73,332.01L489.22,331.42L489.23,331.92L489.73,331.13L490.08,331.26L490.23,331.63L490.73,332.61L491.06,332.71L491.23,332.75L491.73,333.33L492.05,332.95L492.23,333.8L492.73,333.24L492.91,333.38L493.23,333.78L493.73,334.19L494.14,334.67L494.23,334.71L494.73,335.04L494.75,335.05"/><path d="M463.47,293.4H514.42V335.05" fill="none" stroke="#222" stroke-width="0.9"/><path d="M463.47,293V335.05" fill="none" stroke="#000" stroke-width="1.1"/><path d="M462.97,335.05H514.92" fill="none" stroke="#000" stroke-width="1.7"/><path d="M461.77,335.05H463.47M462.27,332.97H463.47M462.27,330.88H463.47M462.27,328.8H463.47M462.27,326.72H463.47M461.77,324.64H463.47M462.27,322.56H463.47M462.27,320.47H463.47M462.27,318.39H463.47M462.27,316.31H463.47M461.77,314.23H463.47M462.27,312.14H463.47M462.27,310.06H463.47M462.27,307.98H463.47M462.27,305.89H463.47M461.77,303.81H463.47M462.27,301.73H463.47M462.27,299.65H463.47M462.27,297.56H463.47M462.27,295.48H463.47M461.77,293.4H463.47M463.47,335.05V336.65M467.3,335.05V335.95M469.55,335.05V335.95M471.14,335.05V335.95M472.37,335.05V335.95M473.38,335.05V335.95M474.23,335.05V335.95M474.97,335.05V335.95M475.62,335.05V335.95M476.21,335.05V336.65M480.04,335.05V335.95M482.28,335.05V335.95M483.87,335.05V335.95M485.11,335.05V335.95M486.12,335.05V335.95M486.97,335.05V335.95M487.71,335.05V335.95M488.36,335.05V335.95M488.94,335.05V336.65M492.78,335.05V335.95M495.02,335.05V335.95M496.61,335.05V335.95M497.85,335.05V335.95M498.86,335.05V335.95M499.71,335.05V335.95M500.45,335.05V335.95M501.1,335.05V335.95M501.68,335.05V336.65M505.52,335.05V335.95M507.76,335.05V335.95M509.35,335.05V335.95M510.58,335.05V335.95M511.59,335.05V335.95M512.45,335.05V335.95M513.18,335.05V335.95M513.84,335.05V335.95M514.42,335.05V336.65" stroke="#111" stroke-width="0.6" fill="none"/><text class="tk" transform="translate(459.07,333.6) rotate(-90)" text-anchor="middle" font-size="4.8">0</text><text class="tk" transform="translate(459.07,323.83) rotate(-90)" text-anchor="middle" font-size="4.8">5</text><text class="tk" transform="translate(459.07,314.05) rotate(-90)" text-anchor="middle" font-size="4.8">10</text><text class="tk" transform="translate(459.07,304.27) rotate(-90)" text-anchor="middle" font-size="4.8">15</text><text class="tk" transform="translate(459.07,294.5) rotate(-90)" text-anchor="middle" font-size="4.8">20</text><text class="tk" transform="translate(453.87,315.12) rotate(-90)" font-size="5" textLength="14.8" lengthAdjust="spacingAndGlyphs" x="-7.4">Counts</text><text class="tk" x="462.87" y="342.55" text-anchor="middle" font-size="5.3">10</text><text class="sp" x="465.37" y="339.75">0</text><text class="tk" x="475.33" y="342.55" text-anchor="middle" font-size="5.3">10</text><text class="sp" x="477.83" y="339.75">1</text><text class="tk" x="487.78" y="342.55" text-anchor="middle" font-size="5.3">10</text><text class="sp" x="490.28" y="339.75">2</text><text class="tk" x="500.24" y="342.55" text-anchor="middle" font-size="5.3">10</text><text class="sp" x="502.74" y="339.75">3</text><text class="tk" x="512.7" y="342.55" text-anchor="middle" font-size="5.3">10</text><text class="sp" x="515.2" y="339.75">4</text><text class="tk" x="482.07" y="351.65" font-size="4.6" textLength="12.8" lengthAdjust="spacingAndGlyphs">FL2-H</text>
<path class="hg" d="M84.23,402.3L84.23,402.3L84.23,402.3L84.73,399.78L84.85,399.18L85.23,399.68L85.73,399.01L86.08,397.51L86.23,397.24L86.73,396.45L87.23,396.09L87.31,396.27L87.73,395.19L88.23,394.19L88.29,395.4L88.73,393.6L89.15,391.12L89.23,390.82L89.73,391.75L89.77,391.57L90.23,392.39L90.73,393.45L90.75,393.04L91.23,392.46L91.62,391.93L91.73,392.12L92.23,391.65L92.48,389.79L92.73,388.44L93.22,385.78L93.23,386.21L93.71,388.95L93.73,386.05L94.23,387.15L94.45,388.22L94.73,391.67L95.06,391.7L95.23,393.45L95.68,391.57L95.73,391.29L96.17,392.27L96.23,392.01L96.73,395.23L96.91,395.52L97.23,397.16L97.73,399L97.77,399.33L98.23,400.12L98.38,400.44L98.73,401.18L99.23,400.09L99.62,400.07L99.73,399.99L100.23,400.24L100.73,400.73L100.85,400.42L101.23,400.67L101.73,400.03L102.08,400.05L102.23,399.83L102.73,399.67L103.23,400.41L103.31,399.2L103.73,399.96L104.23,400.78L104.54,400.68L104.73,400.31L105.23,399.84L105.73,400.1L105.77,399.36L106.23,399.22L106.73,398.36L107,398.08L107.23,397.59L107.73,398L107.98,396.9L108.23,396.14L108.73,395.03L108.85,396.32L109.23,394.21L109.71,393.27L109.73,394.41L110.23,394.2L110.69,393.39L110.73,392.01L111.23,390.59L111.31,390.09L111.73,387.57L111.92,389.25L112.23,389.58L112.54,389.07L112.73,389.7L113.15,392.3L113.23,392.39L113.73,392.25L113.77,390.77L114.23,392.12L114.38,391.82L114.73,394.01L115,394.08L115.23,393.59L115.62,391.71L115.73,392.9L116.23,392.26L116.23,392.95L116.73,391.76L116.85,390.83L117.23,393L117.46,393.03L117.73,395.36L118.08,395.62L118.23,394.5L118.73,395.97L119.06,395.66L119.23,396.17L119.73,397.76L119.92,397.4L120.23,398.44L120.73,399.95L120.78,399.33L121.23,400.4L121.52,401.09L121.73,401.34L122.23,402.08L122.38,402.3L122.38,402.3Z"/><path class="ho" d="M82.63,402.3L82.63,402.3L82.63,402.3L83,392.17L83.13,392.62L83.63,394.62L83.86,395.45L84.13,394.59L84.63,392.66L84.85,392.01L85.13,390.47L85.63,387.57L85.83,388.14L86.13,385.88L86.63,384.93L86.69,384.71L87.13,383.31L87.31,384.47L87.63,383.04L88.13,380.57L88.29,378.48L88.63,376.21L89.13,374.13L89.15,374.01L89.63,373.1L89.77,372.32L90.13,373.09L90.63,371.87L90.75,372.65L91.13,375.44L91.62,372.97L91.63,374.81L92.13,369.27L92.23,369.46L92.63,365.93L92.85,366.8L93.13,369.12L93.46,370.81L93.63,371.86L94.08,375.5L94.13,377.24L94.63,382.34L94.69,381.96L95.13,386.85L95.31,386.81L95.63,390.21L95.92,391.87L96.13,392.93L96.54,395.87L96.63,396.53L97.13,399L97.15,399.36L97.63,401.59L97.77,402.3"/><path d="M82.18,361.5H133.08V402.3" fill="none" stroke="#222" stroke-width="0.9"/><path d="M82.18,361.1V402.3" fill="none" stroke="#000" stroke-width="1.1"/><path d="M81.68,402.3H133.58" fill="none" stroke="#000" stroke-width="1.7"/><path d="M80.48,402.3H82.18M80.98,400.26H82.18M80.98,398.22H82.18M80.98,396.18H82.18M80.98,394.14H82.18M80.48,392.1H82.18M80.98,390.06H82.18M80.98,388.02H82.18M80.98,385.98H82.18M80.98,383.94H82.18M80.48,381.9H82.18M80.98,379.86H82.18M80.98,377.82H82.18M80.98,375.78H82.18M80.98,373.74H82.18M80.48,371.7H82.18M80.98,369.66H82.18M80.98,367.62H82.18M80.98,365.58H82.18M80.98,363.54H82.18M80.48,361.5H82.18M82.18,402.3V403.9M86.01,402.3V403.2M88.25,402.3V403.2M89.84,402.3V403.2M91.07,402.3V403.2M92.08,402.3V403.2M92.93,402.3V403.2M93.67,402.3V403.2M94.32,402.3V403.2M94.9,402.3V403.9M98.73,402.3V403.2M100.97,402.3V403.2M102.56,402.3V403.2M103.8,402.3V403.2M104.8,402.3V403.2M105.66,402.3V403.2M106.39,402.3V403.2M107.05,402.3V403.2M107.63,402.3V403.9M111.46,402.3V403.2M113.7,402.3V403.2M115.29,402.3V403.2M116.52,402.3V403.2M117.53,402.3V403.2M118.38,402.3V403.2M119.12,402.3V403.2M119.77,402.3V403.2M120.35,402.3V403.9M124.18,402.3V403.2M126.42,402.3V403.2M128.01,402.3V403.2M129.25,402.3V403.2M130.25,402.3V403.2M131.11,402.3V403.2M131.84,402.3V403.2M132.5,402.3V403.2M133.08,402.3V403.9" stroke="#111" stroke-width="0.6" fill="none"/><text class="tk" transform="translate(77.78,400.85) rotate(-90)" text-anchor="middle" font-size="4.8">0</text><text class="tk" transform="translate(77.78,391.29) rotate(-90)" text-anchor="middle" font-size="4.8">5</text><text class="tk" transform="translate(77.78,381.73) rotate(-90)" text-anchor="middle" font-size="4.8">10</text><text class="tk" transform="translate(77.78,372.16) rotate(-90)" text-anchor="middle" font-size="4.8">15</text><text class="tk" transform="translate(77.78,362.6) rotate(-90)" text-anchor="middle" font-size="4.8">20</text><text class="tk" transform="translate(72.58,382.8) rotate(-90)" font-size="5" textLength="14.8" lengthAdjust="spacingAndGlyphs" x="-7.4">Counts</text><text class="tk" x="81.58" y="409.8" text-anchor="middle" font-size="5.3">10</text><text class="sp" x="84.08" y="407">0</text><text class="tk" x="94.02" y="409.8" text-anchor="middle" font-size="5.3">10</text><text class="sp" x="96.52" y="407">1</text><text class="tk" x="106.47" y="409.8" text-anchor="middle" font-size="5.3">10</text><text class="sp" x="108.97" y="407">2</text><text class="tk" x="118.91" y="409.8" text-anchor="middle" font-size="5.3">10</text><text class="sp" x="121.41" y="407">3</text><text class="tk" x="131.36" y="409.8" text-anchor="middle" font-size="5.3">10</text><text class="sp" x="133.86" y="407">4</text><text class="tk" x="100.78" y="414.6" font-size="4.6" textLength="12.8" lengthAdjust="spacingAndGlyphs">FL2-H</text>
<path class="hg" d="M159.37,402.22L159.37,402.22L159.37,402.22L159.86,398.79L159.87,399.52L160.37,397.95L160.85,397.54L160.87,397.29L161.37,396.91L161.83,395.04L161.87,395.34L162.37,393.27L162.69,392.78L162.87,392.16L163.31,390.8L163.37,392.78L163.87,390.01L163.92,388.55L164.37,389.06L164.54,391.39L164.87,389.54L165.15,389.84L165.37,385.69L165.77,383.93L165.87,382.35L166.37,378.94L166.38,379.14L166.87,379.14L167,377.31L167.37,377.13L167.62,376.05L167.87,383.9L168.23,377.97L168.37,380.56L168.85,376.45L168.87,375.45L169.37,376.24L169.46,375.59L169.87,378.72L170.08,376.58L170.37,380.38L170.69,388.5L170.87,381.22L171.31,387.99L171.37,387.84L171.87,387.04L171.92,387.12L172.37,391.61L172.54,389.65L172.87,390.94L173.15,393.27L173.37,392.5L173.77,393.55L173.87,393.53L174.37,397.25L174.38,397.02L174.87,399.97L175,401.44L175.37,401.79L175.62,402.22L175.62,402.22Z"/><path class="hg" d="M176.85,402.22L176.85,402.22L176.85,402.22L177.34,395.71L177.35,396.08L177.83,399.94L177.85,399.86L178.32,402.22L178.32,402.22Z"/><path class="hg" d="M181.15,402.22L181.15,402.22L181.15,402.22L181.65,399.28L181.77,399.17L182.15,398.85L182.65,398.33L183,398.55L183.15,398.51L183.65,398.3L184.15,397.75L184.23,397.68L184.65,397.6L185.15,397.3L185.46,396.9L185.65,396.78L186.15,396.72L186.65,395.93L186.69,395.86L187.15,394.55L187.65,393.45L187.68,393.48L188.15,391.69L188.54,390.54L188.65,390.61L189.15,392.57L189.4,393.26L189.65,393.12L190.14,392.17L190.15,392.25L190.65,391.16L191,390.04L191.15,391.07L191.62,393.26L191.65,393.63L192.15,394.03L192.6,394.96L192.65,394.56L193.15,393.09L193.46,391.97L193.65,393.24L194.08,395.92L194.15,395.87L194.65,396.97L195.06,397.68L195.15,397.71L195.65,398.24L195.92,398.48L196.15,398.43L196.65,398.72L196.78,398.6L197.15,399.28L197.52,400.16L197.65,400.91L198.02,402.22L198.02,402.22Z"/><path class="ho" d="M159.37,402.22L159.37,402.22L159.37,402.22L159.86,397.26L159.87,397.35L160.37,395.99L160.85,394.79L160.87,394.87L161.37,392.75L161.83,391.62L161.87,391.35L162.37,388.8L162.69,387.17L162.87,387.45L163.31,384.91L163.37,384.29L163.87,382.9L163.92,383.35L164.37,381.74L164.54,381.64L164.87,379.91L165.15,379.85L165.37,377.22L165.77,377.52L165.87,375.65L166.37,374.03L166.38,372.29L166.87,369.46L167,368.65L167.37,369.81L167.62,369.02L167.87,371.15L168.23,373.61L168.37,373.06L168.85,370.03L168.87,370.42L169.37,368.65L169.46,367.26L169.87,370.15L170.08,369.76L170.37,372.47L170.69,376.79L170.87,377.55L171.31,382.55L171.37,382.4L171.87,386.39L171.92,386.87L172.37,388.75L172.54,389.7L172.87,391.68L173.15,393.44L173.37,395.44L173.77,397.19L173.87,397.98L174.37,402.1L174.38,402.22"/><path d="M158.84,361.4H208.94V402.22" fill="none" stroke="#222" stroke-width="0.9"/><path d="M158.84,361V402.22" fill="none" stroke="#000" stroke-width="1.1"/><path d="M158.34,402.22H209.44" fill="none" stroke="#000" stroke-width="1.7"/><path d="M157.14,402.22H158.84M157.64,400.18H158.84M157.64,398.14H158.84M157.64,396.1H158.84M157.64,394.06H158.84M157.14,392.01H158.84M157.64,389.97H158.84M157.64,387.93H158.84M157.64,385.89H158.84M157.64,383.85H158.84M157.14,381.81H158.84M157.64,379.77H158.84M157.64,377.73H158.84M157.64,375.69H158.84M157.64,373.65H158.84M157.14,371.61H158.84M157.64,369.56H158.84M157.64,367.52H158.84M157.64,365.48H158.84M157.64,363.44H158.84M157.14,361.4H158.84M158.84,402.22V403.82M162.61,402.22V403.12M164.82,402.22V403.12M166.38,402.22V403.12M167.59,402.22V403.12M168.59,402.22V403.12M169.42,402.22V403.12M170.15,402.22V403.12M170.79,402.22V403.12M171.36,402.22V403.82M175.14,402.22V403.12M177.34,402.22V403.12M178.91,402.22V403.12M180.12,402.22V403.12M181.11,402.22V403.12M181.95,402.22V403.12M182.68,402.22V403.12M183.32,402.22V403.12M183.89,402.22V403.82M187.66,402.22V403.12M189.87,402.22V403.12M191.43,402.22V403.12M192.64,402.22V403.12M193.64,402.22V403.12M194.47,402.22V403.12M195.2,402.22V403.12M195.84,402.22V403.12M196.41,402.22V403.82M200.19,402.22V403.12M202.39,402.22V403.12M203.96,402.22V403.12M205.17,402.22V403.12M206.16,402.22V403.12M207,402.22V403.12M207.73,402.22V403.12M208.37,402.22V403.12M208.94,402.22V403.82" stroke="#111" stroke-width="0.6" fill="none"/><text class="tk" transform="translate(154.44,400.77) rotate(-90)" text-anchor="middle" font-size="4.8">0</text><text class="tk" transform="translate(154.44,391.2) rotate(-90)" text-anchor="middle" font-size="4.8">5</text><text class="tk" transform="translate(154.44,381.63) rotate(-90)" text-anchor="middle" font-size="4.8">10</text><text class="tk" transform="translate(154.44,372.07) rotate(-90)" text-anchor="middle" font-size="4.8">15</text><text class="tk" transform="translate(154.44,362.5) rotate(-90)" text-anchor="middle" font-size="4.8">20</text><text class="tk" transform="translate(149.24,382.71) rotate(-90)" font-size="5" textLength="14.8" lengthAdjust="spacingAndGlyphs" x="-7.4">Counts</text><text class="tk" x="158.24" y="409.72" text-anchor="middle" font-size="5.3">10</text><text class="sp" x="160.74" y="406.92">0</text><text class="tk" x="170.48" y="409.72" text-anchor="middle" font-size="5.3">10</text><text class="sp" x="172.98" y="406.92">1</text><text class="tk" x="182.73" y="409.72" text-anchor="middle" font-size="5.3">10</text><text class="sp" x="185.23" y="406.92">2</text><text class="tk" x="194.97" y="409.72" text-anchor="middle" font-size="5.3">10</text><text class="sp" x="197.47" y="406.92">3</text><text class="tk" x="207.22" y="409.72" text-anchor="middle" font-size="5.3">10</text><text class="sp" x="209.72" y="406.92">4</text><text class="tk" x="177.44" y="414.52" font-size="4.6" textLength="12.8" lengthAdjust="spacingAndGlyphs">FL2-H</text>
<path class="hg" d="M235.37,402.14L235.37,402.14L235.37,402.14L235.62,397.17L235.87,399.02L236.37,398.66L236.6,399.43L236.87,398.01L237.37,395.15L237.46,394.74L237.87,394.32L238.32,392.83L238.37,393.19L238.87,391.72L239.06,391.6L239.37,391.3L239.87,389.43L239.92,389.53L240.37,389.08L240.54,387.08L240.87,384.64L241.15,384.7L241.37,383.8L241.77,383.79L241.87,379.17L242.37,380.1L242.38,375.72L242.87,376.35L243,377.65L243.37,374.99L243.62,376.99L243.87,373.37L244.23,377.49L244.37,372.25L244.85,373.55L244.87,372.43L245.37,379.15L245.46,372.12L245.87,368.65L246.08,365.89L246.37,373.74L246.45,376.23L246.87,376.36L246.94,378.09L247.31,380.94L247.37,381.97L247.87,386.47L247.92,387.14L248.37,388.61L248.54,391.72L248.87,393.82L249.15,393.74L249.37,394.51L249.77,398.01L249.87,397.65L250.37,398.93L250.38,399.29L250.87,400.05L251,400.27L251.37,401.56L251.62,402.14L251.62,402.14Z"/><path class="ho" d="M238.08,402.14L238.08,402.14L238.08,402.14L238.58,397.03L238.69,395.97L239.08,394.68L239.58,392.72L239.92,390.86L240.08,391.05L240.58,389.32L241.08,386.68L241.15,386.55L241.58,385.56L242.08,383.27L242.38,380.83L242.58,380.7L243.08,379.34L243.58,377.84L243.62,379.83L244.08,377.4L244.58,376.04L244.85,377L245.08,375.93L245.58,375.74L245.71,378L246.08,377.16L246.58,377.5L246.69,376.77"/><path d="M234.85,361.3H285V402.14" fill="none" stroke="#222" stroke-width="0.9"/><path d="M234.85,360.9V402.14" fill="none" stroke="#000" stroke-width="1.1"/><path d="M234.35,402.14H285.5" fill="none" stroke="#000" stroke-width="1.7"/><path d="M233.15,402.14H234.85M233.65,400.1H234.85M233.65,398.06H234.85M233.65,396.01H234.85M233.65,393.97H234.85M233.15,391.93H234.85M233.65,389.89H234.85M233.65,387.85H234.85M233.65,385.8H234.85M233.65,383.76H234.85M233.15,381.72H234.85M233.65,379.68H234.85M233.65,377.64H234.85M233.65,375.59H234.85M233.65,373.55H234.85M233.15,371.51H234.85M233.65,369.47H234.85M233.65,367.43H234.85M233.65,365.38H234.85M233.65,363.34H234.85M233.15,361.3H234.85M234.85,402.14V403.74M238.62,402.14V403.04M240.83,402.14V403.04M242.39,402.14V403.04M243.61,402.14V403.04M244.6,402.14V403.04M245.44,402.14V403.04M246.17,402.14V403.04M246.81,402.14V403.04M247.38,402.14V403.74M251.16,402.14V403.04M253.36,402.14V403.04M254.93,402.14V403.04M256.15,402.14V403.04M257.14,402.14V403.04M257.98,402.14V403.04M258.71,402.14V403.04M259.35,402.14V403.04M259.92,402.14V403.74M263.69,402.14V403.04M265.9,402.14V403.04M267.47,402.14V403.04M268.68,402.14V403.04M269.68,402.14V403.04M270.52,402.14V403.04M271.24,402.14V403.04M271.88,402.14V403.04M272.46,402.14V403.74M276.23,402.14V403.04M278.44,402.14V403.04M280.01,402.14V403.04M281.22,402.14V403.04M282.21,402.14V403.04M283.05,402.14V403.04M283.78,402.14V403.04M284.42,402.14V403.04M285,402.14V403.74" stroke="#111" stroke-width="0.6" fill="none"/><text class="tk" transform="translate(230.45,400.69) rotate(-90)" text-anchor="middle" font-size="4.8">0</text><text class="tk" transform="translate(230.45,391.12) rotate(-90)" text-anchor="middle" font-size="4.8">5</text><text class="tk" transform="translate(230.45,381.55) rotate(-90)" text-anchor="middle" font-size="4.8">10</text><text class="tk" transform="translate(230.45,371.97) rotate(-90)" text-anchor="middle" font-size="4.8">15</text><text class="tk" transform="translate(230.45,362.4) rotate(-90)" text-anchor="middle" font-size="4.8">20</text><text class="tk" transform="translate(225.25,382.62) rotate(-90)" font-size="5" textLength="14.8" lengthAdjust="spacingAndGlyphs" x="-7.4">Counts</text><text class="tk" x="234.25" y="409.64" text-anchor="middle" font-size="5.3">10</text><text class="sp" x="236.75" y="406.84">0</text><text class="tk" x="246.5" y="409.64" text-anchor="middle" font-size="5.3">10</text><text class="sp" x="249" y="406.84">1</text><text class="tk" x="258.76" y="409.64" text-anchor="middle" font-size="5.3">10</text><text class="sp" x="261.26" y="406.84">2</text><text class="tk" x="271.02" y="409.64" text-anchor="middle" font-size="5.3">10</text><text class="sp" x="273.52" y="406.84">3</text><text class="tk" x="283.28" y="409.64" text-anchor="middle" font-size="5.3">10</text><text class="sp" x="285.78" y="406.84">4</text><text class="tk" x="253.45" y="414.44" font-size="4.6" textLength="12.8" lengthAdjust="spacingAndGlyphs">FL2-H</text>
<path class="hk" d="M312.23,402.06L312.23,402.06L312.23,402.06L312.73,400.96L312.85,401.1L313.23,400.64L313.73,400.09L314.08,400.07L314.23,399.92L314.73,398.54L315.23,398.58L315.31,397.87L315.73,396.69L315.92,397.32L316.23,395.17L316.54,395.92L316.73,394.56L317.23,393.07L317.52,391.94L317.73,391.53L318.23,390.97L318.38,392.29L318.73,388.79L319,389.98L319.23,388.74L319.62,385.19L319.73,385.79L320.23,382.25L320.23,384.08L320.73,380.21L320.85,379.6L321.23,378.54L321.46,380.29L321.73,383.88L322.08,377.64L322.23,379.88L322.69,380.15L322.73,375.53L323.23,376L323.31,375.94L323.73,377.34L323.92,382.84L324.23,374.33L324.54,380.66L324.73,377.09L325.15,379.42L325.23,375.24L325.73,382.29L325.77,381.36L326.23,381.46L326.38,382.83L326.73,384.78L327,385.12L327.23,385.65L327.62,390.78L327.73,388.4L328.23,392.64L328.23,393.37L328.73,392.94L328.85,394.87L329.23,394.7L329.46,395.48L329.73,397.46L330.23,396.16L330.32,396.16L330.73,397.51L331.23,397.01L331.31,397.04L331.73,398.38L332.23,397.16L332.29,396.75L332.73,397.87L332.91,399.83L333.23,399.1L333.52,399.64L333.73,400.15L334.23,400.56L334.38,400.78L334.73,401.39L335.23,402.04L335.25,402.06L335.25,402.06Z"/><path class="hk" d="M336.23,402.06L336.23,402.06L336.23,402.06L336.6,400.26L336.73,400.87L337.23,401.26L337.46,401.43L337.73,401.29L338.23,401.2L338.69,400.73L338.73,401.2L339.23,400.75L339.73,400.48L339.92,400.41L340.23,400.93L340.73,400.95L341.15,401.43L341.23,401.5L341.73,402.02L341.77,402.06L341.77,402.06Z"/><path class="ho" d="M311,402.06L311,402.06L311,402.06L311.37,388.11L311.5,388.58L312,390.55L312.23,390.95L312.5,390.25L313,389.41L313.09,388.38L313.5,388.93L314,386.71L314.08,386L314.5,385.01L315,383.31L315.06,385.17L315.5,381.11L315.92,379.76L316,382.01L316.5,378.57L316.78,377.95L317,376.08L317.5,374.66L317.52,375.65L318,374.73L318.38,372.69L318.5,371.16L319,369.4L319,371.91L319.5,371.49L319.62,371.94L320,369.74L320.23,371.25L320.5,367.3L320.85,366.97L321,368.44L321.46,368.85L321.5,366.49L322,368.25L322.08,368.94L322.5,371.64L322.69,376.55L323,373.42L323.31,374.29L323.5,372.17L323.92,370.41L324,370.15L324.5,370.47L324.54,369.37L325,371.62L325.15,371.88L325.5,378.33L325.77,376.68"/><path d="M310.47,361.2H360.62V402.06" fill="none" stroke="#222" stroke-width="0.9"/><path d="M310.47,360.8V402.06" fill="none" stroke="#000" stroke-width="1.1"/><path d="M309.97,402.06H361.12" fill="none" stroke="#000" stroke-width="1.7"/><path d="M308.77,402.06H310.47M309.27,400.02H310.47M309.27,397.97H310.47M309.27,395.93H310.47M309.27,393.89H310.47M308.77,391.85H310.47M309.27,389.8H310.47M309.27,387.76H310.47M309.27,385.72H310.47M309.27,383.67H310.47M308.77,381.63H310.47M309.27,379.59H310.47M309.27,377.54H310.47M309.27,375.5H310.47M309.27,373.46H310.47M308.77,371.41H310.47M309.27,369.37H310.47M309.27,367.33H310.47M309.27,365.29H310.47M309.27,363.24H310.47M308.77,361.2H310.47M310.47,402.06V403.66M314.24,402.06V402.96M316.45,402.06V402.96M318.02,402.06V402.96M319.23,402.06V402.96M320.23,402.06V402.96M321.07,402.06V402.96M321.79,402.06V402.96M322.43,402.06V402.96M323.01,402.06V403.66M326.78,402.06V402.96M328.99,402.06V402.96M330.56,402.06V402.96M331.77,402.06V402.96M332.76,402.06V402.96M333.6,402.06V402.96M334.33,402.06V402.96M334.97,402.06V402.96M335.55,402.06V403.66M339.32,402.06V402.96M341.53,402.06V402.96M343.09,402.06V402.96M344.31,402.06V402.96M345.3,402.06V402.96M346.14,402.06V402.96M346.87,402.06V402.96M347.51,402.06V402.96M348.08,402.06V403.66M351.86,402.06V402.96M354.06,402.06V402.96M355.63,402.06V402.96M356.85,402.06V402.96M357.84,402.06V402.96M358.68,402.06V402.96M359.41,402.06V402.96M360.05,402.06V402.96M360.62,402.06V403.66" stroke="#111" stroke-width="0.6" fill="none"/><text class="tk" transform="translate(306.07,400.61) rotate(-90)" text-anchor="middle" font-size="4.8">0</text><text class="tk" transform="translate(306.07,391.03) rotate(-90)" text-anchor="middle" font-size="4.8">5</text><text class="tk" transform="translate(306.07,381.46) rotate(-90)" text-anchor="middle" font-size="4.8">10</text><text class="tk" transform="translate(306.07,371.88) rotate(-90)" text-anchor="middle" font-size="4.8">15</text><text class="tk" transform="translate(306.07,362.3) rotate(-90)" text-anchor="middle" font-size="4.8">20</text><text class="tk" transform="translate(300.87,382.53) rotate(-90)" font-size="5" textLength="14.8" lengthAdjust="spacingAndGlyphs" x="-7.4">Counts</text><text class="tk" x="309.87" y="409.56" text-anchor="middle" font-size="5.3">10</text><text class="sp" x="312.37" y="406.76">0</text><text class="tk" x="322.13" y="409.56" text-anchor="middle" font-size="5.3">10</text><text class="sp" x="324.63" y="406.76">1</text><text class="tk" x="334.39" y="409.56" text-anchor="middle" font-size="5.3">10</text><text class="sp" x="336.89" y="406.76">2</text><text class="tk" x="346.64" y="409.56" text-anchor="middle" font-size="5.3">10</text><text class="sp" x="349.14" y="406.76">3</text><text class="tk" x="358.9" y="409.56" text-anchor="middle" font-size="5.3">10</text><text class="sp" x="361.4" y="406.76">4</text><text class="tk" x="329.07" y="414.36" font-size="4.6" textLength="12.8" lengthAdjust="spacingAndGlyphs">FL2-H</text>
<path class="hg" d="M388.46,401.98L388.46,401.98L388.46,401.98L388.96,400.43L389.08,400.17L389.46,399.77L389.96,399.26L390.31,398.87L390.46,398.81L390.96,398.11L391.46,398.02L391.54,397.76L391.96,397.07L392.46,395.64L392.77,396.26L392.96,396.53L393.46,394.4L393.75,395.14L393.96,393.99L394.46,394.97L394.62,393.81L394.96,393.4L395.46,395.25L395.48,394.32L395.96,395.77L396.22,396.5L396.46,394.47L396.96,393.48L397.08,394.06L397.46,392.24L397.69,392.82L397.96,391.42L398.31,391.87L398.46,392.98L398.92,394.32L398.96,395.51L399.46,396.35L399.54,395.28L399.96,396.73L400.15,396.67L400.46,397.18L400.77,397.29L400.96,397.58L401.38,396.2L401.46,395.81L401.96,394.42L402,394.18L402.46,395.01L402.62,395.15L402.96,394.97L403.23,392.57L403.46,394.31L403.85,397.85L403.96,395.2L404.46,393.71L404.46,395.04L404.96,393.67L405.08,394.87L405.46,395.05L405.69,395.18L405.96,395.88L406.31,394.99L406.46,394.74L406.96,395.09L407.46,395.55L407.54,396.48L407.96,396.21L408.46,394.33L408.77,394.19L408.96,394.04L409.46,394.22L409.96,395.02L410,394.57L410.46,394.94L410.96,391.26L410.98,392.86L411.46,391.49L411.85,389.56L411.96,388.4L412.46,386.41L412.46,387.32L412.96,386.25L413.08,382.89L413.46,383.17L413.69,386.06L413.96,384.78L414.31,382.42L414.46,380.85L414.92,383.73L414.96,377.51L415.29,375.82L415.46,378.02L415.78,382.37L415.96,382.69L416.4,387.5L416.46,385.4L416.96,390.51L417.14,390.13L417.46,391.97L417.96,393.25L418,392.31L418.46,393.37L418.86,392.91L418.96,393.34L419.46,393.81L419.6,395.17L419.96,395.31L420.46,398.2L420.46,398.11L420.96,398.5L421.08,398.92L421.46,400.74L421.69,401.98L421.69,401.98Z"/><path class="ho" d="M386.86,401.98L386.86,401.98L386.86,401.98L387.23,395.07L387.36,396.23L387.85,399.08L387.86,399.37L388.36,399.88L388.83,400L388.86,399.9L389.36,398.26L389.69,396.85L389.86,395.21L390.31,391.35L390.36,392.03L390.86,389.88L391.29,390.78L391.36,389.5L391.86,385.5L392.15,384.24L392.36,383.84L392.77,380.89L392.86,380.12L393.36,377.9L393.38,378.07L393.86,375.76L394,374.73L394.36,375.36L394.62,374.38L394.86,375.91L395.23,377.35L395.36,376.71L395.85,377.11L395.86,376.37L396.36,374.85L396.46,376.39L396.86,373.91L397.08,372.35L397.36,372.91L397.69,373.99L397.86,374.93L398.31,378.58L398.36,378.37L398.86,383.18L398.92,383.84L399.36,388.38L399.54,389.11L399.86,391.44L400.15,392.69L400.36,393.8L400.77,394.97L400.86,395.28L401.36,397.05L401.38,396.87"/><path d="M386.54,361.1H437.24V401.98" fill="none" stroke="#222" stroke-width="0.9"/><path d="M386.54,360.7V401.98" fill="none" stroke="#000" stroke-width="1.1"/><path d="M386.04,401.98H437.74" fill="none" stroke="#000" stroke-width="1.7"/><path d="M384.84,401.98H386.54M385.34,399.94H386.54M385.34,397.89H386.54M385.34,395.85H386.54M385.34,393.8H386.54M384.84,391.76H386.54M385.34,389.72H386.54M385.34,387.67H386.54M385.34,385.63H386.54M385.34,383.58H386.54M384.84,381.54H386.54M385.34,379.5H386.54M385.34,377.45H386.54M385.34,375.41H386.54M385.34,373.36H386.54M384.84,371.32H386.54M385.34,369.28H386.54M385.34,367.23H386.54M385.34,365.19H386.54M385.34,363.14H386.54M384.84,361.1H386.54M386.54,401.98V403.58M390.35,401.98V402.88M392.58,401.98V402.88M394.17,401.98V402.88M395.4,401.98V402.88M396.4,401.98V402.88M397.25,401.98V402.88M397.98,401.98V402.88M398.63,401.98V402.88M399.21,401.98V403.58M403.03,401.98V402.88M405.26,401.98V402.88M406.84,401.98V402.88M408.07,401.98V402.88M409.08,401.98V402.88M409.92,401.98V402.88M410.66,401.98V402.88M411.31,401.98V402.88M411.89,401.98V403.58M415.7,401.98V402.88M417.93,401.98V402.88M419.52,401.98V402.88M420.75,401.98V402.88M421.75,401.98V402.88M422.6,401.98V402.88M423.33,401.98V402.88M423.98,401.98V402.88M424.56,401.98V403.58M428.38,401.98V402.88M430.61,401.98V402.88M432.19,401.98V402.88M433.42,401.98V402.88M434.43,401.98V402.88M435.27,401.98V402.88M436.01,401.98V402.88M436.66,401.98V402.88M437.24,401.98V403.58" stroke="#111" stroke-width="0.6" fill="none"/><text class="tk" transform="translate(382.14,400.53) rotate(-90)" text-anchor="middle" font-size="4.8">0</text><text class="tk" transform="translate(382.14,390.95) rotate(-90)" text-anchor="middle" font-size="4.8">5</text><text class="tk" transform="translate(382.14,381.37) rotate(-90)" text-anchor="middle" font-size="4.8">10</text><text class="tk" transform="translate(382.14,371.78) rotate(-90)" text-anchor="middle" font-size="4.8">15</text><text class="tk" transform="translate(382.14,362.2) rotate(-90)" text-anchor="middle" font-size="4.8">20</text><text class="tk" transform="translate(376.94,382.44) rotate(-90)" font-size="5" textLength="14.8" lengthAdjust="spacingAndGlyphs" x="-7.4">Counts</text><text class="tk" x="385.94" y="409.48" text-anchor="middle" font-size="5.3">10</text><text class="sp" x="388.44" y="406.68">0</text><text class="tk" x="398.33" y="409.48" text-anchor="middle" font-size="5.3">10</text><text class="sp" x="400.83" y="406.68">1</text><text class="tk" x="410.73" y="409.48" text-anchor="middle" font-size="5.3">10</text><text class="sp" x="413.23" y="406.68">2</text><text class="tk" x="423.12" y="409.48" text-anchor="middle" font-size="5.3">10</text><text class="sp" x="425.62" y="406.68">3</text><text class="tk" x="435.52" y="409.48" text-anchor="middle" font-size="5.3">10</text><text class="sp" x="438.02" y="406.68">4</text><text class="tk" x="405.14" y="414.28" font-size="4.6" textLength="12.8" lengthAdjust="spacingAndGlyphs">FL2-H</text>
<path class="hg" d="M464.37,401.9L464.37,401.9L464.37,401.9L464.86,398.01L464.87,397.59L465.37,398.77L465.85,399.35L465.87,399.41L466.37,398.82L466.83,396.85L466.87,396.38L467.37,395.01L467.69,392.71L467.87,392.95L468.31,390.49L468.37,390.99L468.87,387.46L468.92,389.04L469.37,386.59L469.54,386.03L469.87,387.37L470.15,386.83L470.37,380.2L470.77,380.11L470.87,380.9L471.37,374.27L471.38,380.53L471.87,378.87L472,377.87L472.37,381.01L472.62,381.57L472.87,381.83L473.23,382.92L473.37,381.46L473.85,380.09L473.87,378.73L474.37,376.15L474.46,373.53L474.87,378.94L475.08,373.36L475.37,382.69L475.69,375.8L475.87,377.04L476.31,381.71L476.37,381.54L476.87,388.5L476.92,389.71L477.37,391.2L477.54,391.86L477.87,392.86L478.15,395.16L478.37,395.18L478.77,397.7L478.87,395.67L479.37,393.98L479.38,394.08L479.87,395.14L480,395.01L480.37,396.12L480.62,397.32L480.87,395.87L481.23,395.07L481.37,395.86L481.85,394.58L481.87,394.1L482.37,393.06L482.46,392.34L482.87,392.59L483.08,391.84L483.37,393.58L483.69,391.01L483.87,391.39L484.31,393.57L484.37,392.58L484.87,394.37L484.92,394.64L485.37,395.87L485.54,395.39L485.87,396.01L486.15,395.53L486.37,396.3L486.77,396.57L486.87,396.89L487.37,397.87L487.38,396.99L487.87,397.25L488.25,397.48L488.37,400.27L488.87,399.19L489.23,398.71L489.37,398.84L489.87,399.06L490.22,398.95L490.37,398.98L490.87,398.96L491.08,399.01L491.37,399.32L491.69,399.4L491.87,400.01L492.37,400.04L492.68,400.31L492.87,400.61L493.37,401.05L493.54,401.31L493.87,401.56L494.37,401.88L494.4,401.9L494.4,401.9Z"/><path class="ho" d="M467.69,401.9L467.69,401.9L467.69,401.9L468.19,396.28L468.31,395.06L468.69,392.69L469.19,390.78L469.29,388.72L469.69,386.21L470.15,383.22L470.19,382.53L470.69,377.74L471.02,375.48L471.19,375.21L471.69,374.57L471.75,374.31L472.19,375.64L472.62,377.54L472.69,378.29L473.19,379.6L473.48,384.29L473.69,379.71L474.19,376.74L474.46,374.22L474.69,373.45L475.19,373.36L475.2,372.85L475.69,375.5L475.94,377.01L476.19,381.61L476.68,384.65"/><path d="M463.74,361H514.69V401.9" fill="none" stroke="#222" stroke-width="0.9"/><path d="M463.74,360.6V401.9" fill="none" stroke="#000" stroke-width="1.1"/><path d="M463.24,401.9H515.19" fill="none" stroke="#000" stroke-width="1.7"/><path d="M462.04,401.9H463.74M462.54,399.85H463.74M462.54,397.81H463.74M462.54,395.76H463.74M462.54,393.72H463.74M462.04,391.67H463.74M462.54,389.63H463.74M462.54,387.58H463.74M462.54,385.54H463.74M462.54,383.5H463.74M462.04,381.45H463.74M462.54,379.4H463.74M462.54,377.36H463.74M462.54,375.31H463.74M462.54,373.27H463.74M462.04,371.23H463.74M462.54,369.18H463.74M462.54,367.13H463.74M462.54,365.09H463.74M462.54,363.05H463.74M462.04,361H463.74M463.74,401.9V403.5M467.57,401.9V402.8M469.82,401.9V402.8M471.41,401.9V402.8M472.64,401.9V402.8M473.65,401.9V402.8M474.5,401.9V402.8M475.24,401.9V402.8M475.89,401.9V402.8M476.48,401.9V403.5M480.31,401.9V402.8M482.55,401.9V402.8M484.14,401.9V402.8M485.38,401.9V402.8M486.39,401.9V402.8M487.24,401.9V402.8M487.98,401.9V402.8M488.63,401.9V402.8M489.21,401.9V403.5M493.05,401.9V402.8M495.29,401.9V402.8M496.88,401.9V402.8M498.12,401.9V402.8M499.13,401.9V402.8M499.98,401.9V402.8M500.72,401.9V402.8M501.37,401.9V402.8M501.95,401.9V403.5M505.79,401.9V402.8M508.03,401.9V402.8M509.62,401.9V402.8M510.85,401.9V402.8M511.86,401.9V402.8M512.72,401.9V402.8M513.45,401.9V402.8M514.11,401.9V402.8M514.69,401.9V403.5" stroke="#111" stroke-width="0.6" fill="none"/><text class="tk" transform="translate(459.34,400.45) rotate(-90)" text-anchor="middle" font-size="4.8">0</text><text class="tk" transform="translate(459.34,390.86) rotate(-90)" text-anchor="middle" font-size="4.8">5</text><text class="tk" transform="translate(459.34,381.27) rotate(-90)" text-anchor="middle" font-size="4.8">10</text><text class="tk" transform="translate(459.34,371.69) rotate(-90)" text-anchor="middle" font-size="4.8">15</text><text class="tk" transform="translate(459.34,362.1) rotate(-90)" text-anchor="middle" font-size="4.8">20</text><text class="tk" transform="translate(454.14,382.35) rotate(-90)" font-size="5" textLength="14.8" lengthAdjust="spacingAndGlyphs" x="-7.4">Counts</text><text class="tk" x="463.14" y="409.4" text-anchor="middle" font-size="5.3">10</text><text class="sp" x="465.64" y="406.6">0</text><text class="tk" x="475.6" y="409.4" text-anchor="middle" font-size="5.3">10</text><text class="sp" x="478.1" y="406.6">1</text><text class="tk" x="488.05" y="409.4" text-anchor="middle" font-size="5.3">10</text><text class="sp" x="490.55" y="406.6">2</text><text class="tk" x="500.51" y="409.4" text-anchor="middle" font-size="5.3">10</text><text class="sp" x="503.01" y="406.6">3</text><text class="tk" x="512.97" y="409.4" text-anchor="middle" font-size="5.3">10</text><text class="sp" x="515.47" y="406.6">4</text><text class="tk" x="482.34" y="414.2" font-size="4.6" textLength="12.8" lengthAdjust="spacingAndGlyphs">FL2-H</text>
<path class="hg" d="M82.63,469.4L82.63,469.4L82.63,469.4L83,463.81L83.13,465.77L83.63,465.16L83.86,465.81L84.13,465.28L84.63,464.99L84.85,464.48L85.13,463.77L85.63,462.86L85.83,462.04L86.13,460.89L86.63,459.63L86.69,459.4L87.13,457.88L87.31,457.4L87.63,454.56L87.92,454.95L88.13,454.58L88.54,452.05L88.63,448.77L89.13,443.96L89.15,444.16L89.52,437.35L89.63,434.82L89.77,431.78L90.13,437.97L90.38,439.84L90.63,440.05L91,442.49L91.13,445.5L91.62,436.92L91.63,436.37L91.98,437.91L92.13,441.94L92.48,444.86L92.63,449.13L92.97,450.29L93.13,457.01L93.46,454.97L93.63,456.38L94.08,458.53L94.13,459.27L94.63,462.37L94.69,462.98L95.13,464.09L95.31,466.04L95.63,467.02L95.92,466.52L96.13,466.67L96.54,467.76L96.63,468.07L97.13,469.34L97.15,469.4L97.15,469.4Z"/><path class="ho" d="M87.31,469.4L87.31,469.4L87.31,469.4L87.81,460.15L87.92,459.93L88.31,454.43L88.54,451.87L88.81,447.82L89.15,444.63L89.31,441.3L89.77,438.07L89.81,436.12L90.31,439.42L90.51,439.38L90.81,438.77L91.25,438.19L91.31,438.11L91.81,439.98L91.98,442.03L92.31,444.75L92.81,448.89L92.85,449.75L93.31,453.91L93.46,455.26"/><path d="M82.1,428H133.06V469.4" fill="none" stroke="#222" stroke-width="0.9"/><path d="M82.1,427.6V469.4" fill="none" stroke="#000" stroke-width="1.1"/><path d="M81.6,469.4H133.56" fill="none" stroke="#000" stroke-width="1.7"/><path d="M80.4,469.4H82.1M80.9,467.33H82.1M80.9,465.26H82.1M80.9,463.19H82.1M80.9,461.12H82.1M80.4,459.05H82.1M80.9,456.98H82.1M80.9,454.91H82.1M80.9,452.84H82.1M80.9,450.77H82.1M80.4,448.7H82.1M80.9,446.63H82.1M80.9,444.56H82.1M80.9,442.49H82.1M80.9,440.42H82.1M80.4,438.35H82.1M80.9,436.28H82.1M80.9,434.21H82.1M80.9,432.14H82.1M80.9,430.07H82.1M80.4,428H82.1M82.1,469.4V471M85.94,469.4V470.3M88.18,469.4V470.3M89.77,469.4V470.3M91.01,469.4V470.3M92.01,469.4V470.3M92.87,469.4V470.3M93.61,469.4V470.3M94.26,469.4V470.3M94.84,469.4V471M98.68,469.4V470.3M100.92,469.4V470.3M102.51,469.4V470.3M103.75,469.4V470.3M104.75,469.4V470.3M105.61,469.4V470.3M106.35,469.4V470.3M107,469.4V470.3M107.58,469.4V471M111.42,469.4V470.3M113.66,469.4V470.3M115.25,469.4V470.3M116.49,469.4V470.3M117.49,469.4V470.3M118.35,469.4V470.3M119.09,469.4V470.3M119.74,469.4V470.3M120.32,469.4V471M124.16,469.4V470.3M126.4,469.4V470.3M127.99,469.4V470.3M129.23,469.4V470.3M130.23,469.4V470.3M131.09,469.4V470.3M131.83,469.4V470.3M132.48,469.4V470.3M133.06,469.4V471" stroke="#111" stroke-width="0.6" fill="none"/><text class="tk" transform="translate(77.7,467.95) rotate(-90)" text-anchor="middle" font-size="4.8">0</text><text class="tk" transform="translate(77.7,458.24) rotate(-90)" text-anchor="middle" font-size="4.8">5</text><text class="tk" transform="translate(77.7,448.52) rotate(-90)" text-anchor="middle" font-size="4.8">10</text><text class="tk" transform="translate(77.7,438.81) rotate(-90)" text-anchor="middle" font-size="4.8">15</text><text class="tk" transform="translate(77.7,429.1) rotate(-90)" text-anchor="middle" font-size="4.8">20</text><text class="tk" transform="translate(72.5,449.6) rotate(-90)" font-size="5" textLength="14.8" lengthAdjust="spacingAndGlyphs" x="-7.4">Counts</text><text class="tk" x="81.5" y="476.9" text-anchor="middle" font-size="5.3">10</text><text class="sp" x="84" y="474.1">0</text><text class="tk" x="93.96" y="476.9" text-anchor="middle" font-size="5.3">10</text><text class="sp" x="96.46" y="474.1">1</text><text class="tk" x="106.42" y="476.9" text-anchor="middle" font-size="5.3">10</text><text class="sp" x="108.92" y="474.1">2</text><text class="tk" x="118.88" y="476.9" text-anchor="middle" font-size="5.3">10</text><text class="sp" x="121.38" y="474.1">3</text><text class="tk" x="131.34" y="476.9" text-anchor="middle" font-size="5.3">10</text><text class="sp" x="133.84" y="474.1">4</text><text class="tk" x="100.7" y="481.7" font-size="4.6" textLength="12.8" lengthAdjust="spacingAndGlyphs">FL2-H</text>
<path class="hg" d="M159.62,469.33L159.62,469.33L159.62,469.33L159.86,463.99L160.12,464.94L160.62,465.56L160.85,466.06L161.12,465.27L161.62,464.36L161.83,463.39L162.12,463.02L162.62,459.97L162.69,461.67L163.12,457.64L163.31,458.17L163.62,456.39L164.12,456.46L164.29,455.18L164.62,453L165.12,449.84L165.15,450.34L165.62,446.79L165.77,445.22L166.12,445.23L166.38,443.84L166.62,443.04L167,441.39L167.12,442.28L167.62,446.35L167.62,442.89L168.12,441.13L168.23,438.09L168.62,440.75L168.85,442.08L169.12,446.47L169.46,448.22L169.62,448.05L170.08,454.57L170.12,450.49L170.62,456.08L170.69,457.13L171.12,457.54L171.31,458.58L171.62,459.35L171.92,460.78L172.12,461.6L172.54,464.59L172.62,464.13L173.12,465.83L173.15,466.02L173.62,466.88L174.12,467.15L174.14,467.07L174.62,467.41L175,468L175.12,467.56L175.62,467.05L176.12,466.77L176.23,466.78L176.62,466.65L177.12,466.94L177.46,467.02L177.62,467.03L178.12,466.83L178.62,466.5L178.69,466.59L179.12,466.81L179.62,467.48L179.92,467.24L180.12,467.5L180.62,467.16L181.12,467.35L181.15,467.31L181.62,467.45L182.12,466.71L182.38,466.55L182.62,466.54L183.12,466.02L183.62,465.8L183.62,466.92L184.12,466.16L184.62,466.31L184.85,466.46L185.12,466.79L185.62,466.43L186.08,466.1L186.12,465.76L186.62,465.45L187.12,465.21L187.31,465.7L187.62,465.4L188.12,465.2L188.54,464.95L188.62,465.09L189.12,463.83L189.4,463.97L189.62,464.25L190.12,464.23L190.14,464L190.62,463.47L191,463.97L191.12,464.31L191.62,464.82L191.86,465.37L192.12,465.61L192.62,465.88L192.85,466.25L193.12,466.78L193.62,466.19L194.08,467.27L194.12,466.15L194.62,466.13L195.12,467.08L195.31,466.47L195.62,466.73L196.12,467.23L196.54,467.03L196.62,467.71L197.12,468.33L197.52,469.33L197.52,469.33Z"/><path class="hi" d="M160.22,469.33L160.22,469.33L160.22,469.33L160.46,465.28L160.72,466.08L161.22,466.39L161.45,467.34L161.72,466.07L162.22,465.23L162.43,466.02L162.72,464.64L163.22,461.83L163.29,461.93L163.72,461.71L163.91,459.59L164.22,459.35L164.72,458.49L164.89,457.62L165.22,461.4L165.72,457.21L165.75,456.75L166.22,458.64L166.37,453.77L166.72,452.34L166.98,450.36L167.22,451.59L167.6,448.48L167.72,451.09L168.22,455.1L168.22,448.55L168.72,453.05L168.83,449L169.22,448.9L169.45,451.24L169.72,451.15L170.06,453.48L170.22,457.33L170.68,457.63L170.72,457.87L171.22,460.63L171.29,459.1L171.72,461.36L171.91,463.02L172.22,461.6L172.52,463.05L172.72,464.94L173.14,465.52L173.22,465.19L173.72,466.57L173.75,466.99L174.22,467.16L174.72,467.6L174.74,467.6L175.22,467.89L175.6,468.09L175.72,468.02L176.22,467.72L176.72,467.17L176.83,467.27L177.22,467.63L177.72,467.43L178.06,467.52L178.22,467.82L178.72,467.37L179.22,468L179.29,467.34L179.72,468.35L180.22,467.73L180.52,467.71L180.72,467.7L181.22,467.66L181.72,467.8L181.75,467.83L182.22,467.59L182.72,467.34L182.98,467.57L183.22,467.02L183.72,467.06L184.22,467.34L184.22,467.31L184.72,466.83L185.22,467.16L185.45,467.85L185.72,467.32L186.22,467.1L186.68,466.77L186.72,466.82L187.22,466.34L187.72,466.46L187.91,466.3L188.22,466.78L188.72,465.83L189.14,467.33L189.22,465.48L189.72,465.53L190,464.69L190.22,465.14L190.72,465.26L190.74,465.42L191.22,464.8L191.6,465.38L191.72,464.92L192.22,465.63L192.46,466.5L192.72,466.78L193.22,466.67L193.45,467.21L193.72,467.16L194.22,466.71L194.68,466.93L194.72,466.62L195.22,466.76L195.72,467.41L195.91,467.2L196.22,467.19L196.72,467.37L197.14,467.53L197.22,467.83L197.72,468.6L198.12,469.33"/><path d="M159.09,427.94H209.19V469.33" fill="none" stroke="#222" stroke-width="0.9"/><path d="M159.09,427.54V469.33" fill="none" stroke="#000" stroke-width="1.1"/><path d="M158.59,469.33H209.69" fill="none" stroke="#000" stroke-width="1.7"/><path d="M157.39,469.33H159.09M157.89,467.26H159.09M157.89,465.19H159.09M157.89,463.12H159.09M157.89,461.05H159.09M157.39,458.98H159.09M157.89,456.91H159.09M157.89,454.84H159.09M157.89,452.77H159.09M157.89,450.7H159.09M157.39,448.63H159.09M157.89,446.57H159.09M157.89,444.5H159.09M157.89,442.43H159.09M157.89,440.36H159.09M157.39,438.29H159.09M157.89,436.22H159.09M157.89,434.15H159.09M157.89,432.08H159.09M157.89,430.01H159.09M157.39,427.94H159.09M159.09,469.33V470.93M162.86,469.33V470.23M165.07,469.33V470.23M166.63,469.33V470.23M167.85,469.33V470.23M168.84,469.33V470.23M169.68,469.33V470.23M170.4,469.33V470.23M171.04,469.33V470.23M171.62,469.33V470.93M175.39,469.33V470.23M177.59,469.33V470.23M179.16,469.33V470.23M180.37,469.33V470.23M181.36,469.33V470.23M182.2,469.33V470.23M182.93,469.33V470.23M183.57,469.33V470.23M184.14,469.33V470.93M187.91,469.33V470.23M190.12,469.33V470.23M191.68,469.33V470.23M192.9,469.33V470.23M193.89,469.33V470.23M194.73,469.33V470.23M195.45,469.33V470.23M196.09,469.33V470.23M196.67,469.33V470.93M200.44,469.33V470.23M202.64,469.33V470.23M204.21,469.33V470.23M205.42,469.33V470.23M206.41,469.33V470.23M207.25,469.33V470.23M207.98,469.33V470.23M208.62,469.33V470.23M209.19,469.33V470.93" stroke="#111" stroke-width="0.6" fill="none"/><text class="tk" transform="translate(154.69,467.88) rotate(-90)" text-anchor="middle" font-size="4.8">0</text><text class="tk" transform="translate(154.69,458.17) rotate(-90)" text-anchor="middle" font-size="4.8">5</text><text class="tk" transform="translate(154.69,448.46) rotate(-90)" text-anchor="middle" font-size="4.8">10</text><text class="tk" transform="translate(154.69,438.75) rotate(-90)" text-anchor="middle" font-size="4.8">15</text><text class="tk" transform="translate(154.69,429.04) rotate(-90)" text-anchor="middle" font-size="4.8">20</text><text class="tk" transform="translate(149.49,449.53) rotate(-90)" font-size="5" textLength="14.8" lengthAdjust="spacingAndGlyphs" x="-7.4">Counts</text><text class="tk" x="158.49" y="476.83" text-anchor="middle" font-size="5.3">10</text><text class="sp" x="160.99" y="474.03">0</text><text class="tk" x="170.74" y="476.83" text-anchor="middle" font-size="5.3">10</text><text class="sp" x="173.24" y="474.03">1</text><text class="tk" x="182.98" y="476.83" text-anchor="middle" font-size="5.3">10</text><text class="sp" x="185.48" y="474.03">2</text><text class="tk" x="195.23" y="476.83" text-anchor="middle" font-size="5.3">10</text><text class="sp" x="197.73" y="474.03">3</text><text class="tk" x="207.47" y="476.83" text-anchor="middle" font-size="5.3">10</text><text class="sp" x="209.97" y="474.03">4</text><text class="tk" x="177.69" y="481.63" font-size="4.6" textLength="12.8" lengthAdjust="spacingAndGlyphs">FL2-H</text>
<path class="hg" d="M235.62,469.26L235.62,469.26L235.62,469.26L235.86,462.32L236.12,461.45L236.62,461.74L236.85,460.71L237.12,461.27L237.62,459.91L237.83,459.09L238.12,458.93L238.62,457.93L238.69,462.32L239.12,456.14L239.31,458.9L239.62,454.75L240.12,455.18L240.29,452.91L240.62,454.19L241.12,453.89L241.15,449.36L241.62,446.28L241.77,451.4L242.12,445.67L242.38,442.63L242.62,443.95L243,444.02L243.12,452.03L243.62,440.35L243.62,446.21L244.12,438.95L244.23,435.38L244.62,438.49L244.85,439.03L245.12,445.48L245.46,446.66L245.62,447.88L246.08,453.81L246.12,452.56L246.62,454.37L246.69,455.5L247.12,458.13L247.31,459.59L247.62,461L247.92,463.03L248.12,464.9L248.54,466.46L248.62,466.4L249.12,467.85L249.15,468.34L249.62,468.95L249.77,469.26L249.77,469.26Z"/><path class="hg" d="M253.46,469.26L253.46,469.26L253.46,469.26L253.83,465.23L253.96,466.23L254.32,469.26L254.32,469.26Z"/><path class="hg" d="M256.78,469.26L256.78,469.26L256.78,469.26L257.15,465.66L257.28,466.75L257.52,469.26L257.52,469.26Z"/><path class="hg" d="M259.25,469.26L259.25,469.26L259.25,469.26L259.62,465.41L259.75,466.64L259.98,469.26L259.98,469.26Z"/><path class="hi" d="M236.22,469.26L236.22,469.26L236.22,469.26L236.46,463.37L236.72,463.58L237.22,462.57L237.45,463.95L237.72,462.86L238.22,463.56L238.43,463.41L238.72,462.38L239.22,461.39L239.29,461.74L239.72,460.16L239.91,458.45L240.22,461.18L240.72,459.34L240.89,458.14L241.22,455.89L241.72,453.96L241.75,456.05L242.22,452.43L242.37,452.06L242.72,452.82L242.98,452.76L243.22,453.58L243.6,449.5L243.72,448.38L244.22,450.73L244.22,450.44L244.72,442.61L244.83,442.54L245.22,451.8L245.45,447.84L245.72,449.52L246.06,454.73L246.22,454.54L246.68,458.3L246.72,457.77L247.22,460.88L247.29,460.51L247.72,460.62L247.91,463.26L248.22,463.15L248.52,464.79L248.72,465.38L249.14,468.41L249.22,468.31L249.72,468.66L249.75,468.25L250.22,469.02L250.37,469.26"/><path d="M235.12,427.88H285.27V469.26" fill="none" stroke="#222" stroke-width="0.9"/><path d="M235.12,427.48V469.26" fill="none" stroke="#000" stroke-width="1.1"/><path d="M234.62,469.26H285.77" fill="none" stroke="#000" stroke-width="1.7"/><path d="M233.42,469.26H235.12M233.92,467.19H235.12M233.92,465.12H235.12M233.92,463.05H235.12M233.92,460.98H235.12M233.42,458.91H235.12M233.92,456.85H235.12M233.92,454.78H235.12M233.92,452.71H235.12M233.92,450.64H235.12M233.42,448.57H235.12M233.92,446.5H235.12M233.92,444.43H235.12M233.92,442.36H235.12M233.92,440.29H235.12M233.42,438.23H235.12M233.92,436.16H235.12M233.92,434.09H235.12M233.92,432.02H235.12M233.92,429.95H235.12M233.42,427.88H235.12M235.12,469.26V470.86M238.89,469.26V470.16M241.1,469.26V470.16M242.67,469.26V470.16M243.88,469.26V470.16M244.87,469.26V470.16M245.71,469.26V470.16M246.44,469.26V470.16M247.08,469.26V470.16M247.66,469.26V470.86M251.43,469.26V470.16M253.64,469.26V470.16M255.2,469.26V470.16M256.42,469.26V470.16M257.41,469.26V470.16M258.25,469.26V470.16M258.98,469.26V470.16M259.62,469.26V470.16M260.19,469.26V470.86M263.97,469.26V470.16M266.17,469.26V470.16M267.74,469.26V470.16M268.96,469.26V470.16M269.95,469.26V470.16M270.79,469.26V470.16M271.52,469.26V470.16M272.16,469.26V470.16M272.73,469.26V470.86M276.5,469.26V470.16M278.71,469.26V470.16M280.28,469.26V470.16M281.49,469.26V470.16M282.49,469.26V470.16M283.33,469.26V470.16M284.05,469.26V470.16M284.69,469.26V470.16M285.27,469.26V470.86" stroke="#111" stroke-width="0.6" fill="none"/><text class="tk" transform="translate(230.72,467.81) rotate(-90)" text-anchor="middle" font-size="4.8">0</text><text class="tk" transform="translate(230.72,458.1) rotate(-90)" text-anchor="middle" font-size="4.8">5</text><text class="tk" transform="translate(230.72,448.39) rotate(-90)" text-anchor="middle" font-size="4.8">10</text><text class="tk" transform="translate(230.72,438.69) rotate(-90)" text-anchor="middle" font-size="4.8">15</text><text class="tk" transform="translate(230.72,428.98) rotate(-90)" text-anchor="middle" font-size="4.8">20</text><text class="tk" transform="translate(225.52,449.47) rotate(-90)" font-size="5" textLength="14.8" lengthAdjust="spacingAndGlyphs" x="-7.4">Counts</text><text class="tk" x="234.52" y="476.76" text-anchor="middle" font-size="5.3">10</text><text class="sp" x="237.02" y="473.96">0</text><text class="tk" x="246.78" y="476.76" text-anchor="middle" font-size="5.3">10</text><text class="sp" x="249.28" y="473.96">1</text><text class="tk" x="259.03" y="476.76" text-anchor="middle" font-size="5.3">10</text><text class="sp" x="261.53" y="473.96">2</text><text class="tk" x="271.29" y="476.76" text-anchor="middle" font-size="5.3">10</text><text class="sp" x="273.79" y="473.96">3</text><text class="tk" x="283.55" y="476.76" text-anchor="middle" font-size="5.3">10</text><text class="sp" x="286.05" y="473.96">4</text><text class="tk" x="253.72" y="481.56" font-size="4.6" textLength="12.8" lengthAdjust="spacingAndGlyphs">FL2-H</text>
<path class="hk" d="M314.69,469.19L314.69,469.19L314.69,469.19L315.19,467.72L315.31,467.41L315.69,466.91L316.19,466.55L316.54,466.01L316.69,466.02L317.19,465.67L317.69,465.64L317.77,465.98L318.19,464.77L318.69,464.16L319,463.64L319.19,463.37L319.69,461.56L319.98,461.04L320.19,461.86L320.69,458.78L320.85,458.63L321.19,457.06L321.46,455.65L321.69,454.74L322.08,451.83L322.19,450.77L322.69,447.52L322.69,443.54L323.19,440.21L323.31,443.67L323.68,440.34L323.69,442.2L324.17,436.95L324.19,436.01L324.66,440.12L324.69,442.67L325.15,450.94L325.19,446.24L325.69,450.79L325.77,454.68L326.19,453.05L326.38,455.31L326.69,456.21L327,459.17L327.19,458.47L327.62,461.66L327.69,460.83L328.19,463.72L328.23,463.43L328.69,465.9L328.85,466.55L329.19,466.81L329.46,467.88L329.69,468.2L330.08,469.19L330.08,469.19Z"/><path class="hk" d="M333.77,469.19L333.77,469.19L333.77,469.19L334.26,465.14L334.27,465.32L334.75,469.19L334.75,469.19Z"/><path class="hk" d="M338.08,469.19L338.08,469.19L338.08,469.19L338.45,465.97L338.58,465.7L339.08,466.79L339.31,467.34L339.58,466.74L340.08,465.19L340.17,465.03L340.58,466.03L340.91,467.49L341.08,467.07L341.58,465.78L341.77,465.83L342.08,467.54L342.38,469.19L342.38,469.19Z"/><path class="ho" d="M311,469.19L311,469.19L311,469.19L311.37,461.6L311.5,461.35L312,460.84L312.23,460.49L312.5,460.02L313,459.62L313.09,459.42L313.5,458.28L314,457.38L314.08,457.08L314.5,454.73L314.69,454.17L315,452.99L315.31,454.08L315.5,450.91L315.92,450.56L316,449.45L316.5,448.67L316.54,449.02L317,444.54L317.15,444.06L317.5,442.56L317.77,443.82L318,442.41L318.38,443.12L318.5,440.83L319,439.97L319,439.13L319.5,437.78L319.62,437.18L320,434.09L320.23,432.73L320.5,437.79L320.85,439.55L321,438.83L321.46,442.05L321.5,441.54L322,446.57L322.08,444.46L322.5,441.12L322.69,438.7L323,439.42L323.31,434.5"/><path d="M310.51,427.82H360.66V469.19" fill="none" stroke="#222" stroke-width="0.9"/><path d="M310.51,427.42V469.19" fill="none" stroke="#000" stroke-width="1.1"/><path d="M310.01,469.19H361.16" fill="none" stroke="#000" stroke-width="1.7"/><path d="M308.81,469.19H310.51M309.31,467.12H310.51M309.31,465.05H310.51M309.31,462.98H310.51M309.31,460.92H310.51M308.81,458.85H310.51M309.31,456.78H310.51M309.31,454.71H310.51M309.31,452.64H310.51M309.31,450.57H310.51M308.81,448.5H310.51M309.31,446.44H310.51M309.31,444.37H310.51M309.31,442.3H310.51M309.31,440.23H310.51M308.81,438.16H310.51M309.31,436.09H310.51M309.31,434.03H310.51M309.31,431.96H310.51M309.31,429.89H310.51M308.81,427.82H310.51M310.51,469.19V470.79M314.29,469.19V470.09M316.49,469.19V470.09M318.06,469.19V470.09M319.28,469.19V470.09M320.27,469.19V470.09M321.11,469.19V470.09M321.84,469.19V470.09M322.48,469.19V470.09M323.05,469.19V470.79M326.82,469.19V470.09M329.03,469.19V470.09M330.6,469.19V470.09M331.81,469.19V470.09M332.81,469.19V470.09M333.65,469.19V470.09M334.37,469.19V470.09M335.01,469.19V470.09M335.59,469.19V470.79M339.36,469.19V470.09M341.57,469.19V470.09M343.14,469.19V470.09M344.35,469.19V470.09M345.34,469.19V470.09M346.18,469.19V470.09M346.91,469.19V470.09M347.55,469.19V470.09M348.13,469.19V470.79M351.9,469.19V470.09M354.11,469.19V470.09M355.67,469.19V470.09M356.89,469.19V470.09M357.88,469.19V470.09M358.72,469.19V470.09M359.45,469.19V470.09M360.09,469.19V470.09M360.66,469.19V470.79" stroke="#111" stroke-width="0.6" fill="none"/><text class="tk" transform="translate(306.11,467.74) rotate(-90)" text-anchor="middle" font-size="4.8">0</text><text class="tk" transform="translate(306.11,458.04) rotate(-90)" text-anchor="middle" font-size="4.8">5</text><text class="tk" transform="translate(306.11,448.33) rotate(-90)" text-anchor="middle" font-size="4.8">10</text><text class="tk" transform="translate(306.11,438.63) rotate(-90)" text-anchor="middle" font-size="4.8">15</text><text class="tk" transform="translate(306.11,428.92) rotate(-90)" text-anchor="middle" font-size="4.8">20</text><text class="tk" transform="translate(300.91,449.4) rotate(-90)" font-size="5" textLength="14.8" lengthAdjust="spacingAndGlyphs" x="-7.4">Counts</text><text class="tk" x="309.91" y="476.69" text-anchor="middle" font-size="5.3">10</text><text class="sp" x="312.41" y="473.89">0</text><text class="tk" x="322.17" y="476.69" text-anchor="middle" font-size="5.3">10</text><text class="sp" x="324.67" y="473.89">1</text><text class="tk" x="334.43" y="476.69" text-anchor="middle" font-size="5.3">10</text><text class="sp" x="336.93" y="473.89">2</text><text class="tk" x="346.69" y="476.69" text-anchor="middle" font-size="5.3">10</text><text class="sp" x="349.19" y="473.89">3</text><text class="tk" x="358.94" y="476.69" text-anchor="middle" font-size="5.3">10</text><text class="sp" x="361.44" y="473.89">4</text><text class="tk" x="329.11" y="481.49" font-size="4.6" textLength="12.8" lengthAdjust="spacingAndGlyphs">FL2-H</text>
<path class="hg" d="M406.08,469.12L406.08,469.12L406.08,469.12L406.58,466.87L406.69,466.42L407.08,465.73L407.55,464.97L407.58,466.24L408.08,464.8L408.29,463.97L408.58,465.43L409.08,465.15L409.15,465.9L409.58,463.73L409.77,463.98L410.08,462.57L410.58,460.61L410.75,460.02L411.08,460.86L411.58,462.91L411.62,461.16L412.08,461.75L412.48,460.8L412.58,460.58L413.08,460.44L413.46,460.68L413.58,459.85L414.08,458.72L414.08,458.83L414.58,455.22L414.69,455.14L415.08,459.97L415.31,453.54L415.58,454.89L415.92,454.49L416.08,450.47L416.54,447.8L416.58,448.34L417.08,448.73L417.15,449.47L417.58,441.11L417.77,443.05L418.08,444.94L418.38,439.48L418.58,446.55L419,445.22L419.08,442.94L419.58,453.2L419.62,444.9L420.08,448.36L420.23,449.21L420.58,450.65L420.85,458.34L421.08,454.09L421.46,457.86L421.58,457.08L422.08,460.31L422.08,460.31L422.58,463.09L422.69,464.11L423.08,465.4L423.31,466.98L423.58,467.58L423.92,469.12L423.92,469.12Z"/><path class="ho" d="M387,469.12L387,469.12L387,469.12L387.37,461.37L387.5,462.19L388,463.09L388.23,463.97L388.5,463.19L389,461.47L389.09,461.41L389.5,459.57L389.83,458.62L390,456.85L390.5,454.48L390.69,453.83L391,452.2L391.31,451.17L391.5,450.77L391.92,448.81L392,448.97L392.5,446.68L392.78,446.72L393,447.91L393.5,444.63L393.52,445.13L394,444.29L394.38,440.98L394.5,440.32L395,440.65L395,438.64L395.5,436.35L395.62,437.58L396,432.53L396.23,430.75L396.5,433.65L396.85,439.17L397,439.25L397.46,445.81L397.5,445.49L398,447.82L398.08,450L398.5,452.97L398.69,454.3L399,456.04L399.31,458.42L399.5,459.35L399.92,461.24L400,461.93L400.5,465.82L400.54,465.06L401,466.48L401.15,466.94L401.5,468.44L401.77,469.12"/><path class="ho" d="M391.31,469.12L391.31,469.12L391.31,469.12L391.8,465.1L391.81,465.32L392.29,469.12"/><path class="ho" d="M394.38,469.12L394.38,469.12L394.38,469.12L394.88,465.07L394.88,465.07L395.37,469.12"/><path class="ho" d="M397.46,469.12L397.46,469.12L397.46,469.12L397.96,465.86L398.08,465L398.46,467.41L398.69,469.12"/><path d="M386.48,427.76H437.18V469.12" fill="none" stroke="#222" stroke-width="0.9"/><path d="M386.48,427.36V469.12" fill="none" stroke="#000" stroke-width="1.1"/><path d="M385.98,469.12H437.68" fill="none" stroke="#000" stroke-width="1.7"/><path d="M384.78,469.12H386.48M385.28,467.05H386.48M385.28,464.98H386.48M385.28,462.92H386.48M385.28,460.85H386.48M384.78,458.78H386.48M385.28,456.71H386.48M385.28,454.64H386.48M385.28,452.58H386.48M385.28,450.51H386.48M384.78,448.44H386.48M385.28,446.37H386.48M385.28,444.3H386.48M385.28,442.24H386.48M385.28,440.17H386.48M384.78,438.1H386.48M385.28,436.03H386.48M385.28,433.96H386.48M385.28,431.9H386.48M385.28,429.83H386.48M384.78,427.76H386.48M386.48,469.12V470.72M390.29,469.12V470.02M392.53,469.12V470.02M394.11,469.12V470.02M395.34,469.12V470.02M396.34,469.12V470.02M397.19,469.12V470.02M397.93,469.12V470.02M398.57,469.12V470.02M399.15,469.12V470.72M402.97,469.12V470.02M405.2,469.12V470.02M406.79,469.12V470.02M408.01,469.12V470.02M409.02,469.12V470.02M409.87,469.12V470.02M410.6,469.12V470.02M411.25,469.12V470.02M411.83,469.12V470.72M415.64,469.12V470.02M417.88,469.12V470.02M419.46,469.12V470.02M420.69,469.12V470.02M421.69,469.12V470.02M422.54,469.12V470.02M423.28,469.12V470.02M423.92,469.12V470.02M424.5,469.12V470.72M428.32,469.12V470.02M430.55,469.12V470.02M432.14,469.12V470.02M433.36,469.12V470.02M434.37,469.12V470.02M435.22,469.12V470.02M435.95,469.12V470.02M436.6,469.12V470.02M437.18,469.12V470.72" stroke="#111" stroke-width="0.6" fill="none"/><text class="tk" transform="translate(382.08,467.67) rotate(-90)" text-anchor="middle" font-size="4.8">0</text><text class="tk" transform="translate(382.08,457.97) rotate(-90)" text-anchor="middle" font-size="4.8">5</text><text class="tk" transform="translate(382.08,448.26) rotate(-90)" text-anchor="middle" font-size="4.8">10</text><text class="tk" transform="translate(382.08,438.56) rotate(-90)" text-anchor="middle" font-size="4.8">15</text><text class="tk" transform="translate(382.08,428.86) rotate(-90)" text-anchor="middle" font-size="4.8">20</text><text class="tk" transform="translate(376.88,449.34) rotate(-90)" font-size="5" textLength="14.8" lengthAdjust="spacingAndGlyphs" x="-7.4">Counts</text><text class="tk" x="385.88" y="476.62" text-anchor="middle" font-size="5.3">10</text><text class="sp" x="388.38" y="473.82">0</text><text class="tk" x="398.27" y="476.62" text-anchor="middle" font-size="5.3">10</text><text class="sp" x="400.77" y="473.82">1</text><text class="tk" x="410.67" y="476.62" text-anchor="middle" font-size="5.3">10</text><text class="sp" x="413.17" y="473.82">2</text><text class="tk" x="423.06" y="476.62" text-anchor="middle" font-size="5.3">10</text><text class="sp" x="425.56" y="473.82">3</text><text class="tk" x="435.46" y="476.62" text-anchor="middle" font-size="5.3">10</text><text class="sp" x="437.96" y="473.82">4</text><text class="tk" x="405.08" y="481.42" font-size="4.6" textLength="12.8" lengthAdjust="spacingAndGlyphs">FL2-H</text>
<path class="hg" d="M468.31,469.05L468.31,469.05L468.31,469.05L468.81,466.97L468.92,466.38L469.31,465.69L469.81,464.96L470.15,464.73L470.31,464.98L470.81,463.92L471.31,463.31L471.38,463.63L471.81,464.27L472.31,462.86L472.62,462.76L472.81,462.81L473.31,462.03L473.81,464.13L473.85,461.97L474.31,461.16L474.81,461.88L475.08,462.23L475.31,459.57L475.81,458.99L475.94,457.89L476.31,456.75L476.68,455.71L476.81,454.72L477.17,455.72L477.31,452.19L477.81,452.36L477.91,452.83L478.31,452.09L478.4,451.83L478.81,454.1L478.89,454.98L479.31,457.62L479.38,458.62L479.81,458.67L480,459.42L480.31,460.12L480.62,460.21L480.81,459.07L481.23,457.43L481.31,460.12L481.81,453.65L481.85,453.91L482.22,452.97L482.31,453.14L482.58,456.32L482.81,458.77L483.31,461.59L483.32,458.86L483.81,460.37L484.06,457.58L484.31,457.78L484.81,459.72L484.92,460.47L485.31,458.19L485.54,458.2L485.81,460.23L486.15,460.91L486.31,460.16L486.77,463.64L486.81,461.2L487.31,461.8L487.75,462.8L487.81,462.77L488.31,462.85L488.62,463.74L488.81,463.61L489.31,465.16L489.48,463.72L489.81,465.12L490.22,465.62L490.31,465.87L490.81,467.38L491.08,467.51L491.31,468.34L491.69,469.05L491.69,469.05Z"/><path class="ho" d="M464.37,469.05L464.37,469.05L464.37,469.05L464.62,460.17L464.87,461.13L465.37,463.76L465.6,464.96L465.87,464.55L466.37,463.99L466.46,463.71L466.87,462.09L467.32,459.83L467.37,460.15L467.87,459.2L468.06,457.85L468.37,456.35L468.87,453.63L468.92,454.26L469.37,452.8L469.54,449.66L469.87,451.82L470.37,448.93L470.52,447.74L470.87,449.51L471.37,447.55L471.38,444.59L471.87,442.48L472,442.03L472.37,442.57L472.62,443.8L472.87,439.8L473.23,439.75L473.37,441.29L473.85,441.47L473.87,441.44L474.37,446.4L474.46,445.87L474.87,449.72L475.08,451.02L475.37,453.86L475.69,455.31L475.87,455.51L476.31,458.15L476.37,458.17L476.87,459.93L476.92,459.8"/><path d="M463.82,427.7H514.77V469.05" fill="none" stroke="#222" stroke-width="0.9"/><path d="M463.82,427.3V469.05" fill="none" stroke="#000" stroke-width="1.1"/><path d="M463.32,469.05H515.27" fill="none" stroke="#000" stroke-width="1.7"/><path d="M462.12,469.05H463.82M462.62,466.98H463.82M462.62,464.92H463.82M462.62,462.85H463.82M462.62,460.78H463.82M462.12,458.71H463.82M462.62,456.64H463.82M462.62,454.58H463.82M462.62,452.51H463.82M462.62,450.44H463.82M462.12,448.38H463.82M462.62,446.31H463.82M462.62,444.24H463.82M462.62,442.17H463.82M462.62,440.11H463.82M462.12,438.04H463.82M462.62,435.97H463.82M462.62,433.9H463.82M462.62,431.83H463.82M462.62,429.77H463.82M462.12,427.7H463.82M463.82,469.05V470.65M467.66,469.05V469.95M469.9,469.05V469.95M471.49,469.05V469.95M472.73,469.05V469.95M473.74,469.05V469.95M474.59,469.05V469.95M475.33,469.05V469.95M475.98,469.05V469.95M476.56,469.05V470.65M480.4,469.05V469.95M482.64,469.05V469.95M484.23,469.05V469.95M485.46,469.05V469.95M486.47,469.05V469.95M487.33,469.05V469.95M488.06,469.05V469.95M488.72,469.05V469.95M489.3,469.05V470.65M493.13,469.05V469.95M495.38,469.05V469.95M496.97,469.05V469.95M498.2,469.05V469.95M499.21,469.05V469.95M500.06,469.05V469.95M500.8,469.05V469.95M501.45,469.05V469.95M502.04,469.05V470.65M505.87,469.05V469.95M508.11,469.05V469.95M509.7,469.05V469.95M510.94,469.05V469.95M511.95,469.05V469.95M512.8,469.05V469.95M513.54,469.05V469.95M514.19,469.05V469.95M514.77,469.05V470.65" stroke="#111" stroke-width="0.6" fill="none"/><text class="tk" transform="translate(459.42,467.6) rotate(-90)" text-anchor="middle" font-size="4.8">0</text><text class="tk" transform="translate(459.42,457.9) rotate(-90)" text-anchor="middle" font-size="4.8">5</text><text class="tk" transform="translate(459.42,448.2) rotate(-90)" text-anchor="middle" font-size="4.8">10</text><text class="tk" transform="translate(459.42,438.5) rotate(-90)" text-anchor="middle" font-size="4.8">15</text><text class="tk" transform="translate(459.42,428.8) rotate(-90)" text-anchor="middle" font-size="4.8">20</text><text class="tk" transform="translate(454.22,449.27) rotate(-90)" font-size="5" textLength="14.8" lengthAdjust="spacingAndGlyphs" x="-7.4">Counts</text><text class="tk" x="463.22" y="476.55" text-anchor="middle" font-size="5.3">10</text><text class="sp" x="465.72" y="473.75">0</text><text class="tk" x="475.68" y="476.55" text-anchor="middle" font-size="5.3">10</text><text class="sp" x="478.18" y="473.75">1</text><text class="tk" x="488.14" y="476.55" text-anchor="middle" font-size="5.3">10</text><text class="sp" x="490.64" y="473.75">2</text><text class="tk" x="500.6" y="476.55" text-anchor="middle" font-size="5.3">10</text><text class="sp" x="503.1" y="473.75">3</text><text class="tk" x="513.05" y="476.55" text-anchor="middle" font-size="5.3">10</text><text class="sp" x="515.55" y="473.75">4</text><text class="tk" x="482.42" y="481.35" font-size="4.6" textLength="12.8" lengthAdjust="spacingAndGlyphs">FL2-H</text>
<path class="hg" d="M83,536.5L83,536.5L83,536.5L83.37,531.43L83.5,532.54L84,530.81L84.23,530.68L84.5,529.92L85,529.3L85.09,527.87L85.5,526.36L86,525.31L86.08,522.98L86.5,521.82L86.69,520.26L87,516.18L87.31,517.59L87.5,515.02L87.92,516.23L88,516.87L88.5,516.63L88.54,517L89,512.59L89.15,515.11L89.5,507L89.52,507.47L90,501.71L90.02,502.68L90.5,504.1L90.51,502.7L91,507.33L91,508.27L91.5,512.02L91.62,515.15L92,520.77L92.23,521.09L92.5,522.18L92.85,524.26L93,525.37L93.46,526.82L93.5,527.17L94,528.76L94.08,528.96L94.5,530.18L94.69,530.61L95,530.67L95.31,531.9L95.5,530.83L95.92,530.11L96,530L96.5,529.15L96.54,529.38L97,528.63L97.15,527.67L97.5,530.29L97.77,531.47L98,531.85L98.38,532.09L98.5,533.14L99,532.79L99,533.1L99.5,533.95L99.62,534.15L100,533.57L100.23,532.94L100.5,533.56L100.85,533.43L101,533.95L101.46,534.24L101.5,534.47L102,535.59L102.08,535.68L102.5,536.22L102.69,536.5L102.69,536.5Z"/><path class="hg" d="M104.54,536.5L104.54,536.5L104.54,536.5L105.04,534.91L105.15,534.62L105.54,533.8L106.02,532.89L106.04,532.92L106.54,532.46L107,531.95L107.04,531.47L107.54,530.11L107.62,529.72L108.04,527.78L108.23,526.89L108.54,528.75L108.85,530.08L109.04,530.91L109.46,531.43L109.54,531L110.04,531L110.54,530.58L110.69,530.8L111.04,531.54L111.54,532.14L111.92,532.73L112.04,532.43L112.54,532.38L113.04,533.03L113.15,532.98L113.54,532.85L114.04,532.79L114.38,532.9L114.54,532.71L115.04,532.92L115.54,533.17L115.62,533.53L116.04,533.86L116.54,534.84L116.6,534.39L117.04,536.29L117.09,536.5L117.09,536.5Z"/><path class="hi" d="M83.6,536.5L83.6,536.5L83.6,536.5L83.97,533.45L84.1,534L84.6,532.91L84.83,531.7L85.1,531.11L85.6,531.89L85.69,529.6L86.1,528.63L86.6,525.9L86.68,527.66L87.1,523.33L87.29,521.42L87.6,519.74L87.91,518.49L88.1,521.59L88.52,525.53L88.6,519.07L89.1,521.57L89.14,521.32L89.6,524.53L89.75,519.09L90.1,515.58L90.12,512.4L90.6,510.16L90.62,516.37L91.1,510.64L91.11,517.97L91.6,516.6L91.6,513.77L92.1,516.65L92.22,517.78L92.6,520.94L92.83,527.53L93.1,524.78L93.45,528.09L93.6,527.43L94.06,529.52L94.1,528.86L94.6,531L94.68,531.55L95.1,532.46L95.29,531.55L95.6,532.07L95.91,532.22L96.1,532.03L96.52,532.5L96.6,531.74L97.1,531.57L97.14,534.45L97.6,530.11L97.75,530.66L98.1,531.99L98.37,530.55L98.6,533.17L98.98,532.82L99.1,533.19L99.6,534.8L99.6,533.93L100.1,534.52L100.22,534.7L100.6,534.08L100.83,534.25L101.1,534.49L101.45,534.74L101.6,534.2L102.06,535.44L102.1,534.91L102.6,535.4L102.68,535.48L103.1,536.19L103.29,536.5"/><path d="M82.39,495.2H133.41V536.5" fill="none" stroke="#222" stroke-width="0.9"/><path d="M82.39,494.8V536.5" fill="none" stroke="#000" stroke-width="1.1"/><path d="M81.89,536.5H133.91" fill="none" stroke="#000" stroke-width="1.7"/><path d="M80.69,536.5H82.39M81.19,534.43H82.39M81.19,532.37H82.39M81.19,530.3H82.39M81.19,528.24H82.39M80.69,526.17H82.39M81.19,524.11H82.39M81.19,522.04H82.39M81.19,519.98H82.39M81.19,517.91H82.39M80.69,515.85H82.39M81.19,513.78H82.39M81.19,511.72H82.39M81.19,509.65H82.39M81.19,507.59H82.39M80.69,505.52H82.39M81.19,503.46H82.39M81.19,501.39H82.39M81.19,499.33H82.39M81.19,497.26H82.39M80.69,495.2H82.39M82.39,536.5V538.1M86.23,536.5V537.4M88.48,536.5V537.4M90.07,536.5V537.4M91.31,536.5V537.4M92.32,536.5V537.4M93.17,536.5V537.4M93.91,536.5V537.4M94.56,536.5V537.4M95.15,536.5V538.1M98.99,536.5V537.4M101.23,536.5V537.4M102.83,536.5V537.4M104.06,536.5V537.4M105.07,536.5V537.4M105.93,536.5V537.4M106.67,536.5V537.4M107.32,536.5V537.4M107.9,536.5V538.1M111.74,536.5V537.4M113.99,536.5V537.4M115.58,536.5V537.4M116.82,536.5V537.4M117.83,536.5V537.4M118.68,536.5V537.4M119.42,536.5V537.4M120.07,536.5V537.4M120.66,536.5V538.1M124.5,536.5V537.4M126.74,536.5V537.4M128.34,536.5V537.4M129.57,536.5V537.4M130.58,536.5V537.4M131.44,536.5V537.4M132.18,536.5V537.4M132.83,536.5V537.4M133.41,536.5V538.1" stroke="#111" stroke-width="0.6" fill="none"/><text class="tk" transform="translate(77.99,535.05) rotate(-90)" text-anchor="middle" font-size="4.8">0</text><text class="tk" transform="translate(77.99,525.36) rotate(-90)" text-anchor="middle" font-size="4.8">5</text><text class="tk" transform="translate(77.99,515.67) rotate(-90)" text-anchor="middle" font-size="4.8">10</text><text class="tk" transform="translate(77.99,505.99) rotate(-90)" text-anchor="middle" font-size="4.8">15</text><text class="tk" transform="translate(77.99,496.3) rotate(-90)" text-anchor="middle" font-size="4.8">20</text><text class="tk" transform="translate(72.79,516.75) rotate(-90)" font-size="5" textLength="14.8" lengthAdjust="spacingAndGlyphs" x="-7.4">Counts</text><text class="tk" x="81.79" y="544" text-anchor="middle" font-size="5.3">10</text><text class="sp" x="84.29" y="541.2">0</text><text class="tk" x="94.27" y="544" text-anchor="middle" font-size="5.3">10</text><text class="sp" x="96.77" y="541.2">1</text><text class="tk" x="106.74" y="544" text-anchor="middle" font-size="5.3">10</text><text class="sp" x="109.24" y="541.2">2</text><text class="tk" x="119.22" y="544" text-anchor="middle" font-size="5.3">10</text><text class="sp" x="121.72" y="541.2">3</text><text class="tk" x="131.69" y="544" text-anchor="middle" font-size="5.3">10</text><text class="sp" x="134.19" y="541.2">4</text><text class="tk" x="100.99" y="552.8" font-size="4.6" textLength="12.8" lengthAdjust="spacingAndGlyphs">FL2-H</text>
<path class="hg" d="M159.62,536.5L159.62,536.5L159.62,536.5L159.86,531.82L160.12,531.93L160.62,532.12L160.85,531.99L161.12,531.27L161.62,530.61L161.83,529.14L162.12,527.56L162.62,526.01L162.69,527.38L163.12,522.54L163.31,519.95L163.62,518.34L163.92,516.14L164.12,516.72L164.54,513.41L164.62,512.47L165.12,510.77L165.15,508.91L165.62,506.22L165.77,507.5L166.12,511.5L166.38,508.35L166.62,507.19L167,502.62L167.12,499.55L167.62,507.75L167.62,503.29L168.12,510.74L168.23,512.02L168.62,512.05L168.85,513.74L169.12,515.86L169.46,520.69L169.62,521.44L170.08,524.01L170.12,526.61L170.62,527.49L170.69,527.62L171.12,530.61L171.31,530.33L171.62,530.73L171.92,531.93L172.12,531.51L172.62,531.8L172.91,532.06L173.12,533.12L173.62,532.37L173.77,532.17L174.12,531.91L174.62,532.3L174.63,531.46L175.12,529.45L175.12,528.87L175.62,532.78L175.62,532.17L176.12,533.32L176.62,533.91L176.85,532.66L177.12,532.89L177.62,532.69L178.08,532.98L178.12,532.73L178.62,532.47L179.12,532.5L179.31,532.3L179.62,531.88L180.12,531.46L180.29,531.23L180.62,529.58L181.12,531.29L181.15,527.63L181.62,525.17L181.77,524.61L182.12,527.32L182.38,526.82L182.62,526.74L183,529.43L183.12,529.29L183.62,530.97L183.62,531.36L184.12,530.66L184.48,530.46L184.62,531.3L185.12,529.87L185.46,528.82L185.62,529.9L186.12,529.47L186.45,529.44L186.62,529.83L187.12,529.4L187.31,529.82L187.62,529.54L187.92,530.84L188.12,530.38L188.54,531.77L188.62,530.87L189.12,532.28L189.15,532.58L189.62,531.91L190.12,532L190.14,532.02L190.62,531.21L191,530.31L191.12,530.44L191.62,528.7L191.62,529.31L192.12,531.63L192.23,532.41L192.62,533.14L192.85,533.95L193.12,535.03L193.46,536.5L193.46,536.5Z"/><path class="hi" d="M160.22,536.5L160.22,536.5L160.22,536.5L160.46,533.02L160.72,532.81L161.22,533.87L161.45,533.5L161.72,532.99L162.22,531.43L162.43,530.68L162.72,530.19L163.22,528.43L163.29,530.01L163.72,527.69L163.91,525.1L164.22,526.09L164.52,524.47L164.72,520.11L165.14,518.42L165.22,517.49L165.72,516.4L165.75,515.21L166.22,514.15L166.37,512.57L166.72,516.1L166.98,515.78L167.22,515.41L167.6,509.07L167.72,508.14L168.22,518.2L168.22,513.57L168.72,517.19L168.83,515.72L169.22,519.81L169.45,522.56L169.72,520.61L170.06,525.05L170.22,524.24L170.68,529.77L170.72,527.41L171.22,529.59L171.29,530.1L171.72,531.8L171.91,531.87L172.22,532.87L172.52,532.49L172.72,532.65L173.22,533.31L173.51,533.36L173.72,533.08L174.22,533.11L174.37,533.06L174.72,532.86L175.22,533.33L175.23,534.7L175.72,530.13L175.72,530.34L176.22,533.5L176.22,533.83L176.72,533.27L177.22,533.59L177.45,533.57L177.72,534.74L178.22,533.62L178.68,534.32L178.72,533.72L179.22,533.87L179.72,533.84L179.91,533.07L180.22,533.31L180.72,532.57L180.89,533L181.22,531.05L181.72,530.52L181.75,528.67L182.22,528.77L182.37,528.6L182.72,527.79L182.98,530.85L183.22,530.73L183.6,531.62L183.72,531.79L184.22,533.8L184.22,533.35L184.72,532.64L185.08,532.2L185.22,531.72L185.72,530.92L186.06,531.16L186.22,530.56L186.72,530.41L187.05,530.29L187.22,531.21L187.72,531.26L187.91,532.01L188.22,531.28L188.52,532.26L188.72,532.11L189.14,532.29L189.22,533.95L189.72,532.6L189.75,533.65L190.22,533.37L190.72,533.34L190.74,533.63L191.22,532.39L191.6,531.8L191.72,532.7L192.22,529.99L192.22,531.48L192.72,533.04L192.83,533.24L193.22,533.79L193.45,534.5L193.72,535.37L194.06,536.5"/><path d="M159.16,495.2H209.26V536.5" fill="none" stroke="#222" stroke-width="0.9"/><path d="M159.16,494.8V536.5" fill="none" stroke="#000" stroke-width="1.1"/><path d="M158.66,536.5H209.76" fill="none" stroke="#000" stroke-width="1.7"/><path d="M157.46,536.5H159.16M157.96,534.43H159.16M157.96,532.37H159.16M157.96,530.31H159.16M157.96,528.24H159.16M157.46,526.17H159.16M157.96,524.11H159.16M157.96,522.05H159.16M157.96,519.98H159.16M157.96,517.91H159.16M157.46,515.85H159.16M157.96,513.79H159.16M157.96,511.72H159.16M157.96,509.66H159.16M157.96,507.59H159.16M157.46,505.53H159.16M157.96,503.46H159.16M157.96,501.4H159.16M157.96,499.33H159.16M157.96,497.27H159.16M157.46,495.2H159.16M159.16,536.5V538.1M162.93,536.5V537.4M165.14,536.5V537.4M166.7,536.5V537.4M167.92,536.5V537.4M168.91,536.5V537.4M169.75,536.5V537.4M170.47,536.5V537.4M171.11,536.5V537.4M171.69,536.5V538.1M175.46,536.5V537.4M177.66,536.5V537.4M179.23,536.5V537.4M180.44,536.5V537.4M181.43,536.5V537.4M182.27,536.5V537.4M183,536.5V537.4M183.64,536.5V537.4M184.21,536.5V538.1M187.98,536.5V537.4M190.19,536.5V537.4M191.75,536.5V537.4M192.97,536.5V537.4M193.96,536.5V537.4M194.8,536.5V537.4M195.52,536.5V537.4M196.16,536.5V537.4M196.74,536.5V538.1M200.51,536.5V537.4M202.71,536.5V537.4M204.28,536.5V537.4M205.49,536.5V537.4M206.48,536.5V537.4M207.32,536.5V537.4M208.05,536.5V537.4M208.69,536.5V537.4M209.26,536.5V538.1" stroke="#111" stroke-width="0.6" fill="none"/><text class="tk" transform="translate(154.76,535.05) rotate(-90)" text-anchor="middle" font-size="4.8">0</text><text class="tk" transform="translate(154.76,525.36) rotate(-90)" text-anchor="middle" font-size="4.8">5</text><text class="tk" transform="translate(154.76,515.67) rotate(-90)" text-anchor="middle" font-size="4.8">10</text><text class="tk" transform="translate(154.76,505.99) rotate(-90)" text-anchor="middle" font-size="4.8">15</text><text class="tk" transform="translate(154.76,496.3) rotate(-90)" text-anchor="middle" font-size="4.8">20</text><text class="tk" transform="translate(149.56,516.75) rotate(-90)" font-size="5" textLength="14.8" lengthAdjust="spacingAndGlyphs" x="-7.4">Counts</text><text class="tk" x="158.56" y="544" text-anchor="middle" font-size="5.3">10</text><text class="sp" x="161.06" y="541.2">0</text><text class="tk" x="170.81" y="544" text-anchor="middle" font-size="5.3">10</text><text class="sp" x="173.31" y="541.2">1</text><text class="tk" x="183.05" y="544" text-anchor="middle" font-size="5.3">10</text><text class="sp" x="185.55" y="541.2">2</text><text class="tk" x="195.3" y="544" text-anchor="middle" font-size="5.3">10</text><text class="sp" x="197.8" y="541.2">3</text><text class="tk" x="207.54" y="544" text-anchor="middle" font-size="5.3">10</text><text class="sp" x="210.04" y="541.2">4</text><text class="tk" x="177.76" y="552.8" font-size="4.6" textLength="12.8" lengthAdjust="spacingAndGlyphs">FL2-H</text>
<path class="hg" d="M235.62,536.5L235.62,536.5L235.62,536.5L235.86,531.39L236.12,531.51L236.62,531.74L236.85,531.74L237.12,531.09L237.62,531.25L237.83,529.65L238.12,528.22L238.62,530.07L238.69,526.81L239.12,524.28L239.31,523.33L239.62,522.79L239.92,522.33L240.12,519.9L240.54,512.64L240.62,515.58L241.12,512.06L241.15,511.16L241.62,514.97L241.77,506.95L242.12,501.75L242.38,504.32L242.62,498.52L243,502.74L243.12,497.18L243.62,506.59L243.62,502.82L244.12,507.74L244.23,513.7L244.62,512.82L244.85,513.91L245.12,512.12L245.46,512.78L245.62,513.19L246.08,516.3L246.12,516.1L246.62,521.02L246.69,520.95L247.12,523.19L247.31,523.7L247.62,527.34L247.92,528.37L248.12,529.09L248.54,530.06L248.62,530.5L249.12,532.51L249.15,533.06L249.62,533.61L249.77,534.63L250.12,535.21L250.38,533.28L250.62,533L250.75,531.56L251.12,534.49L251.12,534.01L251.62,536.5L251.62,536.5L251.62,536.5Z"/><path class="hg" d="M256.29,536.5L256.29,536.5L256.29,536.5L256.78,534.23L256.79,533.78L257.29,531.17L257.52,529.89L257.79,526.85L258.02,524.82L258.29,523.13L258.75,520.39L258.79,520.49L259.25,522.37L259.29,522.72L259.79,524.76L259.98,526.54L260.29,525.31L260.48,524.79L260.79,522.65L261.22,519.91L261.29,519.25L261.71,516.58L261.79,517.26L262.2,519.73L262.29,520.77L262.69,524.99L262.79,525.38L263.29,528.87L263.31,528.67L263.79,530.4L263.92,530.61L264.29,531.07L264.79,531.56L265.15,532.18L265.29,532.32L265.79,532.99L266.14,533.24L266.29,533.53L266.63,534.35L266.79,535.3L267.12,536.5L267.12,536.5Z"/><path class="hi" d="M236.22,536.5L236.22,536.5L236.22,536.5L236.46,533.28L236.72,533.09L237.22,533.91L237.45,534.12L237.72,532.25L238.22,531.88L238.43,532.63L238.72,532.12L239.22,528.82L239.29,528.99L239.72,527.44L239.91,527.12L240.22,527.15L240.52,526.66L240.72,524.83L241.14,517.94L241.22,519.79L241.72,519.03L241.75,520.42L242.22,514.67L242.37,511.29L242.72,511.21L242.98,512.23L243.22,508.01L243.6,516.74L243.72,508.52L244.22,510L244.22,513.18L244.72,514.92L244.83,515.71L245.22,517.57L245.45,518.95L245.72,521.15L246.06,519.52L246.22,523.67L246.68,521.32L246.72,525.56L247.22,527.53L247.29,526.98L247.72,527.38L247.91,526.94L248.22,529.03L248.52,530.71L248.72,530.21L249.14,531.83L249.22,532.53L249.72,533.73L249.75,534.11L250.22,534.25L250.37,535.48L250.72,534.63L250.98,534.1L251.22,533.16L251.35,532.47L251.72,534.56L251.72,534.55L252.22,536.5L252.22,536.5"/><path d="M235.21,495.2H285.36V536.5" fill="none" stroke="#222" stroke-width="0.9"/><path d="M235.21,494.8V536.5" fill="none" stroke="#000" stroke-width="1.1"/><path d="M234.71,536.5H285.86" fill="none" stroke="#000" stroke-width="1.7"/><path d="M233.51,536.5H235.21M234.01,534.43H235.21M234.01,532.37H235.21M234.01,530.31H235.21M234.01,528.24H235.21M233.51,526.17H235.21M234.01,524.11H235.21M234.01,522.05H235.21M234.01,519.98H235.21M234.01,517.91H235.21M233.51,515.85H235.21M234.01,513.79H235.21M234.01,511.72H235.21M234.01,509.66H235.21M234.01,507.59H235.21M233.51,505.53H235.21M234.01,503.46H235.21M234.01,501.4H235.21M234.01,499.33H235.21M234.01,497.27H235.21M233.51,495.2H235.21M235.21,536.5V538.1M238.98,536.5V537.4M241.19,536.5V537.4M242.75,536.5V537.4M243.97,536.5V537.4M244.96,536.5V537.4M245.8,536.5V537.4M246.53,536.5V537.4M247.17,536.5V537.4M247.74,536.5V538.1M251.52,536.5V537.4M253.73,536.5V537.4M255.29,536.5V537.4M256.51,536.5V537.4M257.5,536.5V537.4M258.34,536.5V537.4M259.07,536.5V537.4M259.71,536.5V537.4M260.28,536.5V538.1M264.06,536.5V537.4M266.26,536.5V537.4M267.83,536.5V537.4M269.04,536.5V537.4M270.04,536.5V537.4M270.88,536.5V537.4M271.6,536.5V537.4M272.24,536.5V537.4M272.82,536.5V538.1M276.59,536.5V537.4M278.8,536.5V537.4M280.37,536.5V537.4M281.58,536.5V537.4M282.57,536.5V537.4M283.41,536.5V537.4M284.14,536.5V537.4M284.78,536.5V537.4M285.36,536.5V538.1" stroke="#111" stroke-width="0.6" fill="none"/><text class="tk" transform="translate(230.81,535.05) rotate(-90)" text-anchor="middle" font-size="4.8">0</text><text class="tk" transform="translate(230.81,525.36) rotate(-90)" text-anchor="middle" font-size="4.8">5</text><text class="tk" transform="translate(230.81,515.67) rotate(-90)" text-anchor="middle" font-size="4.8">10</text><text class="tk" transform="translate(230.81,505.99) rotate(-90)" text-anchor="middle" font-size="4.8">15</text><text class="tk" transform="translate(230.81,496.3) rotate(-90)" text-anchor="middle" font-size="4.8">20</text><text class="tk" transform="translate(225.61,516.75) rotate(-90)" font-size="5" textLength="14.8" lengthAdjust="spacingAndGlyphs" x="-7.4">Counts</text><text class="tk" x="234.61" y="544" text-anchor="middle" font-size="5.3">10</text><text class="sp" x="237.11" y="541.2">0</text><text class="tk" x="246.86" y="544" text-anchor="middle" font-size="5.3">10</text><text class="sp" x="249.36" y="541.2">1</text><text class="tk" x="259.12" y="544" text-anchor="middle" font-size="5.3">10</text><text class="sp" x="261.62" y="541.2">2</text><text class="tk" x="271.38" y="544" text-anchor="middle" font-size="5.3">10</text><text class="sp" x="273.88" y="541.2">3</text><text class="tk" x="283.64" y="544" text-anchor="middle" font-size="5.3">10</text><text class="sp" x="286.14" y="541.2">4</text><text class="tk" x="253.81" y="548.8" font-size="4.6" textLength="12.8" lengthAdjust="spacingAndGlyphs">FL2-H</text>
<path class="hg" d="M311,536.5L311,536.5L311,536.5L311.37,533.98L311.5,533.97L312,533.97L312.23,534.75L312.5,534.18L313,533.19L313.09,533.17L313.5,531.53L314,530.41L314.08,529.27L314.5,528.34L314.69,526.82L315,528.97L315.31,524.82L315.5,523.58L315.92,524.6L316,524.55L316.5,524.42L316.54,523.63L317,519.1L317.15,519.97L317.5,514.44L317.77,517.04L318,511.15L318.38,509.57L318.5,509.95L319,510.39L319,510.57L319.5,510.76L319.62,512.12L320,512.62L320.23,515.74L320.5,514.35L320.85,510.99L321,510.59L321.46,509.73L321.5,511.9L322,511.44L322.08,513.74L322.5,511.19L322.69,515.31L323,520.41L323.31,517.73L323.5,519.77L323.92,524.89L324,526.44L324.5,525.5L324.54,526.47L325,527.33L325.15,527.39L325.5,529.17L325.77,530.27L326,530.48L326.38,531.71L326.5,532.62L327,535.54L327,535.7L327.5,536.33L327.62,536.5L327.62,536.5Z"/><path class="hg" d="M335.62,536.5L335.62,536.5L335.62,536.5L336.12,534.11L336.23,533.87L336.62,533.45L337.12,532.75L337.22,532.47L337.62,532.56L338.08,532.5L338.12,532.05L338.62,531.54L338.94,530.51L339.12,529.76L339.62,529.05L339.68,529.37L340.12,528.12L340.54,526.37L340.62,526.43L341.12,525.8L341.4,525.18L341.62,525L342.12,524.4L342.14,523.82L342.62,521.63L342.63,521.62L343.12,520.85L343.37,520.09L343.62,521.33L343.98,522.58L344.12,523.3L344.6,525.04L344.62,525.4L345.12,527.53L345.22,528.21L345.62,530.53L345.83,531.51L346.12,532.52L346.32,534.46L346.62,535.78L346.82,536.5L346.82,536.5Z"/><path class="hi" d="M311.6,536.5L311.6,536.5L311.6,536.5L311.97,533.71L312.1,534.98L312.6,534.64L312.83,534.81L313.1,534.67L313.6,533.97L313.69,533.93L314.1,532.68L314.6,531.79L314.68,531.08L315.1,530.54L315.29,529.08L315.6,528.98L315.91,528.22L316.1,529.2L316.52,526.51L316.6,526.03L317.1,525.74L317.14,523.81L317.6,523.51L317.75,522.23L318.1,522.66L318.37,521.31L318.6,518.94L318.98,516.95L319.1,518.45L319.6,518.84L319.6,513.7L320.1,517.85L320.22,520.8L320.6,517.7L320.83,519.26L321.1,519.03L321.45,514.82L321.6,516.46L322.06,518.78L322.1,515.5L322.6,520.18L322.68,518.05L323.1,518.96L323.29,518.02L323.6,523.37L323.91,523.36L324.1,523.04L324.52,526.82L324.6,526.09L325.1,528.92L325.14,529.58L325.6,529.28L325.75,530.21L326.1,530.31L326.37,531.06L326.6,532.4L326.98,533.48L327.1,533.57L327.6,535.87L327.6,535.86L328.1,536.36L328.22,536.5"/><path d="M310.55,495.2H360.7V536.5" fill="none" stroke="#222" stroke-width="0.9"/><path d="M310.55,494.8V536.5" fill="none" stroke="#000" stroke-width="1.1"/><path d="M310.05,536.5H361.2" fill="none" stroke="#000" stroke-width="1.7"/><path d="M308.85,536.5H310.55M309.35,534.43H310.55M309.35,532.37H310.55M309.35,530.31H310.55M309.35,528.24H310.55M308.85,526.17H310.55M309.35,524.11H310.55M309.35,522.05H310.55M309.35,519.98H310.55M309.35,517.91H310.55M308.85,515.85H310.55M309.35,513.79H310.55M309.35,511.72H310.55M309.35,509.66H310.55M309.35,507.59H310.55M308.85,505.53H310.55M309.35,503.46H310.55M309.35,501.4H310.55M309.35,499.33H310.55M309.35,497.27H310.55M308.85,495.2H310.55M310.55,536.5V538.1M314.33,536.5V537.4M316.54,536.5V537.4M318.1,536.5V537.4M319.32,536.5V537.4M320.31,536.5V537.4M321.15,536.5V537.4M321.88,536.5V537.4M322.52,536.5V537.4M323.09,536.5V538.1M326.87,536.5V537.4M329.07,536.5V537.4M330.64,536.5V537.4M331.86,536.5V537.4M332.85,536.5V537.4M333.69,536.5V537.4M334.41,536.5V537.4M335.06,536.5V537.4M335.63,536.5V538.1M339.4,536.5V537.4M341.61,536.5V537.4M343.18,536.5V537.4M344.39,536.5V537.4M345.39,536.5V537.4M346.23,536.5V537.4M346.95,536.5V537.4M347.59,536.5V537.4M348.17,536.5V538.1M351.94,536.5V537.4M354.15,536.5V537.4M355.72,536.5V537.4M356.93,536.5V537.4M357.92,536.5V537.4M358.76,536.5V537.4M359.49,536.5V537.4M360.13,536.5V537.4M360.7,536.5V538.1" stroke="#111" stroke-width="0.6" fill="none"/><text class="tk" transform="translate(306.15,535.05) rotate(-90)" text-anchor="middle" font-size="4.8">0</text><text class="tk" transform="translate(306.15,525.36) rotate(-90)" text-anchor="middle" font-size="4.8">5</text><text class="tk" transform="translate(306.15,515.67) rotate(-90)" text-anchor="middle" font-size="4.8">10</text><text class="tk" transform="translate(306.15,505.99) rotate(-90)" text-anchor="middle" font-size="4.8">15</text><text class="tk" transform="translate(306.15,496.3) rotate(-90)" text-anchor="middle" font-size="4.8">20</text><text class="tk" transform="translate(300.95,516.75) rotate(-90)" font-size="5" textLength="14.8" lengthAdjust="spacingAndGlyphs" x="-7.4">Counts</text><text class="tk" x="309.95" y="544" text-anchor="middle" font-size="5.3">10</text><text class="sp" x="312.45" y="541.2">0</text><text class="tk" x="322.21" y="544" text-anchor="middle" font-size="5.3">10</text><text class="sp" x="324.71" y="541.2">1</text><text class="tk" x="334.47" y="544" text-anchor="middle" font-size="5.3">10</text><text class="sp" x="336.97" y="541.2">2</text><text class="tk" x="346.73" y="544" text-anchor="middle" font-size="5.3">10</text><text class="sp" x="349.23" y="541.2">3</text><text class="tk" x="358.98" y="544" text-anchor="middle" font-size="5.3">10</text><text class="sp" x="361.48" y="541.2">4</text><text class="tk" x="329.15" y="548.8" font-size="4.6" textLength="12.8" lengthAdjust="spacingAndGlyphs">FL2-H</text>
<path class="hg" d="M388.85,536.5L388.85,536.5L388.85,536.5L389.35,534.03L389.46,533.51L389.85,533.21L390.35,532.58L390.69,533.01L390.85,531.95L391.35,531.92L391.85,532.13L391.92,532.13L392.35,531.27L392.85,531.03L393.15,531.01L393.35,530.94L393.85,531.2L394.35,532.2L394.38,531.99L394.85,532.03L395.35,532.74L395.62,533.05L395.85,533.43L396.35,533.44L396.85,533.69L396.85,533.6L397.35,533.79L397.85,533.98L398.08,534.17L398.35,534.4L398.85,533.65L399.31,533.41L399.35,533.47L399.85,533.78L400.35,533.96L400.54,534.5L400.85,533.8L401.15,533.34L401.35,534.02L401.77,532.91L401.85,532.66L402.35,532.11L402.38,532.14L402.85,532.46L403.35,531.4L403.37,531.72L403.85,531.9L404.23,531.25L404.35,531.27L404.85,532.08L405.09,531.32L405.35,531.04L405.85,531.45L406.08,531.45L406.35,531.01L406.85,530.74L407.06,530.36L407.35,528.55L407.85,526.08L407.92,527.55L408.35,524.52L408.54,522.87L408.85,521.78L409.15,519.85L409.35,521.49L409.77,523.05L409.85,524.57L410.35,525.67L410.38,526.47L410.85,529.76L411,527.5L411.35,528.2L411.62,524.55L411.85,522.95L412.23,522.31L412.35,521.8L412.85,518.68L412.85,519.38L413.35,516.45L413.46,518.73L413.85,512.44L414.08,516.92L414.35,514.44L414.69,515.18L414.85,517.07L415.31,520.81L415.35,520.38L415.85,524.19L415.92,527.53L416.35,527.76L416.54,529.21L416.85,529.76L417.15,531.07L417.35,531.57L417.85,533.54L418.14,532.78L418.35,533.05L418.85,534.05L419,534.15L419.35,535.37L419.62,536.5L419.62,536.5Z"/><path class="ho" d="M387.37,536.5L387.37,536.5L387.37,536.5L387.62,528.74L387.87,528.02L388.37,530.22L388.6,531.21L388.87,531.58L389.37,533.24L389.46,533.3L389.87,532.73L390.32,532.03L390.37,532.54L390.87,529.66L391.06,528.45L391.37,526.59L391.87,524.2L391.92,523.19L392.37,520.66L392.54,519.43L392.87,517.77L393.15,516.63L393.37,514.51L393.77,512.03L393.87,511.22L394.37,512.94L394.38,509.48L394.87,509.65L395,508.62L395.37,507.49L395.62,506.78L395.87,504.26L396.23,502.49L396.37,503.65L396.85,504.36L396.87,505.15L397.37,511L397.46,511.35L397.87,515.02L398.08,518.4L398.37,519.77L398.69,524.41L398.87,525.94L399.31,529.09L399.37,528.6L399.87,532.16L399.92,532.1L400.37,534.07L400.54,534.61L400.87,535.48L401.15,536.5"/><path d="M386.72,495.2H437.42V536.5" fill="none" stroke="#222" stroke-width="0.9"/><path d="M386.72,494.8V536.5" fill="none" stroke="#000" stroke-width="1.1"/><path d="M386.22,536.5H437.92" fill="none" stroke="#000" stroke-width="1.7"/><path d="M385.02,536.5H386.72M385.52,534.43H386.72M385.52,532.37H386.72M385.52,530.3H386.72M385.52,528.24H386.72M385.02,526.17H386.72M385.52,524.11H386.72M385.52,522.04H386.72M385.52,519.98H386.72M385.52,517.91H386.72M385.02,515.85H386.72M385.52,513.78H386.72M385.52,511.72H386.72M385.52,509.65H386.72M385.52,507.59H386.72M385.02,505.52H386.72M385.52,503.46H386.72M385.52,501.39H386.72M385.52,499.33H386.72M385.52,497.26H386.72M385.02,495.2H386.72M386.72,536.5V538.1M390.54,536.5V537.4M392.77,536.5V537.4M394.35,536.5V537.4M395.58,536.5V537.4M396.58,536.5V537.4M397.43,536.5V537.4M398.17,536.5V537.4M398.82,536.5V537.4M399.4,536.5V538.1M403.21,536.5V537.4M405.44,536.5V537.4M407.03,536.5V537.4M408.26,536.5V537.4M409.26,536.5V537.4M410.11,536.5V537.4M410.84,536.5V537.4M411.49,536.5V537.4M412.07,536.5V538.1M415.89,536.5V537.4M418.12,536.5V537.4M419.7,536.5V537.4M420.93,536.5V537.4M421.93,536.5V537.4M422.78,536.5V537.4M423.52,536.5V537.4M424.17,536.5V537.4M424.75,536.5V538.1M428.56,536.5V537.4M430.79,536.5V537.4M432.38,536.5V537.4M433.61,536.5V537.4M434.61,536.5V537.4M435.46,536.5V537.4M436.19,536.5V537.4M436.84,536.5V537.4M437.42,536.5V538.1" stroke="#111" stroke-width="0.6" fill="none"/><text class="tk" transform="translate(382.32,535.05) rotate(-90)" text-anchor="middle" font-size="4.8">0</text><text class="tk" transform="translate(382.32,525.36) rotate(-90)" text-anchor="middle" font-size="4.8">5</text><text class="tk" transform="translate(382.32,515.67) rotate(-90)" text-anchor="middle" font-size="4.8">10</text><text class="tk" transform="translate(382.32,505.99) rotate(-90)" text-anchor="middle" font-size="4.8">15</text><text class="tk" transform="translate(382.32,496.3) rotate(-90)" text-anchor="middle" font-size="4.8">20</text><text class="tk" transform="translate(377.12,516.75) rotate(-90)" font-size="5" textLength="14.8" lengthAdjust="spacingAndGlyphs" x="-7.4">Counts</text><text class="tk" x="386.12" y="544" text-anchor="middle" font-size="5.3">10</text><text class="sp" x="388.62" y="541.2">0</text><text class="tk" x="398.52" y="544" text-anchor="middle" font-size="5.3">10</text><text class="sp" x="401.02" y="541.2">1</text><text class="tk" x="410.91" y="544" text-anchor="middle" font-size="5.3">10</text><text class="sp" x="413.41" y="541.2">2</text><text class="tk" x="423.31" y="544" text-anchor="middle" font-size="5.3">10</text><text class="sp" x="425.81" y="541.2">3</text><text class="tk" x="435.7" y="544" text-anchor="middle" font-size="5.3">10</text><text class="sp" x="438.2" y="541.2">4</text><text class="tk" x="405.32" y="548.8" font-size="4.6" textLength="12.8" lengthAdjust="spacingAndGlyphs">FL2-H</text>
<path class="hg" d="M464.37,536.5L464.37,536.5L464.37,536.5L464.86,532.95L464.87,532.96L465.37,533.68L465.85,534.2L465.87,534.19L466.37,533.73L466.83,531.97L466.87,532.25L467.37,529.37L467.69,529.68L467.87,528.12L468.31,524.59L468.37,529.24L468.87,522.13L468.92,522.44L469.37,520.29L469.54,521.39L469.87,518.21L470.15,515.3L470.37,519.91L470.77,515.08L470.87,511.08L471.37,509.79L471.38,511.45L471.87,507.04L472,505.36L472.37,513.78L472.62,515.08L472.87,509.84L473.23,511.91L473.37,513.42L473.85,520.95L473.87,513.48L474.37,512.54L474.46,508.45L474.87,501.95L475.08,500.2L475.37,503.9L475.69,505.91L475.87,508.78L476.31,514.95L476.37,512.97L476.87,520.06L476.92,519.26L477.37,522.87L477.54,523.1L477.87,526.46L478.15,526.66L478.37,527.75L478.77,528.55L478.87,528.08L479.37,529.85L479.38,529.46L479.87,529.67L480,531.31L480.37,530.17L480.62,531.04L480.87,530.98L481.37,531.1L481.6,531.49L481.87,531.72L482.37,530.53L482.46,531.7L482.87,531.85L483.32,531.48L483.37,531.87L483.87,532.18L484.31,532.83L484.37,531.79L484.87,532.37L485.37,531.17L485.54,531.95L485.87,530.67L486.37,530.31L486.77,530.22L486.87,529.57L487.37,528.22L487.38,527.42L487.87,530.16L488,530.41L488.37,530.64L488.87,532.06L488.98,532.98L489.37,531.89L489.85,533.14L489.87,531.89L490.37,531.46L490.71,532.94L490.87,531.27L491.37,532.24L491.69,532.19L491.87,532.53L492.31,533.64L492.37,533.96L492.87,534.73L492.92,534.84L493.37,534.41L493.54,534.95L493.87,535.71L494.15,536.5L494.15,536.5Z"/><path class="hi" d="M464.97,536.5L464.97,536.5L464.97,536.5L465.46,533.94L465.47,533.81L465.97,534.32L466.45,534.79L466.47,534.67L466.97,533.69L467.43,533.96L467.47,533.53L467.97,531.09L468.29,531.98L468.47,529.16L468.91,528.04L468.97,528.16L469.47,526.09L469.52,526.32L469.97,525.52L470.14,524.57L470.47,521.24L470.75,527.37L470.97,525.91L471.37,516.89L471.47,517.25L471.97,517.43L471.98,515.42L472.47,523.06L472.6,516.52L472.97,517.53L473.22,514.1L473.47,520.61L473.83,520.91L473.97,519.09L474.45,521.23L474.47,521L474.97,516.32L475.06,514.7L475.47,511.14L475.68,507.72L475.97,509.56L476.29,513.39L476.47,515.36L476.91,517.34L476.97,517.88L477.47,521.47L477.52,524.08L477.97,527.89L478.14,526.76L478.47,528.39L478.75,528.93L478.97,530.42L479.37,532.84L479.47,531.87L479.97,530.99L479.98,532.27L480.47,531.19L480.6,532.88L480.97,531.84L481.22,533.04L481.47,532.35L481.97,532.86L482.2,533.6L482.47,532.26L482.97,532.1L483.06,533.12L483.47,532.27L483.92,532.94L483.97,532.92L484.47,533.25L484.91,533.18L484.97,532.97L485.47,534.1L485.97,532.62L486.14,532.56L486.47,532.6L486.97,531.67L487.37,531.39L487.47,531.44L487.97,529.76L487.98,529.84L488.47,531.43L488.6,533.15L488.97,531.98L489.47,533.64L489.58,532.24L489.97,532.54L490.45,533.65L490.47,533.09L490.97,533.42L491.31,532.95L491.47,533.62L491.97,533.18L492.29,532.8L492.47,533.21L492.91,534.59L492.97,534.33L493.47,535.18L493.52,535.22L493.97,535.06L494.14,535.07L494.47,535.83L494.75,536.5"/><path d="M463.91,495.2H514.86V536.5" fill="none" stroke="#222" stroke-width="0.9"/><path d="M463.91,494.8V536.5" fill="none" stroke="#000" stroke-width="1.1"/><path d="M463.41,536.5H515.36" fill="none" stroke="#000" stroke-width="1.7"/><path d="M462.21,536.5H463.91M462.71,534.43H463.91M462.71,532.37H463.91M462.71,530.3H463.91M462.71,528.24H463.91M462.21,526.17H463.91M462.71,524.11H463.91M462.71,522.04H463.91M462.71,519.98H463.91M462.71,517.91H463.91M462.21,515.85H463.91M462.71,513.78H463.91M462.71,511.72H463.91M462.71,509.65H463.91M462.71,507.59H463.91M462.21,505.52H463.91M462.71,503.46H463.91M462.71,501.39H463.91M462.71,499.33H463.91M462.71,497.26H463.91M462.21,495.2H463.91M463.91,536.5V538.1M467.74,536.5V537.4M469.99,536.5V537.4M471.58,536.5V537.4M472.81,536.5V537.4M473.82,536.5V537.4M474.67,536.5V537.4M475.41,536.5V537.4M476.06,536.5V537.4M476.65,536.5V538.1M480.48,536.5V537.4M482.72,536.5V537.4M484.32,536.5V537.4M485.55,536.5V537.4M486.56,536.5V537.4M487.41,536.5V537.4M488.15,536.5V537.4M488.8,536.5V537.4M489.38,536.5V538.1M493.22,536.5V537.4M495.46,536.5V537.4M497.05,536.5V537.4M498.29,536.5V537.4M499.3,536.5V537.4M500.15,536.5V537.4M500.89,536.5V537.4M501.54,536.5V537.4M502.12,536.5V538.1M505.96,536.5V537.4M508.2,536.5V537.4M509.79,536.5V537.4M511.02,536.5V537.4M512.03,536.5V537.4M512.89,536.5V537.4M513.62,536.5V537.4M514.28,536.5V537.4M514.86,536.5V538.1" stroke="#111" stroke-width="0.6" fill="none"/><text class="tk" transform="translate(459.51,535.05) rotate(-90)" text-anchor="middle" font-size="4.8">0</text><text class="tk" transform="translate(459.51,525.36) rotate(-90)" text-anchor="middle" font-size="4.8">5</text><text class="tk" transform="translate(459.51,515.67) rotate(-90)" text-anchor="middle" font-size="4.8">10</text><text class="tk" transform="translate(459.51,505.99) rotate(-90)" text-anchor="middle" font-size="4.8">15</text><text class="tk" transform="translate(459.51,496.3) rotate(-90)" text-anchor="middle" font-size="4.8">20</text><text class="tk" transform="translate(454.31,516.75) rotate(-90)" font-size="5" textLength="14.8" lengthAdjust="spacingAndGlyphs" x="-7.4">Counts</text><text class="tk" x="463.31" y="544" text-anchor="middle" font-size="5.3">10</text><text class="sp" x="465.81" y="541.2">0</text><text class="tk" x="475.77" y="544" text-anchor="middle" font-size="5.3">10</text><text class="sp" x="478.27" y="541.2">1</text><text class="tk" x="488.22" y="544" text-anchor="middle" font-size="5.3">10</text><text class="sp" x="490.72" y="541.2">2</text><text class="tk" x="500.68" y="544" text-anchor="middle" font-size="5.3">10</text><text class="sp" x="503.18" y="541.2">3</text><text class="tk" x="513.14" y="544" text-anchor="middle" font-size="5.3">10</text><text class="sp" x="515.64" y="541.2">4</text><text class="tk" x="482.51" y="548.8" font-size="4.6" textLength="12.8" lengthAdjust="spacingAndGlyphs">FL2-H</text>
<path class="hg" d="M83,603.05L83,603.05L83,603.05L83.37,599.29L83.5,599.73L84,600.63L84.23,600.57L84.5,599.85L85,599.45L85.09,598.91L85.5,597.19L86,594.76L86.08,594.67L86.5,591.7L86.69,589.99L87,588.65L87.31,587.87L87.5,588.61L87.92,584.2L88,585.5L88.5,582.84L88.54,582.02L89,576.67L89.15,576.43L89.5,570.03L89.77,568.06L90,569L90.38,566.97L90.5,570.82L91,570.64L91,568.18L91.5,567.22L91.62,569.37L92,573.56L92.23,580.33L92.5,582.28L92.85,584.29L93,585.52L93.46,589.12L93.5,590.39L94,593.65L94.08,592.15L94.5,594.7L94.69,595.86L95,596.74L95.31,598.92L95.5,599.36L95.92,600.02L96,600.2L96.5,601.35L96.54,601.81L97,601.6L97.15,601.75L97.5,601.1L97.77,601.08L98,599.76L98.38,597.48L98.5,597.98L99,596.69L99,595.55L99.5,597.71L99.62,598.9L100,600.18L100.23,600.95L100.5,600.82L100.85,601.29L101,601.25L101.5,600.98L102,600.82L102.08,600.91L102.5,600L103,599.55L103.06,598.67L103.5,597.85L103.92,596.16L104,595.64L104.5,597.06L104.54,596.96L105,597.79L105.15,598.71L105.5,596.85L105.77,596.18L106,596.04L106.5,595.33L106.75,594.99L107,594.53L107.5,594.22L107.62,594.49L108,596.28L108.23,595.58L108.5,598.1L108.85,597.15L109,597.07L109.5,596.37L109.71,594.72L110,594.56L110.5,592.82L110.69,592.17L111,591.53L111.31,590.84L111.5,591.27L111.92,594.37L112,596.25L112.5,597.1L112.54,597.1L113,597.53L113.15,597.94L113.5,596.38L113.77,596.65L114,596.36L114.38,597.53L114.5,597.98L115,599.55L115,599.21L115.5,599.3L115.62,599.46L116,600.21L116.5,600.5L116.6,600.55L117,601.7L117.46,603.05L117.46,603.05Z"/><path class="hg" d="M129.77,603.05L129.77,603.05L129.77,603.05L130.14,599.21L130.27,600.69L130.63,603.05L130.63,603.05Z"/><path class="hi" d="M83.6,603.05L83.6,603.05L83.6,603.05L83.97,600.16L84.1,601.27L84.6,600.98L84.83,601.7L85.1,601.3L85.6,599.62L85.69,600.28L86.1,598.6L86.6,598.16L86.68,596.6L87.1,593.75L87.29,595.01L87.6,594.2L87.91,594.24L88.1,590.52L88.52,589.12L88.6,588.6L89.1,587.81L89.14,589.68L89.6,584.2L89.75,580.13L90.1,580.73L90.37,577.56L90.6,576.75L90.98,578.4L91.1,576.87L91.6,576.88L91.6,586.19L92.1,575.91L92.22,582.92L92.6,584.64L92.83,583.69L93.1,586.12L93.45,587.87L93.6,590.2L94.06,592.54L94.1,591.61L94.6,594.7L94.68,595.05L95.1,596.38L95.29,597.18L95.6,599.1L95.91,599.25L96.1,599.62L96.52,600.62L96.6,600.72L97.1,601.55L97.14,601.95L97.6,601.94L97.75,602.03L98.1,601.6L98.37,601.36L98.6,601.3L98.98,599.08L99.1,598.42L99.6,597.82L99.6,597.4L100.1,599.06L100.22,599.85L100.6,600.81L100.83,601.24L101.1,601.4L101.45,602.19L101.6,601.55L102.1,601.7L102.6,601.79L102.68,602.23L103.1,601.57L103.6,599.86L103.66,599.94L104.1,598.5L104.52,598.49L104.6,597.69L105.1,598.39L105.14,599.8L105.6,600.45L105.75,599.32L106.1,598.09L106.37,598.33L106.6,597.08L107.1,597.03L107.35,597.99L107.6,597.33L108.1,596.37L108.22,597.98L108.6,596.62L108.83,598.36L109.1,600.61L109.45,599.08L109.6,597.82L110.1,599.16L110.31,596.92L110.6,596.72L111.1,596.1L111.29,595.79L111.6,593.07L111.91,593.43L112.1,594.07L112.52,596.25L112.6,596.77L113.1,598.56L113.14,598.14L113.6,599.01L113.75,598.79L114.1,599.45L114.37,598.94L114.6,599.04L114.98,599.2L115.1,600.07L115.6,600.56L115.6,599.82L116.1,600.75L116.22,600.87L116.6,600.68L117.1,601.11L117.2,601.29L117.6,602.14L118.06,603.05"/><path d="M82.44,562.4H133.52V603.05" fill="none" stroke="#222" stroke-width="0.9"/><path d="M82.44,562V603.05" fill="none" stroke="#000" stroke-width="1.1"/><path d="M81.94,603.05H134.02" fill="none" stroke="#000" stroke-width="1.7"/><path d="M80.74,603.05H82.44M81.24,601.02H82.44M81.24,598.98H82.44M81.24,596.95H82.44M81.24,594.92H82.44M80.74,592.89H82.44M81.24,590.86H82.44M81.24,588.82H82.44M81.24,586.79H82.44M81.24,584.76H82.44M80.74,582.72H82.44M81.24,580.69H82.44M81.24,578.66H82.44M81.24,576.63H82.44M81.24,574.6H82.44M80.74,572.56H82.44M81.24,570.53H82.44M81.24,568.5H82.44M81.24,566.46H82.44M81.24,564.43H82.44M80.74,562.4H82.44M82.44,603.05V604.65M86.28,603.05V603.95M88.53,603.05V603.95M90.13,603.05V603.95M91.36,603.05V603.95M92.37,603.05V603.95M93.23,603.05V603.95M93.97,603.05V603.95M94.62,603.05V603.95M95.21,603.05V604.65M99.05,603.05V603.95M101.3,603.05V603.95M102.9,603.05V603.95M104.13,603.05V603.95M105.14,603.05V603.95M106,603.05V603.95M106.74,603.05V603.95M107.39,603.05V603.95M107.98,603.05V604.65M111.82,603.05V603.95M114.07,603.05V603.95M115.67,603.05V603.95M116.9,603.05V603.95M117.91,603.05V603.95M118.77,603.05V603.95M119.51,603.05V603.95M120.16,603.05V603.95M120.75,603.05V604.65M124.59,603.05V603.95M126.84,603.05V603.95M128.44,603.05V603.95M129.67,603.05V603.95M130.68,603.05V603.95M131.54,603.05V603.95M132.28,603.05V603.95M132.93,603.05V603.95M133.52,603.05V604.65" stroke="#111" stroke-width="0.6" fill="none"/><text class="tk" transform="translate(78.04,601.6) rotate(-90)" text-anchor="middle" font-size="4.8">0</text><text class="tk" transform="translate(78.04,592.07) rotate(-90)" text-anchor="middle" font-size="4.8">5</text><text class="tk" transform="translate(78.04,582.55) rotate(-90)" text-anchor="middle" font-size="4.8">10</text><text class="tk" transform="translate(78.04,573.02) rotate(-90)" text-anchor="middle" font-size="4.8">15</text><text class="tk" transform="translate(78.04,563.5) rotate(-90)" text-anchor="middle" font-size="4.8">20</text><text class="tk" transform="translate(72.84,583.62) rotate(-90)" font-size="5" textLength="14.8" lengthAdjust="spacingAndGlyphs" x="-7.4">Counts</text><text class="tk" x="81.84" y="610.55" text-anchor="middle" font-size="5.3">10</text><text class="sp" x="84.34" y="607.75">0</text><text class="tk" x="94.33" y="610.55" text-anchor="middle" font-size="5.3">10</text><text class="sp" x="96.83" y="607.75">1</text><text class="tk" x="106.82" y="610.55" text-anchor="middle" font-size="5.3">10</text><text class="sp" x="109.32" y="607.75">2</text><text class="tk" x="119.31" y="610.55" text-anchor="middle" font-size="5.3">10</text><text class="sp" x="121.81" y="607.75">3</text><text class="tk" x="131.8" y="610.55" text-anchor="middle" font-size="5.3">10</text><text class="sp" x="134.3" y="607.75">4</text><text class="tk" x="101.04" y="615.35" font-size="4.6" textLength="12.8" lengthAdjust="spacingAndGlyphs">FL2-H</text>
<path class="hg" d="M160.23,603.05L160.23,603.05L160.23,603.05L160.73,600.61L160.85,600.52L161.23,599.55L161.73,599.46L162.08,599L162.23,598.71L162.73,598.58L163.23,597.64L163.31,597.94L163.73,596.51L164.23,594.53L164.29,595.41L164.73,594.64L165.15,592.24L165.23,591.47L165.73,590.77L165.77,590.01L166.23,590.44L166.38,586.73L166.73,584.59L167,588.14L167.23,583.07L167.62,585.4L167.73,589.35L168.23,585.81L168.23,584.8L168.73,588.8L168.85,589.01L169.23,592.35L169.46,593.46L169.73,593.98L170.08,595.42L170.23,595.12L170.69,597.33L170.73,597.23L171.23,598.77L171.31,598.71L171.73,599.26L171.92,600.35L172.23,599.63L172.73,599.85L172.91,600.7L173.23,600.14L173.73,600.59L173.77,600.6L174.23,600.71L174.73,600.8L175,601.51L175.23,600.78L175.73,600.33L176.23,600.08L176.23,600.18L176.73,599.91L176.85,598.08L177.23,599.39L177.46,600.14L177.73,600.35L178.23,600.82L178.69,600.74L178.73,601.06L179.23,600.13L179.73,600.35L179.92,599.6L180.23,598.97L180.73,597.84L181.15,598.96L181.23,597.24L181.73,595.57L181.77,596.66L182.23,594.27L182.38,593.78L182.73,595.41L183,595.67L183.23,596.36L183.62,597.81L183.73,597.51L184.23,598.14L184.23,598.32L184.73,597.87L185.22,597.9L185.23,598.97L185.73,597.67L186.08,596.94L186.23,597.14L186.69,595.52L186.73,596.05L187.23,595.72L187.31,595L187.73,593.4L187.92,593.26L188.23,594.38L188.54,597.41L188.73,596.29L189.15,597.63L189.23,598.17L189.73,597.94L190.14,599.34L190.23,598.67L190.73,598.6L191,599.32L191.23,599.48L191.73,600L191.86,599.34L192.23,600.92L192.6,600.55L192.73,601.26L193.23,602.41L193.46,603.05L193.46,603.05Z"/><path class="ho" d="M159.62,603.05L159.62,603.05L159.62,603.05L159.86,595.63L160.12,596.64L160.62,596.63L160.85,597.53L161.12,596.06L161.62,595.65L161.83,594.84L162.12,593.09L162.62,590.21L162.69,589.86L163.12,586.43L163.31,584.58L163.62,584.7L164.12,583.81L164.29,583.47L164.62,580.81L165.12,580.73L165.15,578.5L165.62,576.58L165.77,574.1L166.12,573.65L166.38,573.05L166.62,572.37L167,569.77L167.12,569.12L167.62,573.52L167.62,573.05L168.12,575.73L168.23,576.72L168.62,578.51L168.85,582.09L169.12,582L169.46,584.61L169.62,586.53L170.08,589.05L170.12,588.35L170.62,592.75L170.69,592.53L171.12,593.97L171.31,594.23L171.62,595.82L171.92,595.74L172.12,596.1L172.54,596.92L172.62,597.13L173.12,598.29L173.15,598.52L173.62,599L173.77,599.27L174.12,601.44L174.38,603.05"/><path d="M159.23,562.42H209.33V603.05" fill="none" stroke="#222" stroke-width="0.9"/><path d="M159.23,562.02V603.05" fill="none" stroke="#000" stroke-width="1.1"/><path d="M158.73,603.05H209.83" fill="none" stroke="#000" stroke-width="1.7"/><path d="M157.53,603.05H159.23M158.03,601.02H159.23M158.03,598.99H159.23M158.03,596.96H159.23M158.03,594.92H159.23M157.53,592.89H159.23M158.03,590.86H159.23M158.03,588.83H159.23M158.03,586.8H159.23M158.03,584.77H159.23M157.53,582.74H159.23M158.03,580.7H159.23M158.03,578.67H159.23M158.03,576.64H159.23M158.03,574.61H159.23M157.53,572.58H159.23M158.03,570.55H159.23M158.03,568.51H159.23M158.03,566.48H159.23M158.03,564.45H159.23M157.53,562.42H159.23M159.23,603.05V604.65M163,603.05V603.95M165.21,603.05V603.95M166.77,603.05V603.95M167.98,603.05V603.95M168.98,603.05V603.95M169.81,603.05V603.95M170.54,603.05V603.95M171.18,603.05V603.95M171.75,603.05V604.65M175.52,603.05V603.95M177.73,603.05V603.95M179.3,603.05V603.95M180.51,603.05V603.95M181.5,603.05V603.95M182.34,603.05V603.95M183.07,603.05V603.95M183.71,603.05V603.95M184.28,603.05V604.65M188.05,603.05V603.95M190.26,603.05V603.95M191.82,603.05V603.95M193.03,603.05V603.95M194.03,603.05V603.95M194.86,603.05V603.95M195.59,603.05V603.95M196.23,603.05V603.95M196.8,603.05V604.65M200.57,603.05V603.95M202.78,603.05V603.95M204.35,603.05V603.95M205.56,603.05V603.95M206.55,603.05V603.95M207.39,603.05V603.95M208.12,603.05V603.95M208.76,603.05V603.95M209.33,603.05V604.65" stroke="#111" stroke-width="0.6" fill="none"/><text class="tk" transform="translate(154.83,601.6) rotate(-90)" text-anchor="middle" font-size="4.8">0</text><text class="tk" transform="translate(154.83,592.08) rotate(-90)" text-anchor="middle" font-size="4.8">5</text><text class="tk" transform="translate(154.83,582.56) rotate(-90)" text-anchor="middle" font-size="4.8">10</text><text class="tk" transform="translate(154.83,573.04) rotate(-90)" text-anchor="middle" font-size="4.8">15</text><text class="tk" transform="translate(154.83,563.52) rotate(-90)" text-anchor="middle" font-size="4.8">20</text><text class="tk" transform="translate(149.63,583.63) rotate(-90)" font-size="5" textLength="14.8" lengthAdjust="spacingAndGlyphs" x="-7.4">Counts</text><text class="tk" x="158.63" y="610.55" text-anchor="middle" font-size="5.3">10</text><text class="sp" x="161.13" y="607.75">0</text><text class="tk" x="170.87" y="610.55" text-anchor="middle" font-size="5.3">10</text><text class="sp" x="173.37" y="607.75">1</text><text class="tk" x="183.12" y="610.55" text-anchor="middle" font-size="5.3">10</text><text class="sp" x="185.62" y="607.75">2</text><text class="tk" x="195.36" y="610.55" text-anchor="middle" font-size="5.3">10</text><text class="sp" x="197.86" y="607.75">3</text><text class="tk" x="207.61" y="610.55" text-anchor="middle" font-size="5.3">10</text><text class="sp" x="210.11" y="607.75">4</text><text class="tk" x="177.83" y="615.35" font-size="4.6" textLength="12.8" lengthAdjust="spacingAndGlyphs">FL2-H</text>
<path class="hg" d="M235.86,603.05L235.86,603.05L235.86,603.05L236.23,600.55L236.36,601.11L236.86,601.04L237.09,601.84L237.36,600.71L237.86,600.28L238.08,599.36L238.36,598.67L238.69,597.05L238.86,596.47L239.31,593.11L239.36,593.3L239.86,591.95L239.92,591.51L240.36,586.55L240.54,586.35L240.86,588.91L241.15,583.29L241.36,583.09L241.77,580.43L241.86,583.38L242.36,580.8L242.38,582.27L242.86,577.73L243,580.39L243.36,582.18L243.62,573.42L243.86,573.62L244.23,573.3L244.36,576.02L244.85,573.21L244.86,577.77L245.36,570.64L245.46,572.05L245.86,575.79L246.08,578.01L246.36,578.41L246.69,579.41L246.86,580.57L247.31,584.65L247.36,584.64L247.86,591.53L247.92,594.73L248.36,592.52L248.54,594.41L248.86,596.81L249.15,597.51L249.36,597.7L249.77,599.51L249.86,599.69L250.36,601.15L250.38,601.22L250.86,602.11L251,602.44L251.36,602.81L251.62,603.05L251.62,603.05Z"/><path class="hi" d="M236.46,603.05L236.46,603.05L236.46,603.05L236.83,601.35L236.96,601.29L237.46,602L237.69,601.59L237.96,602.6L238.46,601.15L238.68,600.31L238.96,599.67L239.29,598.18L239.46,599.4L239.91,596.9L239.96,595.53L240.46,592.78L240.52,592.77L240.96,590.6L241.14,592.21L241.46,588.52L241.75,591.98L241.96,587.75L242.37,588.8L242.46,586.44L242.96,585.36L242.98,585.04L243.46,581.9L243.6,583.24L243.96,587.36L244.22,583.79L244.46,581.68L244.83,580.85L244.96,580.23L245.45,586.13L245.46,580.31L245.96,578.23L246.06,580.57L246.46,582.56L246.68,581.16L246.96,588.24L247.29,592.05L247.46,589.11L247.91,588.87L247.96,591.03L248.46,591.87L248.52,592.31L248.96,595.09L249.14,595.91L249.46,598.44L249.75,598.87L249.96,599.81L250.37,600.13L250.46,601.02L250.96,601.53L250.98,601.67L251.46,602.39L251.6,602.6L251.96,602.85L252.22,603.05"/><path d="M235.42,562.44H285.57V603.05" fill="none" stroke="#222" stroke-width="0.9"/><path d="M235.42,562.04V603.05" fill="none" stroke="#000" stroke-width="1.1"/><path d="M234.92,603.05H286.07" fill="none" stroke="#000" stroke-width="1.7"/><path d="M233.72,603.05H235.42M234.22,601.02H235.42M234.22,598.99H235.42M234.22,596.96H235.42M234.22,594.93H235.42M233.72,592.9H235.42M234.22,590.87H235.42M234.22,588.84H235.42M234.22,586.81H235.42M234.22,584.78H235.42M233.72,582.75H235.42M234.22,580.71H235.42M234.22,578.68H235.42M234.22,576.65H235.42M234.22,574.62H235.42M233.72,572.59H235.42M234.22,570.56H235.42M234.22,568.53H235.42M234.22,566.5H235.42M234.22,564.47H235.42M233.72,562.44H235.42M235.42,603.05V604.65M239.19,603.05V603.95M241.4,603.05V603.95M242.97,603.05V603.95M244.18,603.05V603.95M245.17,603.05V603.95M246.01,603.05V603.95M246.74,603.05V603.95M247.38,603.05V603.95M247.95,603.05V604.65M251.73,603.05V603.95M253.94,603.05V603.95M255.5,603.05V603.95M256.72,603.05V603.95M257.71,603.05V603.95M258.55,603.05V603.95M259.28,603.05V603.95M259.92,603.05V603.95M260.49,603.05V604.65M264.27,603.05V603.95M266.47,603.05V603.95M268.04,603.05V603.95M269.26,603.05V603.95M270.25,603.05V603.95M271.09,603.05V603.95M271.81,603.05V603.95M272.46,603.05V603.95M273.03,603.05V604.65M276.8,603.05V603.95M279.01,603.05V603.95M280.58,603.05V603.95M281.79,603.05V603.95M282.79,603.05V603.95M283.63,603.05V603.95M284.35,603.05V603.95M284.99,603.05V603.95M285.57,603.05V604.65" stroke="#111" stroke-width="0.6" fill="none"/><text class="tk" transform="translate(231.02,601.6) rotate(-90)" text-anchor="middle" font-size="4.8">0</text><text class="tk" transform="translate(231.02,592.08) rotate(-90)" text-anchor="middle" font-size="4.8">5</text><text class="tk" transform="translate(231.02,582.57) rotate(-90)" text-anchor="middle" font-size="4.8">10</text><text class="tk" transform="translate(231.02,573.06) rotate(-90)" text-anchor="middle" font-size="4.8">15</text><text class="tk" transform="translate(231.02,563.54) rotate(-90)" text-anchor="middle" font-size="4.8">20</text><text class="tk" transform="translate(225.82,583.64) rotate(-90)" font-size="5" textLength="14.8" lengthAdjust="spacingAndGlyphs" x="-7.4">Counts</text><text class="tk" x="234.82" y="610.55" text-anchor="middle" font-size="5.3">10</text><text class="sp" x="237.32" y="607.75">0</text><text class="tk" x="247.07" y="610.55" text-anchor="middle" font-size="5.3">10</text><text class="sp" x="249.57" y="607.75">1</text><text class="tk" x="259.33" y="610.55" text-anchor="middle" font-size="5.3">10</text><text class="sp" x="261.83" y="607.75">2</text><text class="tk" x="271.59" y="610.55" text-anchor="middle" font-size="5.3">10</text><text class="sp" x="274.09" y="607.75">3</text><text class="tk" x="283.85" y="610.55" text-anchor="middle" font-size="5.3">10</text><text class="sp" x="286.35" y="607.75">4</text><text class="tk" x="254.02" y="615.35" font-size="4.6" textLength="12.8" lengthAdjust="spacingAndGlyphs">FL2-H</text>
<path class="hg" d="M312.23,603.05L312.23,603.05L312.23,603.05L312.73,601.02L312.85,601.39L313.23,600.58L313.73,599.54L313.83,599.75L314.23,598.91L314.69,597.95L314.73,596.62L315.23,595.13L315.31,594.27L315.73,592.1L315.92,592.9L316.23,589.65L316.54,591.35L316.73,585.51L317.15,583.15L317.23,582.54L317.73,584.8L317.77,582.03L318.23,578.6L318.38,578.33L318.73,584.11L319,580.16L319.23,580.56L319.62,584.77L319.73,584.01L320.23,589.7L320.23,586.72L320.73,591.64L320.85,590.89L321.23,593.23L321.46,592.08L321.73,592.77L322.08,593.16L322.23,594.45L322.69,596.54L322.73,595.83L323.23,598.29L323.31,598.03L323.73,599.14L323.92,600.85L324.23,598.14L324.54,597.52L324.73,596.49L325.15,595.87L325.23,595.83L325.73,596.69L325.77,597.65L326.23,597.03L326.38,597.32L326.73,597.69L327,598.15L327.23,598.59L327.62,599.35L327.73,599.43L328.23,599.95L328.23,599.94L328.73,601.41L328.85,601.47L329.23,602.38L329.46,603.05L329.46,603.05Z"/><path class="ho" d="M311.62,603.05L311.62,603.05L311.62,603.05L311.86,595.91L312.12,595.09L312.62,595.35L312.85,595.63L313.12,595.31L313.62,594.43L313.83,593.21L314.12,591.78L314.62,590.37L314.69,589.22L315.12,587.03L315.31,585.82L315.62,585.01L315.92,584.85L316.12,580.19L316.54,577.88L316.62,576.58L317.12,575.41L317.15,575.19L317.62,569.35L317.77,569.62L318.12,568.02L318.38,562.83L318.62,564.5L319,567.95L319.12,567.26L319.62,570.29L319.62,570.82L320.12,568.18L320.23,569.33L320.62,571.32L320.85,572.38L321.12,575.79L321.46,578.07L321.62,580.01L322.08,582.65L322.12,582.62L322.62,587.04L322.69,586.98L323.12,590.25L323.31,591.98L323.62,593.46L323.92,594.3L324.12,594.2L324.62,593.95L324.91,593.7L325.12,594.24L325.62,593.26L325.77,593.96L326.12,593.18L326.62,593.12L327,593.21L327.12,593.51L327.62,594.37L328.12,593.76L328.23,593.62L328.62,595L329.09,595.82L329.12,595.9L329.62,597.4L329.83,598.49L330.12,598.85L330.62,600.46L330.69,600.49L331.12,601.25L331.55,602.03L331.62,601.82L332.12,602.55L332.54,603.05"/><path class="ho" d="M334.38,603.05L334.38,603.05L334.38,603.05L334.75,600.4L334.88,601.29L335.25,603.05"/><path d="M310.97,562.46H361.12V603.05" fill="none" stroke="#222" stroke-width="0.9"/><path d="M310.97,562.06V603.05" fill="none" stroke="#000" stroke-width="1.1"/><path d="M310.47,603.05H361.62" fill="none" stroke="#000" stroke-width="1.7"/><path d="M309.27,603.05H310.97M309.77,601.02H310.97M309.77,598.99H310.97M309.77,596.96H310.97M309.77,594.93H310.97M309.27,592.9H310.97M309.77,590.87H310.97M309.77,588.84H310.97M309.77,586.81H310.97M309.77,584.78H310.97M309.27,582.75H310.97M309.77,580.73H310.97M309.77,578.7H310.97M309.77,576.67H310.97M309.77,574.64H310.97M309.27,572.61H310.97M309.77,570.58H310.97M309.77,568.55H310.97M309.77,566.52H310.97M309.77,564.49H310.97M309.27,562.46H310.97M310.97,603.05V604.65M314.74,603.05V603.95M316.95,603.05V603.95M318.51,603.05V603.95M319.73,603.05V603.95M320.72,603.05V603.95M321.56,603.05V603.95M322.29,603.05V603.95M322.93,603.05V603.95M323.5,603.05V604.65M327.28,603.05V603.95M329.49,603.05V603.95M331.05,603.05V603.95M332.27,603.05V603.95M333.26,603.05V603.95M334.1,603.05V603.95M334.83,603.05V603.95M335.47,603.05V603.95M336.04,603.05V604.65M339.82,603.05V603.95M342.02,603.05V603.95M343.59,603.05V603.95M344.8,603.05V603.95M345.8,603.05V603.95M346.64,603.05V603.95M347.36,603.05V603.95M348,603.05V603.95M348.58,603.05V604.65M352.35,603.05V603.95M354.56,603.05V603.95M356.13,603.05V603.95M357.34,603.05V603.95M358.33,603.05V603.95M359.17,603.05V603.95M359.9,603.05V603.95M360.54,603.05V603.95M361.12,603.05V604.65" stroke="#111" stroke-width="0.6" fill="none"/><text class="tk" transform="translate(306.57,601.6) rotate(-90)" text-anchor="middle" font-size="4.8">0</text><text class="tk" transform="translate(306.57,592.09) rotate(-90)" text-anchor="middle" font-size="4.8">5</text><text class="tk" transform="translate(306.57,582.58) rotate(-90)" text-anchor="middle" font-size="4.8">10</text><text class="tk" transform="translate(306.57,573.07) rotate(-90)" text-anchor="middle" font-size="4.8">15</text><text class="tk" transform="translate(306.57,563.56) rotate(-90)" text-anchor="middle" font-size="4.8">20</text><text class="tk" transform="translate(301.37,583.65) rotate(-90)" font-size="5" textLength="14.8" lengthAdjust="spacingAndGlyphs" x="-7.4">Counts</text><text class="tk" x="310.37" y="610.55" text-anchor="middle" font-size="5.3">10</text><text class="sp" x="312.87" y="607.75">0</text><text class="tk" x="322.62" y="610.55" text-anchor="middle" font-size="5.3">10</text><text class="sp" x="325.12" y="607.75">1</text><text class="tk" x="334.88" y="610.55" text-anchor="middle" font-size="5.3">10</text><text class="sp" x="337.38" y="607.75">2</text><text class="tk" x="347.14" y="610.55" text-anchor="middle" font-size="5.3">10</text><text class="sp" x="349.64" y="607.75">3</text><text class="tk" x="359.4" y="610.55" text-anchor="middle" font-size="5.3">10</text><text class="sp" x="361.9" y="607.75">4</text><text class="tk" x="329.57" y="615.35" font-size="4.6" textLength="12.8" lengthAdjust="spacingAndGlyphs">FL2-H</text>
<path class="hg" d="M387,603.05L387,603.05L387,603.05L387.37,596.21L387.5,596.49L388,599.4L388.23,600.62L388.5,599.8L389,598.92L389.09,598.82L389.5,596.61L389.83,594.8L390,593.55L390.5,589.72L390.69,590.18L391,584.41L391.31,580.43L391.5,578.96L391.92,580.38L392,581.59L392.5,571.49L392.54,571.86L393,567.56L393.15,576.39L393.5,571.09L393.77,569.1L394,571.35L394.38,570.89L394.5,572.59L395,579.15L395,579.58L395.5,586.47L395.62,587.77L396,590.85L396.23,590.72L396.5,590.02L396.85,593.84L397,592.16L397.46,592.98L397.5,592.2L398,594.57L398.08,594.8L398.5,597.23L398.69,597.77L399,599.17L399.31,599.88L399.5,599.66L399.92,601.26L400,600.54L400.5,600.59L400.91,601.19L401,600.58L401.5,600.41L401.77,600.01L402,599.82L402.5,599.82L403,599.62L403,600.39L403.5,599.73L404,599.78L404.23,599.72L404.5,599.5L405,600.03L405.46,599.26L405.5,599.07L406,599.12L406.5,598.86L406.69,598.91L407,597.59L407.31,595.8L407.5,595.41L407.92,596.04L408,595.24L408.5,596.72L408.54,597.41L409,597.14L409.15,596.32L409.5,596.38L409.77,595.73L410,596.58L410.5,596.46L410.75,596.23L411,596.17L411.5,595.94L411.62,595.93L412,594.75L412.48,594.99L412.5,595.28L413,594.99L413.46,592.83L413.5,594.42L414,591.17L414.08,591.41L414.5,590.87L414.69,588.69L415,590.45L415.31,591.88L415.5,592.54L415.92,593L416,592.98L416.5,590.85L416.54,591.14L417,591.58L417.15,589.2L417.5,589.07L417.77,589.51L418,590.79L418.38,593.73L418.5,592.96L419,596.43L419,595.89L419.5,597.94L419.62,598.03L420,598.88L420.5,600.66L420.6,599.99L421,601.66L421.46,603.05L421.46,603.05Z"/><path class="hi" d="M387.6,603.05L387.6,603.05L387.6,603.05L387.97,597.75L388.1,598.99L388.6,600.09L388.83,601.33L389.1,600.78L389.6,599.62L389.69,599.88L390.1,597.75L390.43,596.95L390.6,595.52L391.1,592.77L391.29,591.32L391.6,589.86L391.91,592.82L392.1,585.05L392.52,584.25L392.6,580.86L393.1,587.51L393.14,577.52L393.6,584.25L393.75,583.71L394.1,575.16L394.37,580.15L394.6,578.6L394.98,580.15L395.1,580.25L395.6,584.44L395.6,588.3L396.1,590.6L396.22,593.4L396.6,593.85L396.83,592.34L397.1,594.66L397.45,596.56L397.6,595.77L398.06,596.09L398.1,596.41L398.6,597.59L398.68,596.33L399.1,598.09L399.29,598.71L399.6,599.58L399.91,600.54L400.1,600.45L400.52,602.04L400.6,601.39L401.1,601.21L401.51,601.65L401.6,601.22L402.1,601.27L402.37,600.6L402.6,600.6L403.1,600.37L403.6,600.51L403.6,600.65L404.1,600.36L404.6,600.17L404.83,600.8L405.1,600.62L405.6,600.24L406.06,599.92L406.1,600.44L406.6,600.27L407.1,599.7L407.29,600.29L407.6,598.69L407.91,597.97L408.1,598.47L408.52,597.89L408.6,597.43L409.1,598.33L409.14,599L409.6,598.99L409.75,598.08L410.1,597.5L410.37,598.64L410.6,598.44L411.1,598.55L411.35,597.87L411.6,597.61L412.1,597.3L412.22,598.55L412.6,597.28L413.08,596.25L413.1,596.22L413.6,596.74L414.06,595.15L414.1,594.24L414.6,593.74L414.68,594.02L415.1,592.43L415.29,593.07L415.6,592.99L415.91,595.94L416.1,595.74L416.52,595.42L416.6,597.16L417.1,593.56L417.14,594.52L417.6,594.66L417.75,593.46L418.1,592.82L418.37,594.93L418.6,594.93L418.98,595.15L419.1,595.86L419.6,598.87L419.6,597.19L420.1,599.08L420.22,599.67L420.6,599.91L421.1,601.49L421.2,600.93L421.6,602.2L422.06,603.05"/><path d="M386.59,562.48H437.29V603.05" fill="none" stroke="#222" stroke-width="0.9"/><path d="M386.59,562.08V603.05" fill="none" stroke="#000" stroke-width="1.1"/><path d="M386.09,603.05H437.79" fill="none" stroke="#000" stroke-width="1.7"/><path d="M384.89,603.05H386.59M385.39,601.02H386.59M385.39,598.99H386.59M385.39,596.96H386.59M385.39,594.94H386.59M384.89,592.91H386.59M385.39,590.88H386.59M385.39,588.85H386.59M385.39,586.82H386.59M385.39,584.79H386.59M384.89,582.76H386.59M385.39,580.74H386.59M385.39,578.71H386.59M385.39,576.68H386.59M385.39,574.65H386.59M384.89,572.62H386.59M385.39,570.59H386.59M385.39,568.57H386.59M385.39,566.54H386.59M385.39,564.51H386.59M384.89,562.48H386.59M386.59,603.05V604.65M390.41,603.05V603.95M392.64,603.05V603.95M394.23,603.05V603.95M395.45,603.05V603.95M396.46,603.05V603.95M397.31,603.05V603.95M398.04,603.05V603.95M398.69,603.05V603.95M399.27,603.05V604.65M403.08,603.05V603.95M405.32,603.05V603.95M406.9,603.05V603.95M408.13,603.05V603.95M409.13,603.05V603.95M409.98,603.05V603.95M410.72,603.05V603.95M411.36,603.05V603.95M411.94,603.05V604.65M415.76,603.05V603.95M417.99,603.05V603.95M419.58,603.05V603.95M420.8,603.05V603.95M421.81,603.05V603.95M422.66,603.05V603.95M423.39,603.05V603.95M424.04,603.05V603.95M424.62,603.05V604.65M428.43,603.05V603.95M430.67,603.05V603.95M432.25,603.05V603.95M433.48,603.05V603.95M434.48,603.05V603.95M435.33,603.05V603.95M436.07,603.05V603.95M436.71,603.05V603.95M437.29,603.05V604.65" stroke="#111" stroke-width="0.6" fill="none"/><text class="tk" transform="translate(382.19,601.6) rotate(-90)" text-anchor="middle" font-size="4.8">0</text><text class="tk" transform="translate(382.19,592.09) rotate(-90)" text-anchor="middle" font-size="4.8">5</text><text class="tk" transform="translate(382.19,582.59) rotate(-90)" text-anchor="middle" font-size="4.8">10</text><text class="tk" transform="translate(382.19,573.09) rotate(-90)" text-anchor="middle" font-size="4.8">15</text><text class="tk" transform="translate(382.19,563.58) rotate(-90)" text-anchor="middle" font-size="4.8">20</text><text class="tk" transform="translate(376.99,583.66) rotate(-90)" font-size="5" textLength="14.8" lengthAdjust="spacingAndGlyphs" x="-7.4">Counts</text><text class="tk" x="385.99" y="610.55" text-anchor="middle" font-size="5.3">10</text><text class="sp" x="388.49" y="607.75">0</text><text class="tk" x="398.39" y="610.55" text-anchor="middle" font-size="5.3">10</text><text class="sp" x="400.89" y="607.75">1</text><text class="tk" x="410.78" y="610.55" text-anchor="middle" font-size="5.3">10</text><text class="sp" x="413.28" y="607.75">2</text><text class="tk" x="423.18" y="610.55" text-anchor="middle" font-size="5.3">10</text><text class="sp" x="425.68" y="607.75">3</text><text class="tk" x="435.57" y="610.55" text-anchor="middle" font-size="5.3">10</text><text class="sp" x="438.07" y="607.75">4</text><text class="tk" x="405.19" y="615.35" font-size="4.6" textLength="12.8" lengthAdjust="spacingAndGlyphs">FL2-H</text>
<path class="hg" d="M465.85,603.05L465.85,603.05L465.85,603.05L466.35,600.88L466.46,600.42L466.85,599.9L467.32,599.76L467.35,599.32L467.85,599.77L468.31,598.4L468.35,597.69L468.85,597.12L469.29,596.28L469.35,595.54L469.85,595.08L470.15,594.58L470.35,592.46L470.77,592.32L470.85,589.56L471.35,585.71L471.38,589.7L471.85,582.67L472,582.63L472.35,581.47L472.62,580.12L472.85,581.88L473.23,576.39L473.35,574.45L473.85,574.57L473.85,576.13L474.35,576.78L474.46,579.69L474.85,576.79L475.08,577.99L475.35,582.62L475.69,580.84L475.85,580.89L476.31,587.02L476.35,584.52L476.85,587.39L476.92,588.56L477.35,591.59L477.54,594.03L477.85,595.22L478.15,596.37L478.35,596.1L478.77,597.01L478.85,597.14L479.35,595.28L479.38,595.09L479.85,595.11L480,594.8L480.35,595.25L480.62,595.53L480.85,594.94L481.23,591.76L481.35,591.04L481.85,590.68L481.85,590.62L482.35,588.95L482.46,587.83L482.85,589.04L483.08,588.61L483.35,588.42L483.85,589.8L484.31,590.61L484.35,589.54L484.85,588.91L485.35,587.45L485.54,588.1L485.85,587.84L486.35,587.13L486.77,589.51L486.85,587.92L487.35,590.48L487.75,593.35L487.85,589.71L488.25,595.67L488.35,592.36L488.85,594.11L488.98,592.82L489.35,593.35L489.85,595.6L489.85,595.51L490.35,593.84L490.46,593.63L490.85,597.27L491.08,594.9L491.35,594.56L491.69,595.25L491.85,595.93L492.31,598.09L492.35,597.34L492.85,599.62L492.92,599.9L493.35,601.96L493.54,603.05L493.54,603.05Z"/><path class="ho" d="M464.86,603.05L464.86,603.05L464.86,603.05L465.23,595.38L465.36,596.08L465.86,599.06L466.09,599.39L466.36,599.23L466.86,597.25L467.08,596.54L467.36,594.7L467.69,591.71L467.86,592.42L468.31,590.88L468.36,591.58L468.86,591.45L468.92,592.54L469.36,588.13L469.54,584.07L469.86,582.74L470.15,578.49L470.36,570.76L470.52,567.16L470.86,570.95L471.02,574.22L471.36,579.52L471.51,581.89L471.86,579.57L472,576.74L472.36,581.24L472.62,581.65L472.86,584.82L473.23,587.15L473.36,587.86L473.85,592.22L473.86,592.05L474.36,594.95L474.46,595.48L474.86,597.25L475.08,597.76"/><path d="M464.3,562.5H515.25V603.05" fill="none" stroke="#222" stroke-width="0.9"/><path d="M464.3,562.1V603.05" fill="none" stroke="#000" stroke-width="1.1"/><path d="M463.8,603.05H515.75" fill="none" stroke="#000" stroke-width="1.7"/><path d="M462.6,603.05H464.3M463.1,601.02H464.3M463.1,599H464.3M463.1,596.97H464.3M463.1,594.94H464.3M462.6,592.91H464.3M463.1,590.88H464.3M463.1,588.86H464.3M463.1,586.83H464.3M463.1,584.8H464.3M462.6,582.77H464.3M463.1,580.75H464.3M463.1,578.72H464.3M463.1,576.69H464.3M463.1,574.66H464.3M462.6,572.64H464.3M463.1,570.61H464.3M463.1,568.58H464.3M463.1,566.55H464.3M463.1,564.53H464.3M462.6,562.5H464.3M464.3,603.05V604.65M468.14,603.05V603.95M470.38,603.05V603.95M471.97,603.05V603.95M473.21,603.05V603.95M474.21,603.05V603.95M475.07,603.05V603.95M475.81,603.05V603.95M476.46,603.05V603.95M477.04,603.05V604.65M480.87,603.05V603.95M483.12,603.05V603.95M484.71,603.05V603.95M485.94,603.05V603.95M486.95,603.05V603.95M487.8,603.05V603.95M488.54,603.05V603.95M489.19,603.05V603.95M489.78,603.05V604.65M493.61,603.05V603.95M495.85,603.05V603.95M497.45,603.05V603.95M498.68,603.05V603.95M499.69,603.05V603.95M500.54,603.05V603.95M501.28,603.05V603.95M501.93,603.05V603.95M502.51,603.05V604.65M506.35,603.05V603.95M508.59,603.05V603.95M510.18,603.05V603.95M511.42,603.05V603.95M512.43,603.05V603.95M513.28,603.05V603.95M514.02,603.05V603.95M514.67,603.05V603.95M515.25,603.05V604.65" stroke="#111" stroke-width="0.6" fill="none"/><text class="tk" transform="translate(459.9,601.6) rotate(-90)" text-anchor="middle" font-size="4.8">0</text><text class="tk" transform="translate(459.9,592.1) rotate(-90)" text-anchor="middle" font-size="4.8">5</text><text class="tk" transform="translate(459.9,582.6) rotate(-90)" text-anchor="middle" font-size="4.8">10</text><text class="tk" transform="translate(459.9,573.1) rotate(-90)" text-anchor="middle" font-size="4.8">15</text><text class="tk" transform="translate(459.9,563.6) rotate(-90)" text-anchor="middle" font-size="4.8">20</text><text class="tk" transform="translate(454.7,583.67) rotate(-90)" font-size="5" textLength="14.8" lengthAdjust="spacingAndGlyphs" x="-7.4">Counts</text><text class="tk" x="463.7" y="610.55" text-anchor="middle" font-size="5.3">10</text><text class="sp" x="466.2" y="607.75">0</text><text class="tk" x="476.16" y="610.55" text-anchor="middle" font-size="5.3">10</text><text class="sp" x="478.66" y="607.75">1</text><text class="tk" x="488.62" y="610.55" text-anchor="middle" font-size="5.3">10</text><text class="sp" x="491.12" y="607.75">2</text><text class="tk" x="501.07" y="610.55" text-anchor="middle" font-size="5.3">10</text><text class="sp" x="503.57" y="607.75">3</text><text class="tk" x="513.53" y="610.55" text-anchor="middle" font-size="5.3">10</text><text class="sp" x="516.03" y="607.75">4</text><text class="tk" x="482.9" y="615.35" font-size="4.6" textLength="12.8" lengthAdjust="spacingAndGlyphs">FL2-H</text>
</svg></body></html>
